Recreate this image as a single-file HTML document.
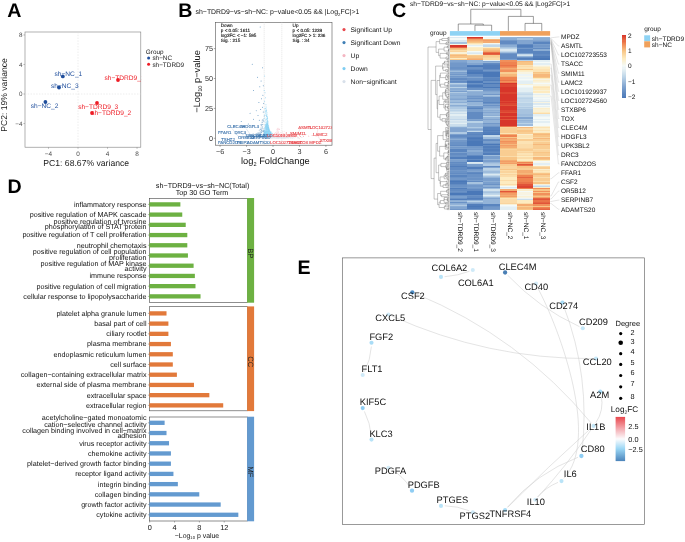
<!DOCTYPE html>
<html lang="en"><head><meta charset="utf-8"><title>Figure</title>
<style>html,body{margin:0;padding:0;background:#fff;}svg{display:block;will-change:transform;}text{font-family:"Liberation Sans",sans-serif;text-rendering:geometricPrecision;}</style>
</head><body>
<svg width="685" height="542" viewBox="0 0 685 542">
<rect x="0" y="0" width="685" height="542" fill="#ffffff"/>
<g>
<text x="7.30" y="17.20" font-size="19.6" fill="#000" text-anchor="start" font-weight="bold" >A</text>
<text x="178.20" y="17.20" font-size="19.6" fill="#000" text-anchor="start" font-weight="bold" >B</text>
<text x="392.00" y="17.20" font-size="19.6" fill="#000" text-anchor="start" font-weight="bold" >C</text>
<text x="7.60" y="192.60" font-size="19.6" fill="#000" text-anchor="start" font-weight="bold" >D</text>
<text x="297.40" y="274.40" font-size="19.6" fill="#000" text-anchor="start" font-weight="bold" >E</text>
</g>
<g>
<rect x="25.00" y="32.00" width="115.80" height="115.20" fill="#fff" stroke="#7f7f7f" stroke-width="0.6" />
<line x1="78.00" y1="32.00" x2="78.00" y2="147.20" stroke="#d9d9d9" stroke-width="0.5" stroke-dasharray="1.4 1.4"/>
<line x1="25.00" y1="94.00" x2="140.80" y2="94.00" stroke="#d9d9d9" stroke-width="0.5" stroke-dasharray="1.4 1.4"/>
<line x1="48.48" y1="147.20" x2="48.48" y2="148.80" stroke="#7f7f7f" stroke-width="0.5" />
<text x="48.48" y="155.90" font-size="6.4" fill="#4d4d4d" text-anchor="middle" font-weight="normal" >−4</text>
<line x1="78.00" y1="147.20" x2="78.00" y2="148.80" stroke="#7f7f7f" stroke-width="0.5" />
<text x="78.00" y="155.90" font-size="6.4" fill="#4d4d4d" text-anchor="middle" font-weight="normal" >0</text>
<line x1="107.52" y1="147.20" x2="107.52" y2="148.80" stroke="#7f7f7f" stroke-width="0.5" />
<text x="107.52" y="155.90" font-size="6.4" fill="#4d4d4d" text-anchor="middle" font-weight="normal" >4</text>
<line x1="137.04" y1="147.20" x2="137.04" y2="148.80" stroke="#7f7f7f" stroke-width="0.5" />
<text x="137.04" y="155.90" font-size="6.4" fill="#4d4d4d" text-anchor="middle" font-weight="normal" >8</text>
<line x1="23.40" y1="123.52" x2="25.00" y2="123.52" stroke="#7f7f7f" stroke-width="0.5" />
<text x="22.40" y="125.72" font-size="6.3" fill="#4d4d4d" text-anchor="end" font-weight="normal" >−4</text>
<line x1="23.40" y1="94.00" x2="25.00" y2="94.00" stroke="#7f7f7f" stroke-width="0.5" />
<text x="22.40" y="96.20" font-size="6.3" fill="#4d4d4d" text-anchor="end" font-weight="normal" >0</text>
<line x1="23.40" y1="64.48" x2="25.00" y2="64.48" stroke="#7f7f7f" stroke-width="0.5" />
<text x="22.40" y="66.68" font-size="6.3" fill="#4d4d4d" text-anchor="end" font-weight="normal" >4</text>
<line x1="23.40" y1="34.96" x2="25.00" y2="34.96" stroke="#7f7f7f" stroke-width="0.5" />
<text x="22.40" y="37.16" font-size="6.3" fill="#4d4d4d" text-anchor="end" font-weight="normal" >8</text>
<clipPath id="clipA"><rect x="25.0" y="32.0" width="116.30000000000001" height="115.19999999999999"/></clipPath>
<g clip-path="url(#clipA)">
<circle cx="62.80" cy="76.40" r="1.90" fill="#1f4e9c" />
<circle cx="59.00" cy="87.50" r="1.90" fill="#1f4e9c" />
<circle cx="45.40" cy="102.00" r="1.90" fill="#1f4e9c" />
<circle cx="118.00" cy="80.00" r="1.90" fill="#ee1c25" />
<circle cx="97.00" cy="103.00" r="1.90" fill="#ee1c25" />
<circle cx="92.00" cy="113.00" r="1.90" fill="#ee1c25" />
<text x="68.40" y="76.40" font-size="6.6" fill="#1f4e9c" text-anchor="middle" font-weight="normal" >sh−NC_1</text>
<text x="64.80" y="87.60" font-size="6.6" fill="#1f4e9c" text-anchor="middle" font-weight="normal" >sh−NC_3</text>
<text x="44.60" y="108.40" font-size="6.6" fill="#1f4e9c" text-anchor="middle" font-weight="normal" >sh−NC_2</text>
<text x="124.50" y="80.40" font-size="6.6" fill="#ee1c25" text-anchor="middle" font-weight="normal" >sh−TDRD9_1</text>
<text x="98.20" y="108.80" font-size="6.6" fill="#ee1c25" text-anchor="middle" font-weight="normal" >sh−TDRD9_3</text>
<text x="111.20" y="114.60" font-size="6.6" fill="#ee1c25" text-anchor="middle" font-weight="normal" >sh−TDRD9_2</text>
</g>
<text x="86.20" y="166.10" font-size="8.65" fill="#1a1a1a" text-anchor="middle" font-weight="normal" >PC1: 68.67% variance</text>
<text transform="translate(6.80,95.00) rotate(-90)" font-size="8.6" fill="#1a1a1a" text-anchor="middle" >PC2: 19% variance</text>
<text x="145.80" y="53.60" font-size="6.4" fill="#1a1a1a" text-anchor="start" font-weight="normal" >Group</text>
<circle cx="148.60" cy="58.00" r="1.50" fill="#1f4e9c" />
<circle cx="148.60" cy="64.30" r="1.50" fill="#ee1c25" />
<text x="152.40" y="60.30" font-size="6.4" fill="#1a1a1a" text-anchor="start" font-weight="normal" >sh−NC</text>
<text x="152.40" y="66.60" font-size="6.4" fill="#1a1a1a" text-anchor="start" font-weight="normal" >sh−TDRD9</text>
</g>
<g>
<text x="195.6" y="14.3" font-size="6.9" fill="#111">sh−TDRD9−vs−sh−NC: p−value&lt;0.05 &amp;&amp; |Log<tspan font-size="4.4" dy="1.6">2</tspan><tspan dy="-1.6">FC|&gt;1</tspan></text>
<rect x="215.40" y="22.30" width="116.60" height="122.90" fill="#fff" stroke="#555" stroke-width="0.6" />
<line x1="264.18" y1="22.30" x2="264.18" y2="145.20" stroke="#c8c8c8" stroke-width="0.5" stroke-dasharray="1 1"/>
<line x1="281.82" y1="22.30" x2="281.82" y2="145.20" stroke="#c8c8c8" stroke-width="0.5" stroke-dasharray="1 1"/>
<line x1="220.08" y1="145.20" x2="220.08" y2="146.80" stroke="#555" stroke-width="0.5" />
<text x="220.08" y="153.80" font-size="7.2" fill="#333" text-anchor="middle" font-weight="normal" >−6</text>
<line x1="246.54" y1="145.20" x2="246.54" y2="146.80" stroke="#555" stroke-width="0.5" />
<text x="246.54" y="153.80" font-size="7.2" fill="#333" text-anchor="middle" font-weight="normal" >−3</text>
<line x1="273.00" y1="145.20" x2="273.00" y2="146.80" stroke="#555" stroke-width="0.5" />
<text x="273.00" y="153.80" font-size="7.2" fill="#333" text-anchor="middle" font-weight="normal" >0</text>
<line x1="299.46" y1="145.20" x2="299.46" y2="146.80" stroke="#555" stroke-width="0.5" />
<text x="299.46" y="153.80" font-size="7.2" fill="#333" text-anchor="middle" font-weight="normal" >3</text>
<line x1="325.92" y1="145.20" x2="325.92" y2="146.80" stroke="#555" stroke-width="0.5" />
<text x="325.92" y="153.80" font-size="7.2" fill="#333" text-anchor="middle" font-weight="normal" >6</text>
<line x1="213.80" y1="138.30" x2="215.40" y2="138.30" stroke="#555" stroke-width="0.5" />
<text x="213.00" y="140.80" font-size="7.2" fill="#333" text-anchor="end" font-weight="normal" >0</text>
<line x1="213.80" y1="108.40" x2="215.40" y2="108.40" stroke="#555" stroke-width="0.5" />
<text x="213.00" y="110.90" font-size="7.2" fill="#333" text-anchor="end" font-weight="normal" >25</text>
<line x1="213.80" y1="78.50" x2="215.40" y2="78.50" stroke="#555" stroke-width="0.5" />
<text x="213.00" y="81.00" font-size="7.2" fill="#333" text-anchor="end" font-weight="normal" >50</text>
<line x1="213.80" y1="48.60" x2="215.40" y2="48.60" stroke="#555" stroke-width="0.5" />
<text x="213.00" y="51.10" font-size="7.2" fill="#333" text-anchor="end" font-weight="normal" >75</text>
<clipPath id="clipB"><rect x="215.4" y="22.3" width="116.6" height="122.89999999999999"/></clipPath>
<g clip-path="url(#clipB)">
<path fill="#d8e0ea" opacity="0.8" d="M269.84 137.96a0.45 0.45 0 1 0 0.90 0a0.45 0.45 0 1 0 -0.90 0M270.16 138.09a0.45 0.45 0 1 0 0.90 0a0.45 0.45 0 1 0 -0.90 0M262.71 138.16a0.45 0.45 0 1 0 0.90 0a0.45 0.45 0 1 0 -0.90 0M284.32 138.02a0.45 0.45 0 1 0 0.90 0a0.45 0.45 0 1 0 -0.90 0M283.52 138.14a0.45 0.45 0 1 0 0.90 0a0.45 0.45 0 1 0 -0.90 0M276.73 138.18a0.45 0.45 0 1 0 0.90 0a0.45 0.45 0 1 0 -0.90 0M254.92 137.74a0.45 0.45 0 1 0 0.90 0a0.45 0.45 0 1 0 -0.90 0M277.91 137.97a0.45 0.45 0 1 0 0.90 0a0.45 0.45 0 1 0 -0.90 0M254.65 137.15a0.45 0.45 0 1 0 0.90 0a0.45 0.45 0 1 0 -0.90 0M263.13 137.99a0.45 0.45 0 1 0 0.90 0a0.45 0.45 0 1 0 -0.90 0M275.78 138.27a0.45 0.45 0 1 0 0.90 0a0.45 0.45 0 1 0 -0.90 0M278.06 137.88a0.45 0.45 0 1 0 0.90 0a0.45 0.45 0 1 0 -0.90 0M275.82 138.04a0.45 0.45 0 1 0 0.90 0a0.45 0.45 0 1 0 -0.90 0M265.55 137.17a0.45 0.45 0 1 0 0.90 0a0.45 0.45 0 1 0 -0.90 0M278.44 137.51a0.45 0.45 0 1 0 0.90 0a0.45 0.45 0 1 0 -0.90 0M265.98 137.81a0.45 0.45 0 1 0 0.90 0a0.45 0.45 0 1 0 -0.90 0M268.91 138.23a0.45 0.45 0 1 0 0.90 0a0.45 0.45 0 1 0 -0.90 0M279.24 138.14a0.45 0.45 0 1 0 0.90 0a0.45 0.45 0 1 0 -0.90 0M267.82 137.67a0.45 0.45 0 1 0 0.90 0a0.45 0.45 0 1 0 -0.90 0M267.04 137.50a0.45 0.45 0 1 0 0.90 0a0.45 0.45 0 1 0 -0.90 0M264.00 138.14a0.45 0.45 0 1 0 0.90 0a0.45 0.45 0 1 0 -0.90 0M277.06 137.32a0.45 0.45 0 1 0 0.90 0a0.45 0.45 0 1 0 -0.90 0M273.06 137.44a0.45 0.45 0 1 0 0.90 0a0.45 0.45 0 1 0 -0.90 0M251.23 138.09a0.45 0.45 0 1 0 0.90 0a0.45 0.45 0 1 0 -0.90 0M271.43 137.76a0.45 0.45 0 1 0 0.90 0a0.45 0.45 0 1 0 -0.90 0M277.81 138.26a0.45 0.45 0 1 0 0.90 0a0.45 0.45 0 1 0 -0.90 0M257.05 137.76a0.45 0.45 0 1 0 0.90 0a0.45 0.45 0 1 0 -0.90 0M279.63 137.68a0.45 0.45 0 1 0 0.90 0a0.45 0.45 0 1 0 -0.90 0M287.80 138.06a0.45 0.45 0 1 0 0.90 0a0.45 0.45 0 1 0 -0.90 0M273.81 137.45a0.45 0.45 0 1 0 0.90 0a0.45 0.45 0 1 0 -0.90 0M279.06 137.90a0.45 0.45 0 1 0 0.90 0a0.45 0.45 0 1 0 -0.90 0M267.76 137.47a0.45 0.45 0 1 0 0.90 0a0.45 0.45 0 1 0 -0.90 0M262.31 137.95a0.45 0.45 0 1 0 0.90 0a0.45 0.45 0 1 0 -0.90 0M286.19 136.96a0.45 0.45 0 1 0 0.90 0a0.45 0.45 0 1 0 -0.90 0M257.12 138.14a0.45 0.45 0 1 0 0.90 0a0.45 0.45 0 1 0 -0.90 0M287.83 137.92a0.45 0.45 0 1 0 0.90 0a0.45 0.45 0 1 0 -0.90 0M252.44 136.64a0.45 0.45 0 1 0 0.90 0a0.45 0.45 0 1 0 -0.90 0M276.33 137.82a0.45 0.45 0 1 0 0.90 0a0.45 0.45 0 1 0 -0.90 0M260.70 137.66a0.45 0.45 0 1 0 0.90 0a0.45 0.45 0 1 0 -0.90 0M284.21 138.20a0.45 0.45 0 1 0 0.90 0a0.45 0.45 0 1 0 -0.90 0M275.15 138.01a0.45 0.45 0 1 0 0.90 0a0.45 0.45 0 1 0 -0.90 0M289.42 137.89a0.45 0.45 0 1 0 0.90 0a0.45 0.45 0 1 0 -0.90 0M278.04 137.94a0.45 0.45 0 1 0 0.90 0a0.45 0.45 0 1 0 -0.90 0M255.95 137.46a0.45 0.45 0 1 0 0.90 0a0.45 0.45 0 1 0 -0.90 0M282.66 137.95a0.45 0.45 0 1 0 0.90 0a0.45 0.45 0 1 0 -0.90 0M251.66 137.88a0.45 0.45 0 1 0 0.90 0a0.45 0.45 0 1 0 -0.90 0M281.46 137.11a0.45 0.45 0 1 0 0.90 0a0.45 0.45 0 1 0 -0.90 0M270.60 137.63a0.45 0.45 0 1 0 0.90 0a0.45 0.45 0 1 0 -0.90 0M258.67 137.24a0.45 0.45 0 1 0 0.90 0a0.45 0.45 0 1 0 -0.90 0M278.39 138.20a0.45 0.45 0 1 0 0.90 0a0.45 0.45 0 1 0 -0.90 0M275.99 137.87a0.45 0.45 0 1 0 0.90 0a0.45 0.45 0 1 0 -0.90 0M273.82 137.55a0.45 0.45 0 1 0 0.90 0a0.45 0.45 0 1 0 -0.90 0M265.55 138.03a0.45 0.45 0 1 0 0.90 0a0.45 0.45 0 1 0 -0.90 0M283.58 138.28a0.45 0.45 0 1 0 0.90 0a0.45 0.45 0 1 0 -0.90 0M263.23 137.68a0.45 0.45 0 1 0 0.90 0a0.45 0.45 0 1 0 -0.90 0M288.06 138.01a0.45 0.45 0 1 0 0.90 0a0.45 0.45 0 1 0 -0.90 0M257.94 138.21a0.45 0.45 0 1 0 0.90 0a0.45 0.45 0 1 0 -0.90 0M270.97 138.10a0.45 0.45 0 1 0 0.90 0a0.45 0.45 0 1 0 -0.90 0M287.42 137.62a0.45 0.45 0 1 0 0.90 0a0.45 0.45 0 1 0 -0.90 0M285.89 137.47a0.45 0.45 0 1 0 0.90 0a0.45 0.45 0 1 0 -0.90 0M264.22 137.88a0.45 0.45 0 1 0 0.90 0a0.45 0.45 0 1 0 -0.90 0M284.50 137.73a0.45 0.45 0 1 0 0.90 0a0.45 0.45 0 1 0 -0.90 0M276.20 138.21a0.45 0.45 0 1 0 0.90 0a0.45 0.45 0 1 0 -0.90 0M274.16 137.92a0.45 0.45 0 1 0 0.90 0a0.45 0.45 0 1 0 -0.90 0M270.69 138.12a0.45 0.45 0 1 0 0.90 0a0.45 0.45 0 1 0 -0.90 0M278.61 138.30a0.45 0.45 0 1 0 0.90 0a0.45 0.45 0 1 0 -0.90 0M280.64 137.93a0.45 0.45 0 1 0 0.90 0a0.45 0.45 0 1 0 -0.90 0M293.83 138.09a0.45 0.45 0 1 0 0.90 0a0.45 0.45 0 1 0 -0.90 0M268.02 138.05a0.45 0.45 0 1 0 0.90 0a0.45 0.45 0 1 0 -0.90 0M272.41 137.69a0.45 0.45 0 1 0 0.90 0a0.45 0.45 0 1 0 -0.90 0M268.99 138.05a0.45 0.45 0 1 0 0.90 0a0.45 0.45 0 1 0 -0.90 0M292.00 136.61a0.45 0.45 0 1 0 0.90 0a0.45 0.45 0 1 0 -0.90 0M260.65 138.14a0.45 0.45 0 1 0 0.90 0a0.45 0.45 0 1 0 -0.90 0M276.77 138.14a0.45 0.45 0 1 0 0.90 0a0.45 0.45 0 1 0 -0.90 0M267.99 137.87a0.45 0.45 0 1 0 0.90 0a0.45 0.45 0 1 0 -0.90 0M275.54 137.96a0.45 0.45 0 1 0 0.90 0a0.45 0.45 0 1 0 -0.90 0M298.27 138.07a0.45 0.45 0 1 0 0.90 0a0.45 0.45 0 1 0 -0.90 0M266.68 138.23a0.45 0.45 0 1 0 0.90 0a0.45 0.45 0 1 0 -0.90 0M270.16 138.26a0.45 0.45 0 1 0 0.90 0a0.45 0.45 0 1 0 -0.90 0M243.68 137.98a0.45 0.45 0 1 0 0.90 0a0.45 0.45 0 1 0 -0.90 0M283.22 137.53a0.45 0.45 0 1 0 0.90 0a0.45 0.45 0 1 0 -0.90 0M271.84 137.67a0.45 0.45 0 1 0 0.90 0a0.45 0.45 0 1 0 -0.90 0M281.61 137.32a0.45 0.45 0 1 0 0.90 0a0.45 0.45 0 1 0 -0.90 0M254.54 138.07a0.45 0.45 0 1 0 0.90 0a0.45 0.45 0 1 0 -0.90 0M268.94 137.89a0.45 0.45 0 1 0 0.90 0a0.45 0.45 0 1 0 -0.90 0M284.11 136.54a0.45 0.45 0 1 0 0.90 0a0.45 0.45 0 1 0 -0.90 0M284.07 137.35a0.45 0.45 0 1 0 0.90 0a0.45 0.45 0 1 0 -0.90 0M279.78 137.32a0.45 0.45 0 1 0 0.90 0a0.45 0.45 0 1 0 -0.90 0M274.41 137.51a0.45 0.45 0 1 0 0.90 0a0.45 0.45 0 1 0 -0.90 0M270.97 138.17a0.45 0.45 0 1 0 0.90 0a0.45 0.45 0 1 0 -0.90 0M280.99 138.21a0.45 0.45 0 1 0 0.90 0a0.45 0.45 0 1 0 -0.90 0M271.61 137.29a0.45 0.45 0 1 0 0.90 0a0.45 0.45 0 1 0 -0.90 0M283.65 138.11a0.45 0.45 0 1 0 0.90 0a0.45 0.45 0 1 0 -0.90 0M301.61 137.55a0.45 0.45 0 1 0 0.90 0a0.45 0.45 0 1 0 -0.90 0M282.23 138.13a0.45 0.45 0 1 0 0.90 0a0.45 0.45 0 1 0 -0.90 0M273.95 137.84a0.45 0.45 0 1 0 0.90 0a0.45 0.45 0 1 0 -0.90 0M274.90 137.88a0.45 0.45 0 1 0 0.90 0a0.45 0.45 0 1 0 -0.90 0M256.38 137.31a0.45 0.45 0 1 0 0.90 0a0.45 0.45 0 1 0 -0.90 0M279.06 137.67a0.45 0.45 0 1 0 0.90 0a0.45 0.45 0 1 0 -0.90 0M261.68 137.33a0.45 0.45 0 1 0 0.90 0a0.45 0.45 0 1 0 -0.90 0M285.95 137.81a0.45 0.45 0 1 0 0.90 0a0.45 0.45 0 1 0 -0.90 0M288.14 137.68a0.45 0.45 0 1 0 0.90 0a0.45 0.45 0 1 0 -0.90 0M272.56 137.55a0.45 0.45 0 1 0 0.90 0a0.45 0.45 0 1 0 -0.90 0M280.66 137.25a0.45 0.45 0 1 0 0.90 0a0.45 0.45 0 1 0 -0.90 0M263.13 137.27a0.45 0.45 0 1 0 0.90 0a0.45 0.45 0 1 0 -0.90 0M283.01 138.18a0.45 0.45 0 1 0 0.90 0a0.45 0.45 0 1 0 -0.90 0M251.68 137.37a0.45 0.45 0 1 0 0.90 0a0.45 0.45 0 1 0 -0.90 0M271.53 137.90a0.45 0.45 0 1 0 0.90 0a0.45 0.45 0 1 0 -0.90 0M276.78 138.03a0.45 0.45 0 1 0 0.90 0a0.45 0.45 0 1 0 -0.90 0M288.41 137.63a0.45 0.45 0 1 0 0.90 0a0.45 0.45 0 1 0 -0.90 0M284.58 137.32a0.45 0.45 0 1 0 0.90 0a0.45 0.45 0 1 0 -0.90 0M287.92 138.18a0.45 0.45 0 1 0 0.90 0a0.45 0.45 0 1 0 -0.90 0M264.68 137.63a0.45 0.45 0 1 0 0.90 0a0.45 0.45 0 1 0 -0.90 0M273.77 138.22a0.45 0.45 0 1 0 0.90 0a0.45 0.45 0 1 0 -0.90 0M287.62 138.13a0.45 0.45 0 1 0 0.90 0a0.45 0.45 0 1 0 -0.90 0M248.24 138.05a0.45 0.45 0 1 0 0.90 0a0.45 0.45 0 1 0 -0.90 0M252.93 137.76a0.45 0.45 0 1 0 0.90 0a0.45 0.45 0 1 0 -0.90 0M275.91 137.90a0.45 0.45 0 1 0 0.90 0a0.45 0.45 0 1 0 -0.90 0M272.45 137.75a0.45 0.45 0 1 0 0.90 0a0.45 0.45 0 1 0 -0.90 0M273.39 137.43a0.45 0.45 0 1 0 0.90 0a0.45 0.45 0 1 0 -0.90 0M271.90 137.62a0.45 0.45 0 1 0 0.90 0a0.45 0.45 0 1 0 -0.90 0M288.34 137.24a0.45 0.45 0 1 0 0.90 0a0.45 0.45 0 1 0 -0.90 0M265.44 137.72a0.45 0.45 0 1 0 0.90 0a0.45 0.45 0 1 0 -0.90 0M252.69 137.59a0.45 0.45 0 1 0 0.90 0a0.45 0.45 0 1 0 -0.90 0M251.78 137.60a0.45 0.45 0 1 0 0.90 0a0.45 0.45 0 1 0 -0.90 0M259.51 138.29a0.45 0.45 0 1 0 0.90 0a0.45 0.45 0 1 0 -0.90 0M270.52 138.28a0.45 0.45 0 1 0 0.90 0a0.45 0.45 0 1 0 -0.90 0M266.29 138.15a0.45 0.45 0 1 0 0.90 0a0.45 0.45 0 1 0 -0.90 0M291.51 138.27a0.45 0.45 0 1 0 0.90 0a0.45 0.45 0 1 0 -0.90 0M278.17 137.64a0.45 0.45 0 1 0 0.90 0a0.45 0.45 0 1 0 -0.90 0M270.45 137.47a0.45 0.45 0 1 0 0.90 0a0.45 0.45 0 1 0 -0.90 0M266.67 137.59a0.45 0.45 0 1 0 0.90 0a0.45 0.45 0 1 0 -0.90 0M255.13 137.91a0.45 0.45 0 1 0 0.90 0a0.45 0.45 0 1 0 -0.90 0M283.21 137.78a0.45 0.45 0 1 0 0.90 0a0.45 0.45 0 1 0 -0.90 0M272.63 137.77a0.45 0.45 0 1 0 0.90 0a0.45 0.45 0 1 0 -0.90 0M274.31 137.52a0.45 0.45 0 1 0 0.90 0a0.45 0.45 0 1 0 -0.90 0M256.00 137.88a0.45 0.45 0 1 0 0.90 0a0.45 0.45 0 1 0 -0.90 0M282.32 137.93a0.45 0.45 0 1 0 0.90 0a0.45 0.45 0 1 0 -0.90 0M263.00 137.79a0.45 0.45 0 1 0 0.90 0a0.45 0.45 0 1 0 -0.90 0M256.34 138.22a0.45 0.45 0 1 0 0.90 0a0.45 0.45 0 1 0 -0.90 0M260.07 138.06a0.45 0.45 0 1 0 0.90 0a0.45 0.45 0 1 0 -0.90 0M247.57 138.08a0.45 0.45 0 1 0 0.90 0a0.45 0.45 0 1 0 -0.90 0M265.76 137.02a0.45 0.45 0 1 0 0.90 0a0.45 0.45 0 1 0 -0.90 0M280.22 138.12a0.45 0.45 0 1 0 0.90 0a0.45 0.45 0 1 0 -0.90 0M248.95 137.72a0.45 0.45 0 1 0 0.90 0a0.45 0.45 0 1 0 -0.90 0M275.63 138.00a0.45 0.45 0 1 0 0.90 0a0.45 0.45 0 1 0 -0.90 0M280.81 137.81a0.45 0.45 0 1 0 0.90 0a0.45 0.45 0 1 0 -0.90 0M279.60 138.09a0.45 0.45 0 1 0 0.90 0a0.45 0.45 0 1 0 -0.90 0M286.67 137.87a0.45 0.45 0 1 0 0.90 0a0.45 0.45 0 1 0 -0.90 0M277.33 136.93a0.45 0.45 0 1 0 0.90 0a0.45 0.45 0 1 0 -0.90 0M282.04 137.44a0.45 0.45 0 1 0 0.90 0a0.45 0.45 0 1 0 -0.90 0M269.41 137.99a0.45 0.45 0 1 0 0.90 0a0.45 0.45 0 1 0 -0.90 0M293.09 137.14a0.45 0.45 0 1 0 0.90 0a0.45 0.45 0 1 0 -0.90 0M277.51 136.71a0.45 0.45 0 1 0 0.90 0a0.45 0.45 0 1 0 -0.90 0M262.73 137.85a0.45 0.45 0 1 0 0.90 0a0.45 0.45 0 1 0 -0.90 0M292.52 138.22a0.45 0.45 0 1 0 0.90 0a0.45 0.45 0 1 0 -0.90 0M278.49 137.71a0.45 0.45 0 1 0 0.90 0a0.45 0.45 0 1 0 -0.90 0M262.96 138.24a0.45 0.45 0 1 0 0.90 0a0.45 0.45 0 1 0 -0.90 0M275.65 137.76a0.45 0.45 0 1 0 0.90 0a0.45 0.45 0 1 0 -0.90 0M272.18 138.17a0.45 0.45 0 1 0 0.90 0a0.45 0.45 0 1 0 -0.90 0M261.80 138.06a0.45 0.45 0 1 0 0.90 0a0.45 0.45 0 1 0 -0.90 0M281.99 138.23a0.45 0.45 0 1 0 0.90 0a0.45 0.45 0 1 0 -0.90 0M263.52 137.75a0.45 0.45 0 1 0 0.90 0a0.45 0.45 0 1 0 -0.90 0M300.77 137.55a0.45 0.45 0 1 0 0.90 0a0.45 0.45 0 1 0 -0.90 0M279.30 136.59a0.45 0.45 0 1 0 0.90 0a0.45 0.45 0 1 0 -0.90 0M279.13 137.98a0.45 0.45 0 1 0 0.90 0a0.45 0.45 0 1 0 -0.90 0M290.37 138.02a0.45 0.45 0 1 0 0.90 0a0.45 0.45 0 1 0 -0.90 0M271.84 137.96a0.45 0.45 0 1 0 0.90 0a0.45 0.45 0 1 0 -0.90 0M251.97 137.62a0.45 0.45 0 1 0 0.90 0a0.45 0.45 0 1 0 -0.90 0M275.99 137.84a0.45 0.45 0 1 0 0.90 0a0.45 0.45 0 1 0 -0.90 0M286.58 137.11a0.45 0.45 0 1 0 0.90 0a0.45 0.45 0 1 0 -0.90 0M257.71 137.86a0.45 0.45 0 1 0 0.90 0a0.45 0.45 0 1 0 -0.90 0M275.63 138.18a0.45 0.45 0 1 0 0.90 0a0.45 0.45 0 1 0 -0.90 0M268.33 137.66a0.45 0.45 0 1 0 0.90 0a0.45 0.45 0 1 0 -0.90 0M294.99 137.62a0.45 0.45 0 1 0 0.90 0a0.45 0.45 0 1 0 -0.90 0M259.91 137.42a0.45 0.45 0 1 0 0.90 0a0.45 0.45 0 1 0 -0.90 0M290.58 137.65a0.45 0.45 0 1 0 0.90 0a0.45 0.45 0 1 0 -0.90 0M291.82 137.77a0.45 0.45 0 1 0 0.90 0a0.45 0.45 0 1 0 -0.90 0M263.32 138.13a0.45 0.45 0 1 0 0.90 0a0.45 0.45 0 1 0 -0.90 0M249.69 137.81a0.45 0.45 0 1 0 0.90 0a0.45 0.45 0 1 0 -0.90 0M271.93 137.96a0.45 0.45 0 1 0 0.90 0a0.45 0.45 0 1 0 -0.90 0M264.85 138.22a0.45 0.45 0 1 0 0.90 0a0.45 0.45 0 1 0 -0.90 0M277.40 138.05a0.45 0.45 0 1 0 0.90 0a0.45 0.45 0 1 0 -0.90 0M279.30 138.16a0.45 0.45 0 1 0 0.90 0a0.45 0.45 0 1 0 -0.90 0M269.12 137.78a0.45 0.45 0 1 0 0.90 0a0.45 0.45 0 1 0 -0.90 0M273.07 137.76a0.45 0.45 0 1 0 0.90 0a0.45 0.45 0 1 0 -0.90 0M265.93 138.30a0.45 0.45 0 1 0 0.90 0a0.45 0.45 0 1 0 -0.90 0M271.39 138.20a0.45 0.45 0 1 0 0.90 0a0.45 0.45 0 1 0 -0.90 0M272.54 138.18a0.45 0.45 0 1 0 0.90 0a0.45 0.45 0 1 0 -0.90 0M271.13 137.47a0.45 0.45 0 1 0 0.90 0a0.45 0.45 0 1 0 -0.90 0M277.01 137.61a0.45 0.45 0 1 0 0.90 0a0.45 0.45 0 1 0 -0.90 0M277.15 138.18a0.45 0.45 0 1 0 0.90 0a0.45 0.45 0 1 0 -0.90 0M277.28 137.66a0.45 0.45 0 1 0 0.90 0a0.45 0.45 0 1 0 -0.90 0M252.48 138.26a0.45 0.45 0 1 0 0.90 0a0.45 0.45 0 1 0 -0.90 0M262.70 137.81a0.45 0.45 0 1 0 0.90 0a0.45 0.45 0 1 0 -0.90 0M261.08 136.57a0.45 0.45 0 1 0 0.90 0a0.45 0.45 0 1 0 -0.90 0M261.55 137.26a0.45 0.45 0 1 0 0.90 0a0.45 0.45 0 1 0 -0.90 0M268.51 137.40a0.45 0.45 0 1 0 0.90 0a0.45 0.45 0 1 0 -0.90 0M264.47 137.96a0.45 0.45 0 1 0 0.90 0a0.45 0.45 0 1 0 -0.90 0M277.81 138.18a0.45 0.45 0 1 0 0.90 0a0.45 0.45 0 1 0 -0.90 0M288.26 137.84a0.45 0.45 0 1 0 0.90 0a0.45 0.45 0 1 0 -0.90 0M272.33 137.91a0.45 0.45 0 1 0 0.90 0a0.45 0.45 0 1 0 -0.90 0M290.06 137.66a0.45 0.45 0 1 0 0.90 0a0.45 0.45 0 1 0 -0.90 0M283.39 137.59a0.45 0.45 0 1 0 0.90 0a0.45 0.45 0 1 0 -0.90 0M270.98 137.82a0.45 0.45 0 1 0 0.90 0a0.45 0.45 0 1 0 -0.90 0M269.41 137.60a0.45 0.45 0 1 0 0.90 0a0.45 0.45 0 1 0 -0.90 0M278.86 137.70a0.45 0.45 0 1 0 0.90 0a0.45 0.45 0 1 0 -0.90 0M270.30 136.62a0.45 0.45 0 1 0 0.90 0a0.45 0.45 0 1 0 -0.90 0M285.67 138.16a0.45 0.45 0 1 0 0.90 0a0.45 0.45 0 1 0 -0.90 0M273.51 136.59a0.45 0.45 0 1 0 0.90 0a0.45 0.45 0 1 0 -0.90 0M268.92 137.72a0.45 0.45 0 1 0 0.90 0a0.45 0.45 0 1 0 -0.90 0M282.93 138.30a0.45 0.45 0 1 0 0.90 0a0.45 0.45 0 1 0 -0.90 0M260.20 138.18a0.45 0.45 0 1 0 0.90 0a0.45 0.45 0 1 0 -0.90 0M276.35 137.56a0.45 0.45 0 1 0 0.90 0a0.45 0.45 0 1 0 -0.90 0M280.84 138.28a0.45 0.45 0 1 0 0.90 0a0.45 0.45 0 1 0 -0.90 0M281.58 137.94a0.45 0.45 0 1 0 0.90 0a0.45 0.45 0 1 0 -0.90 0M274.73 138.26a0.45 0.45 0 1 0 0.90 0a0.45 0.45 0 1 0 -0.90 0M269.97 137.85a0.45 0.45 0 1 0 0.90 0a0.45 0.45 0 1 0 -0.90 0M261.39 137.89a0.45 0.45 0 1 0 0.90 0a0.45 0.45 0 1 0 -0.90 0M272.60 137.34a0.45 0.45 0 1 0 0.90 0a0.45 0.45 0 1 0 -0.90 0M267.94 136.98a0.45 0.45 0 1 0 0.90 0a0.45 0.45 0 1 0 -0.90 0M265.32 137.93a0.45 0.45 0 1 0 0.90 0a0.45 0.45 0 1 0 -0.90 0M278.54 138.26a0.45 0.45 0 1 0 0.90 0a0.45 0.45 0 1 0 -0.90 0M270.09 137.37a0.45 0.45 0 1 0 0.90 0a0.45 0.45 0 1 0 -0.90 0M291.90 137.96a0.45 0.45 0 1 0 0.90 0a0.45 0.45 0 1 0 -0.90 0M284.12 137.72a0.45 0.45 0 1 0 0.90 0a0.45 0.45 0 1 0 -0.90 0M270.59 137.10a0.45 0.45 0 1 0 0.90 0a0.45 0.45 0 1 0 -0.90 0M280.81 137.68a0.45 0.45 0 1 0 0.90 0a0.45 0.45 0 1 0 -0.90 0M252.47 138.27a0.45 0.45 0 1 0 0.90 0a0.45 0.45 0 1 0 -0.90 0M279.22 137.14a0.45 0.45 0 1 0 0.90 0a0.45 0.45 0 1 0 -0.90 0M253.23 137.60a0.45 0.45 0 1 0 0.90 0a0.45 0.45 0 1 0 -0.90 0M265.89 137.38a0.45 0.45 0 1 0 0.90 0a0.45 0.45 0 1 0 -0.90 0M272.88 138.14a0.45 0.45 0 1 0 0.90 0a0.45 0.45 0 1 0 -0.90 0M279.26 137.84a0.45 0.45 0 1 0 0.90 0a0.45 0.45 0 1 0 -0.90 0M288.45 137.53a0.45 0.45 0 1 0 0.90 0a0.45 0.45 0 1 0 -0.90 0M258.67 137.97a0.45 0.45 0 1 0 0.90 0a0.45 0.45 0 1 0 -0.90 0M261.33 137.59a0.45 0.45 0 1 0 0.90 0a0.45 0.45 0 1 0 -0.90 0M271.69 138.30a0.45 0.45 0 1 0 0.90 0a0.45 0.45 0 1 0 -0.90 0M277.74 137.26a0.45 0.45 0 1 0 0.90 0a0.45 0.45 0 1 0 -0.90 0M259.45 138.28a0.45 0.45 0 1 0 0.90 0a0.45 0.45 0 1 0 -0.90 0M270.44 138.10a0.45 0.45 0 1 0 0.90 0a0.45 0.45 0 1 0 -0.90 0M271.88 137.80a0.45 0.45 0 1 0 0.90 0a0.45 0.45 0 1 0 -0.90 0M279.97 138.07a0.45 0.45 0 1 0 0.90 0a0.45 0.45 0 1 0 -0.90 0M271.62 137.86a0.45 0.45 0 1 0 0.90 0a0.45 0.45 0 1 0 -0.90 0M270.71 136.51a0.45 0.45 0 1 0 0.90 0a0.45 0.45 0 1 0 -0.90 0M262.16 138.28a0.45 0.45 0 1 0 0.90 0a0.45 0.45 0 1 0 -0.90 0M256.63 138.17a0.45 0.45 0 1 0 0.90 0a0.45 0.45 0 1 0 -0.90 0M274.11 137.39a0.45 0.45 0 1 0 0.90 0a0.45 0.45 0 1 0 -0.90 0M269.90 138.09a0.45 0.45 0 1 0 0.90 0a0.45 0.45 0 1 0 -0.90 0M277.42 137.90a0.45 0.45 0 1 0 0.90 0a0.45 0.45 0 1 0 -0.90 0M272.17 137.74a0.45 0.45 0 1 0 0.90 0a0.45 0.45 0 1 0 -0.90 0M271.02 138.26a0.45 0.45 0 1 0 0.90 0a0.45 0.45 0 1 0 -0.90 0M280.32 138.11a0.45 0.45 0 1 0 0.90 0a0.45 0.45 0 1 0 -0.90 0M264.90 137.41a0.45 0.45 0 1 0 0.90 0a0.45 0.45 0 1 0 -0.90 0M268.60 137.81a0.45 0.45 0 1 0 0.90 0a0.45 0.45 0 1 0 -0.90 0M260.78 138.22a0.45 0.45 0 1 0 0.90 0a0.45 0.45 0 1 0 -0.90 0M267.35 138.23a0.45 0.45 0 1 0 0.90 0a0.45 0.45 0 1 0 -0.90 0M278.09 138.03a0.45 0.45 0 1 0 0.90 0a0.45 0.45 0 1 0 -0.90 0M297.15 138.09a0.45 0.45 0 1 0 0.90 0a0.45 0.45 0 1 0 -0.90 0M284.21 138.22a0.45 0.45 0 1 0 0.90 0a0.45 0.45 0 1 0 -0.90 0M284.36 136.74a0.45 0.45 0 1 0 0.90 0a0.45 0.45 0 1 0 -0.90 0M264.60 138.14a0.45 0.45 0 1 0 0.90 0a0.45 0.45 0 1 0 -0.90 0M278.93 136.76a0.45 0.45 0 1 0 0.90 0a0.45 0.45 0 1 0 -0.90 0M275.96 137.46a0.45 0.45 0 1 0 0.90 0a0.45 0.45 0 1 0 -0.90 0M280.66 137.68a0.45 0.45 0 1 0 0.90 0a0.45 0.45 0 1 0 -0.90 0M277.95 138.20a0.45 0.45 0 1 0 0.90 0a0.45 0.45 0 1 0 -0.90 0M277.94 137.59a0.45 0.45 0 1 0 0.90 0a0.45 0.45 0 1 0 -0.90 0M285.05 137.63a0.45 0.45 0 1 0 0.90 0a0.45 0.45 0 1 0 -0.90 0M275.19 136.90a0.45 0.45 0 1 0 0.90 0a0.45 0.45 0 1 0 -0.90 0M270.19 138.29a0.45 0.45 0 1 0 0.90 0a0.45 0.45 0 1 0 -0.90 0M284.86 138.28a0.45 0.45 0 1 0 0.90 0a0.45 0.45 0 1 0 -0.90 0M264.00 138.13a0.45 0.45 0 1 0 0.90 0a0.45 0.45 0 1 0 -0.90 0M278.71 137.83a0.45 0.45 0 1 0 0.90 0a0.45 0.45 0 1 0 -0.90 0M264.37 137.15a0.45 0.45 0 1 0 0.90 0a0.45 0.45 0 1 0 -0.90 0M290.19 138.29a0.45 0.45 0 1 0 0.90 0a0.45 0.45 0 1 0 -0.90 0M275.39 138.02a0.45 0.45 0 1 0 0.90 0a0.45 0.45 0 1 0 -0.90 0M287.52 137.84a0.45 0.45 0 1 0 0.90 0a0.45 0.45 0 1 0 -0.90 0M279.68 137.98a0.45 0.45 0 1 0 0.90 0a0.45 0.45 0 1 0 -0.90 0M265.20 137.83a0.45 0.45 0 1 0 0.90 0a0.45 0.45 0 1 0 -0.90 0M286.67 138.29a0.45 0.45 0 1 0 0.90 0a0.45 0.45 0 1 0 -0.90 0M265.38 137.77a0.45 0.45 0 1 0 0.90 0a0.45 0.45 0 1 0 -0.90 0M272.03 138.10a0.45 0.45 0 1 0 0.90 0a0.45 0.45 0 1 0 -0.90 0M288.67 137.56a0.45 0.45 0 1 0 0.90 0a0.45 0.45 0 1 0 -0.90 0M267.05 136.80a0.45 0.45 0 1 0 0.90 0a0.45 0.45 0 1 0 -0.90 0M272.59 137.78a0.45 0.45 0 1 0 0.90 0a0.45 0.45 0 1 0 -0.90 0M265.70 138.27a0.45 0.45 0 1 0 0.90 0a0.45 0.45 0 1 0 -0.90 0M254.03 137.12a0.45 0.45 0 1 0 0.90 0a0.45 0.45 0 1 0 -0.90 0M287.01 137.50a0.45 0.45 0 1 0 0.90 0a0.45 0.45 0 1 0 -0.90 0M256.62 137.23a0.45 0.45 0 1 0 0.90 0a0.45 0.45 0 1 0 -0.90 0M284.99 138.00a0.45 0.45 0 1 0 0.90 0a0.45 0.45 0 1 0 -0.90 0M271.91 138.09a0.45 0.45 0 1 0 0.90 0a0.45 0.45 0 1 0 -0.90 0M271.27 137.58a0.45 0.45 0 1 0 0.90 0a0.45 0.45 0 1 0 -0.90 0M272.81 137.35a0.45 0.45 0 1 0 0.90 0a0.45 0.45 0 1 0 -0.90 0M271.79 138.10a0.45 0.45 0 1 0 0.90 0a0.45 0.45 0 1 0 -0.90 0M277.50 138.15a0.45 0.45 0 1 0 0.90 0a0.45 0.45 0 1 0 -0.90 0M262.99 138.20a0.45 0.45 0 1 0 0.90 0a0.45 0.45 0 1 0 -0.90 0M267.42 137.27a0.45 0.45 0 1 0 0.90 0a0.45 0.45 0 1 0 -0.90 0M280.68 138.22a0.45 0.45 0 1 0 0.90 0a0.45 0.45 0 1 0 -0.90 0M267.56 137.84a0.45 0.45 0 1 0 0.90 0a0.45 0.45 0 1 0 -0.90 0M262.63 138.07a0.45 0.45 0 1 0 0.90 0a0.45 0.45 0 1 0 -0.90 0"/>
<path d="M261.98,137.10 L264.18,131.12 L265.50,124.55 L267.53,123.35 L269.30,128.13 L271.24,133.52 L273.00,137.10 Z" fill="#93d4f4" opacity="0.8"/>
<path fill="#7fcdf2" opacity="0.75" d="M266.61 133.48a0.45 0.45 0 1 0 0.90 0a0.45 0.45 0 1 0 -0.90 0M266.12 111.19a0.45 0.45 0 1 0 0.90 0a0.45 0.45 0 1 0 -0.90 0M268.81 130.13a0.45 0.45 0 1 0 0.90 0a0.45 0.45 0 1 0 -0.90 0M267.23 117.89a0.45 0.45 0 1 0 0.90 0a0.45 0.45 0 1 0 -0.90 0M268.41 135.65a0.45 0.45 0 1 0 0.90 0a0.45 0.45 0 1 0 -0.90 0M266.88 135.75a0.45 0.45 0 1 0 0.90 0a0.45 0.45 0 1 0 -0.90 0M267.78 134.61a0.45 0.45 0 1 0 0.90 0a0.45 0.45 0 1 0 -0.90 0M266.45 132.17a0.45 0.45 0 1 0 0.90 0a0.45 0.45 0 1 0 -0.90 0M271.43 133.44a0.45 0.45 0 1 0 0.90 0a0.45 0.45 0 1 0 -0.90 0M269.21 134.74a0.45 0.45 0 1 0 0.90 0a0.45 0.45 0 1 0 -0.90 0M269.56 135.15a0.45 0.45 0 1 0 0.90 0a0.45 0.45 0 1 0 -0.90 0M265.87 129.34a0.45 0.45 0 1 0 0.90 0a0.45 0.45 0 1 0 -0.90 0M265.61 107.02a0.45 0.45 0 1 0 0.90 0a0.45 0.45 0 1 0 -0.90 0M266.58 135.03a0.45 0.45 0 1 0 0.90 0a0.45 0.45 0 1 0 -0.90 0M270.37 132.63a0.45 0.45 0 1 0 0.90 0a0.45 0.45 0 1 0 -0.90 0M267.32 134.29a0.45 0.45 0 1 0 0.90 0a0.45 0.45 0 1 0 -0.90 0M267.48 131.74a0.45 0.45 0 1 0 0.90 0a0.45 0.45 0 1 0 -0.90 0M265.61 125.89a0.45 0.45 0 1 0 0.90 0a0.45 0.45 0 1 0 -0.90 0M268.48 129.22a0.45 0.45 0 1 0 0.90 0a0.45 0.45 0 1 0 -0.90 0M266.70 121.19a0.45 0.45 0 1 0 0.90 0a0.45 0.45 0 1 0 -0.90 0M267.18 119.90a0.45 0.45 0 1 0 0.90 0a0.45 0.45 0 1 0 -0.90 0M270.15 136.75a0.45 0.45 0 1 0 0.90 0a0.45 0.45 0 1 0 -0.90 0M266.77 129.76a0.45 0.45 0 1 0 0.90 0a0.45 0.45 0 1 0 -0.90 0M269.09 131.33a0.45 0.45 0 1 0 0.90 0a0.45 0.45 0 1 0 -0.90 0M265.62 135.01a0.45 0.45 0 1 0 0.90 0a0.45 0.45 0 1 0 -0.90 0M267.55 135.35a0.45 0.45 0 1 0 0.90 0a0.45 0.45 0 1 0 -0.90 0M270.56 132.20a0.45 0.45 0 1 0 0.90 0a0.45 0.45 0 1 0 -0.90 0M267.73 127.43a0.45 0.45 0 1 0 0.90 0a0.45 0.45 0 1 0 -0.90 0M269.51 134.67a0.45 0.45 0 1 0 0.90 0a0.45 0.45 0 1 0 -0.90 0M270.26 134.42a0.45 0.45 0 1 0 0.90 0a0.45 0.45 0 1 0 -0.90 0M266.31 132.58a0.45 0.45 0 1 0 0.90 0a0.45 0.45 0 1 0 -0.90 0M264.48 131.21a0.45 0.45 0 1 0 0.90 0a0.45 0.45 0 1 0 -0.90 0M268.79 136.22a0.45 0.45 0 1 0 0.90 0a0.45 0.45 0 1 0 -0.90 0M267.29 125.26a0.45 0.45 0 1 0 0.90 0a0.45 0.45 0 1 0 -0.90 0M264.12 135.43a0.45 0.45 0 1 0 0.90 0a0.45 0.45 0 1 0 -0.90 0M264.83 122.47a0.45 0.45 0 1 0 0.90 0a0.45 0.45 0 1 0 -0.90 0M266.11 128.23a0.45 0.45 0 1 0 0.90 0a0.45 0.45 0 1 0 -0.90 0M266.76 136.68a0.45 0.45 0 1 0 0.90 0a0.45 0.45 0 1 0 -0.90 0M264.31 131.59a0.45 0.45 0 1 0 0.90 0a0.45 0.45 0 1 0 -0.90 0M265.90 119.66a0.45 0.45 0 1 0 0.90 0a0.45 0.45 0 1 0 -0.90 0M265.39 132.03a0.45 0.45 0 1 0 0.90 0a0.45 0.45 0 1 0 -0.90 0M268.93 135.59a0.45 0.45 0 1 0 0.90 0a0.45 0.45 0 1 0 -0.90 0M263.92 132.30a0.45 0.45 0 1 0 0.90 0a0.45 0.45 0 1 0 -0.90 0M268.10 136.67a0.45 0.45 0 1 0 0.90 0a0.45 0.45 0 1 0 -0.90 0M270.56 135.15a0.45 0.45 0 1 0 0.90 0a0.45 0.45 0 1 0 -0.90 0M267.22 133.49a0.45 0.45 0 1 0 0.90 0a0.45 0.45 0 1 0 -0.90 0M269.75 135.96a0.45 0.45 0 1 0 0.90 0a0.45 0.45 0 1 0 -0.90 0M271.62 136.69a0.45 0.45 0 1 0 0.90 0a0.45 0.45 0 1 0 -0.90 0M268.47 131.24a0.45 0.45 0 1 0 0.90 0a0.45 0.45 0 1 0 -0.90 0M265.30 132.98a0.45 0.45 0 1 0 0.90 0a0.45 0.45 0 1 0 -0.90 0M266.20 125.02a0.45 0.45 0 1 0 0.90 0a0.45 0.45 0 1 0 -0.90 0M270.72 136.12a0.45 0.45 0 1 0 0.90 0a0.45 0.45 0 1 0 -0.90 0M265.39 112.77a0.45 0.45 0 1 0 0.90 0a0.45 0.45 0 1 0 -0.90 0M267.62 134.49a0.45 0.45 0 1 0 0.90 0a0.45 0.45 0 1 0 -0.90 0M266.59 131.57a0.45 0.45 0 1 0 0.90 0a0.45 0.45 0 1 0 -0.90 0M264.79 133.51a0.45 0.45 0 1 0 0.90 0a0.45 0.45 0 1 0 -0.90 0M268.03 135.06a0.45 0.45 0 1 0 0.90 0a0.45 0.45 0 1 0 -0.90 0M270.09 131.96a0.45 0.45 0 1 0 0.90 0a0.45 0.45 0 1 0 -0.90 0M265.63 134.20a0.45 0.45 0 1 0 0.90 0a0.45 0.45 0 1 0 -0.90 0M268.45 127.93a0.45 0.45 0 1 0 0.90 0a0.45 0.45 0 1 0 -0.90 0M266.31 134.56a0.45 0.45 0 1 0 0.90 0a0.45 0.45 0 1 0 -0.90 0M266.52 129.03a0.45 0.45 0 1 0 0.90 0a0.45 0.45 0 1 0 -0.90 0M267.01 118.32a0.45 0.45 0 1 0 0.90 0a0.45 0.45 0 1 0 -0.90 0M264.59 109.79a0.45 0.45 0 1 0 0.90 0a0.45 0.45 0 1 0 -0.90 0M269.65 131.70a0.45 0.45 0 1 0 0.90 0a0.45 0.45 0 1 0 -0.90 0M267.93 125.25a0.45 0.45 0 1 0 0.90 0a0.45 0.45 0 1 0 -0.90 0M266.02 116.47a0.45 0.45 0 1 0 0.90 0a0.45 0.45 0 1 0 -0.90 0M264.06 130.50a0.45 0.45 0 1 0 0.90 0a0.45 0.45 0 1 0 -0.90 0M266.61 129.74a0.45 0.45 0 1 0 0.90 0a0.45 0.45 0 1 0 -0.90 0M267.92 136.74a0.45 0.45 0 1 0 0.90 0a0.45 0.45 0 1 0 -0.90 0M266.09 131.16a0.45 0.45 0 1 0 0.90 0a0.45 0.45 0 1 0 -0.90 0M270.53 136.42a0.45 0.45 0 1 0 0.90 0a0.45 0.45 0 1 0 -0.90 0M265.79 128.73a0.45 0.45 0 1 0 0.90 0a0.45 0.45 0 1 0 -0.90 0M267.59 124.80a0.45 0.45 0 1 0 0.90 0a0.45 0.45 0 1 0 -0.90 0M266.23 136.18a0.45 0.45 0 1 0 0.90 0a0.45 0.45 0 1 0 -0.90 0M269.37 134.48a0.45 0.45 0 1 0 0.90 0a0.45 0.45 0 1 0 -0.90 0M270.71 136.17a0.45 0.45 0 1 0 0.90 0a0.45 0.45 0 1 0 -0.90 0M270.35 136.69a0.45 0.45 0 1 0 0.90 0a0.45 0.45 0 1 0 -0.90 0M270.67 133.28a0.45 0.45 0 1 0 0.90 0a0.45 0.45 0 1 0 -0.90 0M265.12 136.27a0.45 0.45 0 1 0 0.90 0a0.45 0.45 0 1 0 -0.90 0M266.48 113.15a0.45 0.45 0 1 0 0.90 0a0.45 0.45 0 1 0 -0.90 0M267.09 133.26a0.45 0.45 0 1 0 0.90 0a0.45 0.45 0 1 0 -0.90 0M267.34 132.37a0.45 0.45 0 1 0 0.90 0a0.45 0.45 0 1 0 -0.90 0M271.97 135.86a0.45 0.45 0 1 0 0.90 0a0.45 0.45 0 1 0 -0.90 0M264.31 132.44a0.45 0.45 0 1 0 0.90 0a0.45 0.45 0 1 0 -0.90 0M268.06 129.24a0.45 0.45 0 1 0 0.90 0a0.45 0.45 0 1 0 -0.90 0M267.98 136.74a0.45 0.45 0 1 0 0.90 0a0.45 0.45 0 1 0 -0.90 0M265.64 115.22a0.45 0.45 0 1 0 0.90 0a0.45 0.45 0 1 0 -0.90 0M264.55 111.99a0.45 0.45 0 1 0 0.90 0a0.45 0.45 0 1 0 -0.90 0M268.82 136.69a0.45 0.45 0 1 0 0.90 0a0.45 0.45 0 1 0 -0.90 0M267.00 116.69a0.45 0.45 0 1 0 0.90 0a0.45 0.45 0 1 0 -0.90 0M264.77 110.05a0.45 0.45 0 1 0 0.90 0a0.45 0.45 0 1 0 -0.90 0M268.53 133.82a0.45 0.45 0 1 0 0.90 0a0.45 0.45 0 1 0 -0.90 0M266.16 125.25a0.45 0.45 0 1 0 0.90 0a0.45 0.45 0 1 0 -0.90 0M266.00 114.38a0.45 0.45 0 1 0 0.90 0a0.45 0.45 0 1 0 -0.90 0M267.87 127.96a0.45 0.45 0 1 0 0.90 0a0.45 0.45 0 1 0 -0.90 0M265.58 120.51a0.45 0.45 0 1 0 0.90 0a0.45 0.45 0 1 0 -0.90 0M270.66 135.60a0.45 0.45 0 1 0 0.90 0a0.45 0.45 0 1 0 -0.90 0M268.14 128.75a0.45 0.45 0 1 0 0.90 0a0.45 0.45 0 1 0 -0.90 0M265.36 135.60a0.45 0.45 0 1 0 0.90 0a0.45 0.45 0 1 0 -0.90 0M266.06 131.96a0.45 0.45 0 1 0 0.90 0a0.45 0.45 0 1 0 -0.90 0M263.77 136.20a0.45 0.45 0 1 0 0.90 0a0.45 0.45 0 1 0 -0.90 0M264.52 130.59a0.45 0.45 0 1 0 0.90 0a0.45 0.45 0 1 0 -0.90 0M266.67 112.77a0.45 0.45 0 1 0 0.90 0a0.45 0.45 0 1 0 -0.90 0M271.63 135.89a0.45 0.45 0 1 0 0.90 0a0.45 0.45 0 1 0 -0.90 0M266.40 125.82a0.45 0.45 0 1 0 0.90 0a0.45 0.45 0 1 0 -0.90 0M266.76 121.55a0.45 0.45 0 1 0 0.90 0a0.45 0.45 0 1 0 -0.90 0M268.78 134.30a0.45 0.45 0 1 0 0.90 0a0.45 0.45 0 1 0 -0.90 0M266.73 123.85a0.45 0.45 0 1 0 0.90 0a0.45 0.45 0 1 0 -0.90 0M268.94 131.04a0.45 0.45 0 1 0 0.90 0a0.45 0.45 0 1 0 -0.90 0M270.51 133.85a0.45 0.45 0 1 0 0.90 0a0.45 0.45 0 1 0 -0.90 0M264.20 131.98a0.45 0.45 0 1 0 0.90 0a0.45 0.45 0 1 0 -0.90 0M264.34 124.88a0.45 0.45 0 1 0 0.90 0a0.45 0.45 0 1 0 -0.90 0M269.78 136.08a0.45 0.45 0 1 0 0.90 0a0.45 0.45 0 1 0 -0.90 0M264.67 132.24a0.45 0.45 0 1 0 0.90 0a0.45 0.45 0 1 0 -0.90 0M267.22 120.53a0.45 0.45 0 1 0 0.90 0a0.45 0.45 0 1 0 -0.90 0M265.99 122.12a0.45 0.45 0 1 0 0.90 0a0.45 0.45 0 1 0 -0.90 0M268.28 126.73a0.45 0.45 0 1 0 0.90 0a0.45 0.45 0 1 0 -0.90 0M265.29 123.97a0.45 0.45 0 1 0 0.90 0a0.45 0.45 0 1 0 -0.90 0M266.79 123.28a0.45 0.45 0 1 0 0.90 0a0.45 0.45 0 1 0 -0.90 0M266.24 126.01a0.45 0.45 0 1 0 0.90 0a0.45 0.45 0 1 0 -0.90 0M267.32 122.80a0.45 0.45 0 1 0 0.90 0a0.45 0.45 0 1 0 -0.90 0M264.62 136.32a0.45 0.45 0 1 0 0.90 0a0.45 0.45 0 1 0 -0.90 0M271.38 135.77a0.45 0.45 0 1 0 0.90 0a0.45 0.45 0 1 0 -0.90 0M266.21 109.29a0.45 0.45 0 1 0 0.90 0a0.45 0.45 0 1 0 -0.90 0M266.28 122.89a0.45 0.45 0 1 0 0.90 0a0.45 0.45 0 1 0 -0.90 0M265.33 111.07a0.45 0.45 0 1 0 0.90 0a0.45 0.45 0 1 0 -0.90 0M268.16 132.91a0.45 0.45 0 1 0 0.90 0a0.45 0.45 0 1 0 -0.90 0M267.50 121.57a0.45 0.45 0 1 0 0.90 0a0.45 0.45 0 1 0 -0.90 0M264.92 120.97a0.45 0.45 0 1 0 0.90 0a0.45 0.45 0 1 0 -0.90 0M265.43 132.47a0.45 0.45 0 1 0 0.90 0a0.45 0.45 0 1 0 -0.90 0M268.08 135.30a0.45 0.45 0 1 0 0.90 0a0.45 0.45 0 1 0 -0.90 0M266.36 132.13a0.45 0.45 0 1 0 0.90 0a0.45 0.45 0 1 0 -0.90 0M269.86 136.08a0.45 0.45 0 1 0 0.90 0a0.45 0.45 0 1 0 -0.90 0M269.13 136.73a0.45 0.45 0 1 0 0.90 0a0.45 0.45 0 1 0 -0.90 0M268.81 135.90a0.45 0.45 0 1 0 0.90 0a0.45 0.45 0 1 0 -0.90 0M264.32 131.33a0.45 0.45 0 1 0 0.90 0a0.45 0.45 0 1 0 -0.90 0M266.12 123.46a0.45 0.45 0 1 0 0.90 0a0.45 0.45 0 1 0 -0.90 0M266.32 128.47a0.45 0.45 0 1 0 0.90 0a0.45 0.45 0 1 0 -0.90 0M266.86 126.32a0.45 0.45 0 1 0 0.90 0a0.45 0.45 0 1 0 -0.90 0M267.88 135.51a0.45 0.45 0 1 0 0.90 0a0.45 0.45 0 1 0 -0.90 0M268.00 129.24a0.45 0.45 0 1 0 0.90 0a0.45 0.45 0 1 0 -0.90 0M268.78 135.09a0.45 0.45 0 1 0 0.90 0a0.45 0.45 0 1 0 -0.90 0M266.29 110.56a0.45 0.45 0 1 0 0.90 0a0.45 0.45 0 1 0 -0.90 0M268.35 134.20a0.45 0.45 0 1 0 0.90 0a0.45 0.45 0 1 0 -0.90 0M264.62 128.01a0.45 0.45 0 1 0 0.90 0a0.45 0.45 0 1 0 -0.90 0M268.22 129.78a0.45 0.45 0 1 0 0.90 0a0.45 0.45 0 1 0 -0.90 0M266.15 133.10a0.45 0.45 0 1 0 0.90 0a0.45 0.45 0 1 0 -0.90 0M267.08 130.05a0.45 0.45 0 1 0 0.90 0a0.45 0.45 0 1 0 -0.90 0M266.29 113.06a0.45 0.45 0 1 0 0.90 0a0.45 0.45 0 1 0 -0.90 0M269.29 134.50a0.45 0.45 0 1 0 0.90 0a0.45 0.45 0 1 0 -0.90 0M267.06 127.20a0.45 0.45 0 1 0 0.90 0a0.45 0.45 0 1 0 -0.90 0M266.93 124.43a0.45 0.45 0 1 0 0.90 0a0.45 0.45 0 1 0 -0.90 0M266.45 122.42a0.45 0.45 0 1 0 0.90 0a0.45 0.45 0 1 0 -0.90 0M267.77 132.93a0.45 0.45 0 1 0 0.90 0a0.45 0.45 0 1 0 -0.90 0M268.50 135.02a0.45 0.45 0 1 0 0.90 0a0.45 0.45 0 1 0 -0.90 0M267.29 128.90a0.45 0.45 0 1 0 0.90 0a0.45 0.45 0 1 0 -0.90 0M266.31 125.77a0.45 0.45 0 1 0 0.90 0a0.45 0.45 0 1 0 -0.90 0M267.74 126.08a0.45 0.45 0 1 0 0.90 0a0.45 0.45 0 1 0 -0.90 0M265.83 134.67a0.45 0.45 0 1 0 0.90 0a0.45 0.45 0 1 0 -0.90 0M267.56 122.18a0.45 0.45 0 1 0 0.90 0a0.45 0.45 0 1 0 -0.90 0M264.76 136.12a0.45 0.45 0 1 0 0.90 0a0.45 0.45 0 1 0 -0.90 0M267.65 123.22a0.45 0.45 0 1 0 0.90 0a0.45 0.45 0 1 0 -0.90 0M270.90 134.14a0.45 0.45 0 1 0 0.90 0a0.45 0.45 0 1 0 -0.90 0M264.17 118.78a0.45 0.45 0 1 0 0.90 0a0.45 0.45 0 1 0 -0.90 0M265.19 132.42a0.45 0.45 0 1 0 0.90 0a0.45 0.45 0 1 0 -0.90 0M263.99 130.19a0.45 0.45 0 1 0 0.90 0a0.45 0.45 0 1 0 -0.90 0M264.90 133.53a0.45 0.45 0 1 0 0.90 0a0.45 0.45 0 1 0 -0.90 0M270.67 136.07a0.45 0.45 0 1 0 0.90 0a0.45 0.45 0 1 0 -0.90 0M269.41 135.05a0.45 0.45 0 1 0 0.90 0a0.45 0.45 0 1 0 -0.90 0M265.69 134.72a0.45 0.45 0 1 0 0.90 0a0.45 0.45 0 1 0 -0.90 0M267.19 119.96a0.45 0.45 0 1 0 0.90 0a0.45 0.45 0 1 0 -0.90 0M264.52 118.34a0.45 0.45 0 1 0 0.90 0a0.45 0.45 0 1 0 -0.90 0M266.53 136.38a0.45 0.45 0 1 0 0.90 0a0.45 0.45 0 1 0 -0.90 0M266.68 124.14a0.45 0.45 0 1 0 0.90 0a0.45 0.45 0 1 0 -0.90 0M268.20 131.85a0.45 0.45 0 1 0 0.90 0a0.45 0.45 0 1 0 -0.90 0M268.57 133.99a0.45 0.45 0 1 0 0.90 0a0.45 0.45 0 1 0 -0.90 0M268.61 132.60a0.45 0.45 0 1 0 0.90 0a0.45 0.45 0 1 0 -0.90 0M270.15 134.96a0.45 0.45 0 1 0 0.90 0a0.45 0.45 0 1 0 -0.90 0M265.80 126.28a0.45 0.45 0 1 0 0.90 0a0.45 0.45 0 1 0 -0.90 0M264.23 127.38a0.45 0.45 0 1 0 0.90 0a0.45 0.45 0 1 0 -0.90 0M266.81 133.21a0.45 0.45 0 1 0 0.90 0a0.45 0.45 0 1 0 -0.90 0M266.93 128.77a0.45 0.45 0 1 0 0.90 0a0.45 0.45 0 1 0 -0.90 0M271.08 136.23a0.45 0.45 0 1 0 0.90 0a0.45 0.45 0 1 0 -0.90 0M268.29 136.05a0.45 0.45 0 1 0 0.90 0a0.45 0.45 0 1 0 -0.90 0M267.08 129.91a0.45 0.45 0 1 0 0.90 0a0.45 0.45 0 1 0 -0.90 0M265.26 123.90a0.45 0.45 0 1 0 0.90 0a0.45 0.45 0 1 0 -0.90 0M265.96 136.28a0.45 0.45 0 1 0 0.90 0a0.45 0.45 0 1 0 -0.90 0M267.86 127.96a0.45 0.45 0 1 0 0.90 0a0.45 0.45 0 1 0 -0.90 0M267.95 127.80a0.45 0.45 0 1 0 0.90 0a0.45 0.45 0 1 0 -0.90 0M267.99 131.79a0.45 0.45 0 1 0 0.90 0a0.45 0.45 0 1 0 -0.90 0M267.31 131.63a0.45 0.45 0 1 0 0.90 0a0.45 0.45 0 1 0 -0.90 0M266.12 112.97a0.45 0.45 0 1 0 0.90 0a0.45 0.45 0 1 0 -0.90 0M267.62 121.66a0.45 0.45 0 1 0 0.90 0a0.45 0.45 0 1 0 -0.90 0M267.71 135.05a0.45 0.45 0 1 0 0.90 0a0.45 0.45 0 1 0 -0.90 0M271.28 132.05a0.45 0.45 0 1 0 0.90 0a0.45 0.45 0 1 0 -0.90 0M266.98 117.53a0.45 0.45 0 1 0 0.90 0a0.45 0.45 0 1 0 -0.90 0M265.28 108.65a0.45 0.45 0 1 0 0.90 0a0.45 0.45 0 1 0 -0.90 0M263.91 136.15a0.45 0.45 0 1 0 0.90 0a0.45 0.45 0 1 0 -0.90 0M269.45 136.21a0.45 0.45 0 1 0 0.90 0a0.45 0.45 0 1 0 -0.90 0M264.27 115.79a0.45 0.45 0 1 0 0.90 0a0.45 0.45 0 1 0 -0.90 0M267.89 135.71a0.45 0.45 0 1 0 0.90 0a0.45 0.45 0 1 0 -0.90 0M267.33 134.41a0.45 0.45 0 1 0 0.90 0a0.45 0.45 0 1 0 -0.90 0M267.47 132.99a0.45 0.45 0 1 0 0.90 0a0.45 0.45 0 1 0 -0.90 0M264.65 136.37a0.45 0.45 0 1 0 0.90 0a0.45 0.45 0 1 0 -0.90 0M266.72 114.59a0.45 0.45 0 1 0 0.90 0a0.45 0.45 0 1 0 -0.90 0M266.07 118.96a0.45 0.45 0 1 0 0.90 0a0.45 0.45 0 1 0 -0.90 0M266.20 115.90a0.45 0.45 0 1 0 0.90 0a0.45 0.45 0 1 0 -0.90 0M268.08 136.06a0.45 0.45 0 1 0 0.90 0a0.45 0.45 0 1 0 -0.90 0M270.34 135.42a0.45 0.45 0 1 0 0.90 0a0.45 0.45 0 1 0 -0.90 0M267.86 125.76a0.45 0.45 0 1 0 0.90 0a0.45 0.45 0 1 0 -0.90 0M269.99 132.33a0.45 0.45 0 1 0 0.90 0a0.45 0.45 0 1 0 -0.90 0M268.24 136.20a0.45 0.45 0 1 0 0.90 0a0.45 0.45 0 1 0 -0.90 0M264.15 129.90a0.45 0.45 0 1 0 0.90 0a0.45 0.45 0 1 0 -0.90 0M267.40 123.86a0.45 0.45 0 1 0 0.90 0a0.45 0.45 0 1 0 -0.90 0M267.88 130.41a0.45 0.45 0 1 0 0.90 0a0.45 0.45 0 1 0 -0.90 0M269.65 134.83a0.45 0.45 0 1 0 0.90 0a0.45 0.45 0 1 0 -0.90 0M264.37 134.11a0.45 0.45 0 1 0 0.90 0a0.45 0.45 0 1 0 -0.90 0M267.29 122.55a0.45 0.45 0 1 0 0.90 0a0.45 0.45 0 1 0 -0.90 0M267.95 134.66a0.45 0.45 0 1 0 0.90 0a0.45 0.45 0 1 0 -0.90 0M271.33 134.35a0.45 0.45 0 1 0 0.90 0a0.45 0.45 0 1 0 -0.90 0M268.24 136.74a0.45 0.45 0 1 0 0.90 0a0.45 0.45 0 1 0 -0.90 0M268.89 136.66a0.45 0.45 0 1 0 0.90 0a0.45 0.45 0 1 0 -0.90 0M265.45 126.30a0.45 0.45 0 1 0 0.90 0a0.45 0.45 0 1 0 -0.90 0M264.80 124.75a0.45 0.45 0 1 0 0.90 0a0.45 0.45 0 1 0 -0.90 0M266.33 132.73a0.45 0.45 0 1 0 0.90 0a0.45 0.45 0 1 0 -0.90 0M267.97 129.73a0.45 0.45 0 1 0 0.90 0a0.45 0.45 0 1 0 -0.90 0M267.10 131.47a0.45 0.45 0 1 0 0.90 0a0.45 0.45 0 1 0 -0.90 0M267.24 135.72a0.45 0.45 0 1 0 0.90 0a0.45 0.45 0 1 0 -0.90 0M268.24 131.59a0.45 0.45 0 1 0 0.90 0a0.45 0.45 0 1 0 -0.90 0M266.03 121.87a0.45 0.45 0 1 0 0.90 0a0.45 0.45 0 1 0 -0.90 0M266.38 126.43a0.45 0.45 0 1 0 0.90 0a0.45 0.45 0 1 0 -0.90 0M264.30 134.94a0.45 0.45 0 1 0 0.90 0a0.45 0.45 0 1 0 -0.90 0M265.74 134.15a0.45 0.45 0 1 0 0.90 0a0.45 0.45 0 1 0 -0.90 0M267.90 136.14a0.45 0.45 0 1 0 0.90 0a0.45 0.45 0 1 0 -0.90 0M270.14 133.04a0.45 0.45 0 1 0 0.90 0a0.45 0.45 0 1 0 -0.90 0M270.67 135.25a0.45 0.45 0 1 0 0.90 0a0.45 0.45 0 1 0 -0.90 0M267.29 126.37a0.45 0.45 0 1 0 0.90 0a0.45 0.45 0 1 0 -0.90 0M266.92 126.31a0.45 0.45 0 1 0 0.90 0a0.45 0.45 0 1 0 -0.90 0M269.13 134.48a0.45 0.45 0 1 0 0.90 0a0.45 0.45 0 1 0 -0.90 0M264.69 111.16a0.45 0.45 0 1 0 0.90 0a0.45 0.45 0 1 0 -0.90 0M267.43 121.89a0.45 0.45 0 1 0 0.90 0a0.45 0.45 0 1 0 -0.90 0M268.92 136.62a0.45 0.45 0 1 0 0.90 0a0.45 0.45 0 1 0 -0.90 0M269.46 135.85a0.45 0.45 0 1 0 0.90 0a0.45 0.45 0 1 0 -0.90 0M267.70 136.39a0.45 0.45 0 1 0 0.90 0a0.45 0.45 0 1 0 -0.90 0M267.20 127.86a0.45 0.45 0 1 0 0.90 0a0.45 0.45 0 1 0 -0.90 0M267.60 122.56a0.45 0.45 0 1 0 0.90 0a0.45 0.45 0 1 0 -0.90 0M266.34 122.33a0.45 0.45 0 1 0 0.90 0a0.45 0.45 0 1 0 -0.90 0M266.11 124.71a0.45 0.45 0 1 0 0.90 0a0.45 0.45 0 1 0 -0.90 0M269.80 136.19a0.45 0.45 0 1 0 0.90 0a0.45 0.45 0 1 0 -0.90 0M270.40 135.66a0.45 0.45 0 1 0 0.90 0a0.45 0.45 0 1 0 -0.90 0M267.47 122.55a0.45 0.45 0 1 0 0.90 0a0.45 0.45 0 1 0 -0.90 0M266.60 118.36a0.45 0.45 0 1 0 0.90 0a0.45 0.45 0 1 0 -0.90 0M267.31 122.20a0.45 0.45 0 1 0 0.90 0a0.45 0.45 0 1 0 -0.90 0M267.50 125.64a0.45 0.45 0 1 0 0.90 0a0.45 0.45 0 1 0 -0.90 0M270.80 135.01a0.45 0.45 0 1 0 0.90 0a0.45 0.45 0 1 0 -0.90 0M266.47 132.93a0.45 0.45 0 1 0 0.90 0a0.45 0.45 0 1 0 -0.90 0M265.99 136.31a0.45 0.45 0 1 0 0.90 0a0.45 0.45 0 1 0 -0.90 0M266.27 129.97a0.45 0.45 0 1 0 0.90 0a0.45 0.45 0 1 0 -0.90 0M267.27 121.81a0.45 0.45 0 1 0 0.90 0a0.45 0.45 0 1 0 -0.90 0M270.66 133.60a0.45 0.45 0 1 0 0.90 0a0.45 0.45 0 1 0 -0.90 0M267.54 131.33a0.45 0.45 0 1 0 0.90 0a0.45 0.45 0 1 0 -0.90 0M264.47 117.66a0.45 0.45 0 1 0 0.90 0a0.45 0.45 0 1 0 -0.90 0M268.97 132.83a0.45 0.45 0 1 0 0.90 0a0.45 0.45 0 1 0 -0.90 0M267.51 121.29a0.45 0.45 0 1 0 0.90 0a0.45 0.45 0 1 0 -0.90 0M266.32 136.63a0.45 0.45 0 1 0 0.90 0a0.45 0.45 0 1 0 -0.90 0M267.36 124.76a0.45 0.45 0 1 0 0.90 0a0.45 0.45 0 1 0 -0.90 0M265.64 107.98a0.45 0.45 0 1 0 0.90 0a0.45 0.45 0 1 0 -0.90 0M267.31 121.34a0.45 0.45 0 1 0 0.90 0a0.45 0.45 0 1 0 -0.90 0M269.22 135.26a0.45 0.45 0 1 0 0.90 0a0.45 0.45 0 1 0 -0.90 0M266.93 124.67a0.45 0.45 0 1 0 0.90 0a0.45 0.45 0 1 0 -0.90 0M268.40 127.61a0.45 0.45 0 1 0 0.90 0a0.45 0.45 0 1 0 -0.90 0M270.31 134.87a0.45 0.45 0 1 0 0.90 0a0.45 0.45 0 1 0 -0.90 0M265.44 111.30a0.45 0.45 0 1 0 0.90 0a0.45 0.45 0 1 0 -0.90 0M270.14 135.01a0.45 0.45 0 1 0 0.90 0a0.45 0.45 0 1 0 -0.90 0M267.71 133.65a0.45 0.45 0 1 0 0.90 0a0.45 0.45 0 1 0 -0.90 0M270.09 136.06a0.45 0.45 0 1 0 0.90 0a0.45 0.45 0 1 0 -0.90 0M267.89 125.39a0.45 0.45 0 1 0 0.90 0a0.45 0.45 0 1 0 -0.90 0M267.88 135.69a0.45 0.45 0 1 0 0.90 0a0.45 0.45 0 1 0 -0.90 0M266.23 110.98a0.45 0.45 0 1 0 0.90 0a0.45 0.45 0 1 0 -0.90 0M267.08 131.62a0.45 0.45 0 1 0 0.90 0a0.45 0.45 0 1 0 -0.90 0M266.92 136.39a0.45 0.45 0 1 0 0.90 0a0.45 0.45 0 1 0 -0.90 0M266.84 122.56a0.45 0.45 0 1 0 0.90 0a0.45 0.45 0 1 0 -0.90 0M269.53 132.91a0.45 0.45 0 1 0 0.90 0a0.45 0.45 0 1 0 -0.90 0M269.80 136.59a0.45 0.45 0 1 0 0.90 0a0.45 0.45 0 1 0 -0.90 0M269.02 131.50a0.45 0.45 0 1 0 0.90 0a0.45 0.45 0 1 0 -0.90 0M268.39 129.42a0.45 0.45 0 1 0 0.90 0a0.45 0.45 0 1 0 -0.90 0M266.63 115.96a0.45 0.45 0 1 0 0.90 0a0.45 0.45 0 1 0 -0.90 0M267.77 124.43a0.45 0.45 0 1 0 0.90 0a0.45 0.45 0 1 0 -0.90 0M266.27 133.16a0.45 0.45 0 1 0 0.90 0a0.45 0.45 0 1 0 -0.90 0M267.62 135.86a0.45 0.45 0 1 0 0.90 0a0.45 0.45 0 1 0 -0.90 0M266.34 115.77a0.45 0.45 0 1 0 0.90 0a0.45 0.45 0 1 0 -0.90 0M270.00 133.89a0.45 0.45 0 1 0 0.90 0a0.45 0.45 0 1 0 -0.90 0M270.33 135.76a0.45 0.45 0 1 0 0.90 0a0.45 0.45 0 1 0 -0.90 0M266.45 118.21a0.45 0.45 0 1 0 0.90 0a0.45 0.45 0 1 0 -0.90 0M266.67 133.61a0.45 0.45 0 1 0 0.90 0a0.45 0.45 0 1 0 -0.90 0M268.23 136.68a0.45 0.45 0 1 0 0.90 0a0.45 0.45 0 1 0 -0.90 0M265.16 131.54a0.45 0.45 0 1 0 0.90 0a0.45 0.45 0 1 0 -0.90 0M267.97 133.41a0.45 0.45 0 1 0 0.90 0a0.45 0.45 0 1 0 -0.90 0M263.83 132.25a0.45 0.45 0 1 0 0.90 0a0.45 0.45 0 1 0 -0.90 0M264.71 114.03a0.45 0.45 0 1 0 0.90 0a0.45 0.45 0 1 0 -0.90 0M267.84 129.66a0.45 0.45 0 1 0 0.90 0a0.45 0.45 0 1 0 -0.90 0M265.03 126.56a0.45 0.45 0 1 0 0.90 0a0.45 0.45 0 1 0 -0.90 0M266.82 120.19a0.45 0.45 0 1 0 0.90 0a0.45 0.45 0 1 0 -0.90 0M269.23 133.94a0.45 0.45 0 1 0 0.90 0a0.45 0.45 0 1 0 -0.90 0M264.43 133.24a0.45 0.45 0 1 0 0.90 0a0.45 0.45 0 1 0 -0.90 0M266.63 117.49a0.45 0.45 0 1 0 0.90 0a0.45 0.45 0 1 0 -0.90 0M267.99 135.53a0.45 0.45 0 1 0 0.90 0a0.45 0.45 0 1 0 -0.90 0M265.78 115.20a0.45 0.45 0 1 0 0.90 0a0.45 0.45 0 1 0 -0.90 0M267.25 118.50a0.45 0.45 0 1 0 0.90 0a0.45 0.45 0 1 0 -0.90 0M264.70 125.67a0.45 0.45 0 1 0 0.90 0a0.45 0.45 0 1 0 -0.90 0M267.19 122.33a0.45 0.45 0 1 0 0.90 0a0.45 0.45 0 1 0 -0.90 0M266.23 129.58a0.45 0.45 0 1 0 0.90 0a0.45 0.45 0 1 0 -0.90 0M264.90 113.73a0.45 0.45 0 1 0 0.90 0a0.45 0.45 0 1 0 -0.90 0M267.61 133.78a0.45 0.45 0 1 0 0.90 0a0.45 0.45 0 1 0 -0.90 0M266.51 126.19a0.45 0.45 0 1 0 0.90 0a0.45 0.45 0 1 0 -0.90 0M263.92 135.58a0.45 0.45 0 1 0 0.90 0a0.45 0.45 0 1 0 -0.90 0M267.85 127.08a0.45 0.45 0 1 0 0.90 0a0.45 0.45 0 1 0 -0.90 0M267.94 128.96a0.45 0.45 0 1 0 0.90 0a0.45 0.45 0 1 0 -0.90 0M266.54 130.03a0.45 0.45 0 1 0 0.90 0a0.45 0.45 0 1 0 -0.90 0M270.28 135.21a0.45 0.45 0 1 0 0.90 0a0.45 0.45 0 1 0 -0.90 0M270.91 136.55a0.45 0.45 0 1 0 0.90 0a0.45 0.45 0 1 0 -0.90 0M264.41 114.95a0.45 0.45 0 1 0 0.90 0a0.45 0.45 0 1 0 -0.90 0M265.78 131.34a0.45 0.45 0 1 0 0.90 0a0.45 0.45 0 1 0 -0.90 0M267.02 118.35a0.45 0.45 0 1 0 0.90 0a0.45 0.45 0 1 0 -0.90 0M269.41 131.72a0.45 0.45 0 1 0 0.90 0a0.45 0.45 0 1 0 -0.90 0M267.27 133.95a0.45 0.45 0 1 0 0.90 0a0.45 0.45 0 1 0 -0.90 0M269.89 133.09a0.45 0.45 0 1 0 0.90 0a0.45 0.45 0 1 0 -0.90 0M266.60 119.27a0.45 0.45 0 1 0 0.90 0a0.45 0.45 0 1 0 -0.90 0M268.50 134.67a0.45 0.45 0 1 0 0.90 0a0.45 0.45 0 1 0 -0.90 0M268.88 136.10a0.45 0.45 0 1 0 0.90 0a0.45 0.45 0 1 0 -0.90 0M265.46 115.65a0.45 0.45 0 1 0 0.90 0a0.45 0.45 0 1 0 -0.90 0M269.97 136.23a0.45 0.45 0 1 0 0.90 0a0.45 0.45 0 1 0 -0.90 0M270.78 134.35a0.45 0.45 0 1 0 0.90 0a0.45 0.45 0 1 0 -0.90 0M265.83 134.68a0.45 0.45 0 1 0 0.90 0a0.45 0.45 0 1 0 -0.90 0M271.72 136.00a0.45 0.45 0 1 0 0.90 0a0.45 0.45 0 1 0 -0.90 0M266.17 133.39a0.45 0.45 0 1 0 0.90 0a0.45 0.45 0 1 0 -0.90 0M268.35 128.97a0.45 0.45 0 1 0 0.90 0a0.45 0.45 0 1 0 -0.90 0M264.00 134.85a0.45 0.45 0 1 0 0.90 0a0.45 0.45 0 1 0 -0.90 0M266.33 130.31a0.45 0.45 0 1 0 0.90 0a0.45 0.45 0 1 0 -0.90 0M265.88 123.72a0.45 0.45 0 1 0 0.90 0a0.45 0.45 0 1 0 -0.90 0M266.21 133.48a0.45 0.45 0 1 0 0.90 0a0.45 0.45 0 1 0 -0.90 0M265.59 106.70a0.45 0.45 0 1 0 0.90 0a0.45 0.45 0 1 0 -0.90 0M267.39 120.28a0.45 0.45 0 1 0 0.90 0a0.45 0.45 0 1 0 -0.90 0M268.27 136.22a0.45 0.45 0 1 0 0.90 0a0.45 0.45 0 1 0 -0.90 0M271.99 133.19a0.45 0.45 0 1 0 0.90 0a0.45 0.45 0 1 0 -0.90 0M267.50 134.79a0.45 0.45 0 1 0 0.90 0a0.45 0.45 0 1 0 -0.90 0M269.60 133.62a0.45 0.45 0 1 0 0.90 0a0.45 0.45 0 1 0 -0.90 0M266.08 128.18a0.45 0.45 0 1 0 0.90 0a0.45 0.45 0 1 0 -0.90 0M266.33 136.41a0.45 0.45 0 1 0 0.90 0a0.45 0.45 0 1 0 -0.90 0M270.40 133.66a0.45 0.45 0 1 0 0.90 0a0.45 0.45 0 1 0 -0.90 0M264.95 124.74a0.45 0.45 0 1 0 0.90 0a0.45 0.45 0 1 0 -0.90 0M268.91 136.18a0.45 0.45 0 1 0 0.90 0a0.45 0.45 0 1 0 -0.90 0M269.08 133.29a0.45 0.45 0 1 0 0.90 0a0.45 0.45 0 1 0 -0.90 0M270.25 132.30a0.45 0.45 0 1 0 0.90 0a0.45 0.45 0 1 0 -0.90 0M265.22 126.50a0.45 0.45 0 1 0 0.90 0a0.45 0.45 0 1 0 -0.90 0M270.54 135.14a0.45 0.45 0 1 0 0.90 0a0.45 0.45 0 1 0 -0.90 0M268.90 135.69a0.45 0.45 0 1 0 0.90 0a0.45 0.45 0 1 0 -0.90 0M268.05 128.38a0.45 0.45 0 1 0 0.90 0a0.45 0.45 0 1 0 -0.90 0M271.73 133.73a0.45 0.45 0 1 0 0.90 0a0.45 0.45 0 1 0 -0.90 0M265.26 119.45a0.45 0.45 0 1 0 0.90 0a0.45 0.45 0 1 0 -0.90 0M269.92 134.86a0.45 0.45 0 1 0 0.90 0a0.45 0.45 0 1 0 -0.90 0M268.45 136.30a0.45 0.45 0 1 0 0.90 0a0.45 0.45 0 1 0 -0.90 0M264.40 128.56a0.45 0.45 0 1 0 0.90 0a0.45 0.45 0 1 0 -0.90 0M266.55 122.68a0.45 0.45 0 1 0 0.90 0a0.45 0.45 0 1 0 -0.90 0M270.67 135.94a0.45 0.45 0 1 0 0.90 0a0.45 0.45 0 1 0 -0.90 0M269.41 133.56a0.45 0.45 0 1 0 0.90 0a0.45 0.45 0 1 0 -0.90 0M266.14 127.68a0.45 0.45 0 1 0 0.90 0a0.45 0.45 0 1 0 -0.90 0M269.56 136.12a0.45 0.45 0 1 0 0.90 0a0.45 0.45 0 1 0 -0.90 0M271.79 133.98a0.45 0.45 0 1 0 0.90 0a0.45 0.45 0 1 0 -0.90 0M266.87 127.82a0.45 0.45 0 1 0 0.90 0a0.45 0.45 0 1 0 -0.90 0M269.41 131.03a0.45 0.45 0 1 0 0.90 0a0.45 0.45 0 1 0 -0.90 0M264.58 134.24a0.45 0.45 0 1 0 0.90 0a0.45 0.45 0 1 0 -0.90 0M266.60 118.43a0.45 0.45 0 1 0 0.90 0a0.45 0.45 0 1 0 -0.90 0M264.77 135.30a0.45 0.45 0 1 0 0.90 0a0.45 0.45 0 1 0 -0.90 0M268.23 131.68a0.45 0.45 0 1 0 0.90 0a0.45 0.45 0 1 0 -0.90 0M270.65 134.69a0.45 0.45 0 1 0 0.90 0a0.45 0.45 0 1 0 -0.90 0M268.15 130.63a0.45 0.45 0 1 0 0.90 0a0.45 0.45 0 1 0 -0.90 0M265.98 127.37a0.45 0.45 0 1 0 0.90 0a0.45 0.45 0 1 0 -0.90 0M269.61 131.53a0.45 0.45 0 1 0 0.90 0a0.45 0.45 0 1 0 -0.90 0M266.43 128.81a0.45 0.45 0 1 0 0.90 0a0.45 0.45 0 1 0 -0.90 0M264.01 121.59a0.45 0.45 0 1 0 0.90 0a0.45 0.45 0 1 0 -0.90 0M267.72 134.09a0.45 0.45 0 1 0 0.90 0a0.45 0.45 0 1 0 -0.90 0M266.66 129.27a0.45 0.45 0 1 0 0.90 0a0.45 0.45 0 1 0 -0.90 0M264.97 127.13a0.45 0.45 0 1 0 0.90 0a0.45 0.45 0 1 0 -0.90 0M267.07 123.82a0.45 0.45 0 1 0 0.90 0a0.45 0.45 0 1 0 -0.90 0M268.29 135.31a0.45 0.45 0 1 0 0.90 0a0.45 0.45 0 1 0 -0.90 0M265.87 116.18a0.45 0.45 0 1 0 0.90 0a0.45 0.45 0 1 0 -0.90 0M264.75 132.82a0.45 0.45 0 1 0 0.90 0a0.45 0.45 0 1 0 -0.90 0M268.25 129.03a0.45 0.45 0 1 0 0.90 0a0.45 0.45 0 1 0 -0.90 0M268.44 136.10a0.45 0.45 0 1 0 0.90 0a0.45 0.45 0 1 0 -0.90 0M266.30 116.74a0.45 0.45 0 1 0 0.90 0a0.45 0.45 0 1 0 -0.90 0"/>
<path fill="#f4b6c2" opacity="0.7" d="M278.36 134.69a0.42 0.42 0 1 0 0.84 0a0.42 0.42 0 1 0 -0.84 0M273.50 135.84a0.42 0.42 0 1 0 0.84 0a0.42 0.42 0 1 0 -0.84 0M278.01 135.55a0.42 0.42 0 1 0 0.84 0a0.42 0.42 0 1 0 -0.84 0M273.84 134.68a0.42 0.42 0 1 0 0.84 0a0.42 0.42 0 1 0 -0.84 0M273.25 136.15a0.42 0.42 0 1 0 0.84 0a0.42 0.42 0 1 0 -0.84 0M276.07 136.64a0.42 0.42 0 1 0 0.84 0a0.42 0.42 0 1 0 -0.84 0M280.20 132.78a0.42 0.42 0 1 0 0.84 0a0.42 0.42 0 1 0 -0.84 0M273.83 136.52a0.42 0.42 0 1 0 0.84 0a0.42 0.42 0 1 0 -0.84 0M281.07 136.17a0.42 0.42 0 1 0 0.84 0a0.42 0.42 0 1 0 -0.84 0M276.93 136.44a0.42 0.42 0 1 0 0.84 0a0.42 0.42 0 1 0 -0.84 0M279.78 136.75a0.42 0.42 0 1 0 0.84 0a0.42 0.42 0 1 0 -0.84 0M276.61 136.26a0.42 0.42 0 1 0 0.84 0a0.42 0.42 0 1 0 -0.84 0M274.87 136.35a0.42 0.42 0 1 0 0.84 0a0.42 0.42 0 1 0 -0.84 0M274.21 135.34a0.42 0.42 0 1 0 0.84 0a0.42 0.42 0 1 0 -0.84 0M277.35 132.71a0.42 0.42 0 1 0 0.84 0a0.42 0.42 0 1 0 -0.84 0M273.04 134.81a0.42 0.42 0 1 0 0.84 0a0.42 0.42 0 1 0 -0.84 0M278.73 129.48a0.42 0.42 0 1 0 0.84 0a0.42 0.42 0 1 0 -0.84 0M277.30 130.36a0.42 0.42 0 1 0 0.84 0a0.42 0.42 0 1 0 -0.84 0M275.57 134.44a0.42 0.42 0 1 0 0.84 0a0.42 0.42 0 1 0 -0.84 0M277.39 128.29a0.42 0.42 0 1 0 0.84 0a0.42 0.42 0 1 0 -0.84 0M277.03 132.93a0.42 0.42 0 1 0 0.84 0a0.42 0.42 0 1 0 -0.84 0M276.99 136.57a0.42 0.42 0 1 0 0.84 0a0.42 0.42 0 1 0 -0.84 0M278.21 136.23a0.42 0.42 0 1 0 0.84 0a0.42 0.42 0 1 0 -0.84 0M277.39 136.53a0.42 0.42 0 1 0 0.84 0a0.42 0.42 0 1 0 -0.84 0M274.58 133.54a0.42 0.42 0 1 0 0.84 0a0.42 0.42 0 1 0 -0.84 0M277.41 129.32a0.42 0.42 0 1 0 0.84 0a0.42 0.42 0 1 0 -0.84 0M275.44 134.72a0.42 0.42 0 1 0 0.84 0a0.42 0.42 0 1 0 -0.84 0M277.76 129.11a0.42 0.42 0 1 0 0.84 0a0.42 0.42 0 1 0 -0.84 0M273.13 135.08a0.42 0.42 0 1 0 0.84 0a0.42 0.42 0 1 0 -0.84 0M277.92 132.15a0.42 0.42 0 1 0 0.84 0a0.42 0.42 0 1 0 -0.84 0M275.50 135.17a0.42 0.42 0 1 0 0.84 0a0.42 0.42 0 1 0 -0.84 0M276.85 130.07a0.42 0.42 0 1 0 0.84 0a0.42 0.42 0 1 0 -0.84 0M274.15 135.70a0.42 0.42 0 1 0 0.84 0a0.42 0.42 0 1 0 -0.84 0M276.81 136.58a0.42 0.42 0 1 0 0.84 0a0.42 0.42 0 1 0 -0.84 0M278.91 134.67a0.42 0.42 0 1 0 0.84 0a0.42 0.42 0 1 0 -0.84 0M279.76 136.61a0.42 0.42 0 1 0 0.84 0a0.42 0.42 0 1 0 -0.84 0M278.06 134.44a0.42 0.42 0 1 0 0.84 0a0.42 0.42 0 1 0 -0.84 0M273.69 134.52a0.42 0.42 0 1 0 0.84 0a0.42 0.42 0 1 0 -0.84 0M277.03 136.74a0.42 0.42 0 1 0 0.84 0a0.42 0.42 0 1 0 -0.84 0M278.59 133.88a0.42 0.42 0 1 0 0.84 0a0.42 0.42 0 1 0 -0.84 0M274.49 135.07a0.42 0.42 0 1 0 0.84 0a0.42 0.42 0 1 0 -0.84 0M278.37 135.11a0.42 0.42 0 1 0 0.84 0a0.42 0.42 0 1 0 -0.84 0M274.83 132.77a0.42 0.42 0 1 0 0.84 0a0.42 0.42 0 1 0 -0.84 0M280.34 134.56a0.42 0.42 0 1 0 0.84 0a0.42 0.42 0 1 0 -0.84 0M278.71 136.74a0.42 0.42 0 1 0 0.84 0a0.42 0.42 0 1 0 -0.84 0M273.90 134.02a0.42 0.42 0 1 0 0.84 0a0.42 0.42 0 1 0 -0.84 0M274.44 136.34a0.42 0.42 0 1 0 0.84 0a0.42 0.42 0 1 0 -0.84 0M280.13 135.37a0.42 0.42 0 1 0 0.84 0a0.42 0.42 0 1 0 -0.84 0M276.63 130.18a0.42 0.42 0 1 0 0.84 0a0.42 0.42 0 1 0 -0.84 0M281.11 135.18a0.42 0.42 0 1 0 0.84 0a0.42 0.42 0 1 0 -0.84 0M277.88 135.65a0.42 0.42 0 1 0 0.84 0a0.42 0.42 0 1 0 -0.84 0M278.62 134.72a0.42 0.42 0 1 0 0.84 0a0.42 0.42 0 1 0 -0.84 0M275.06 135.44a0.42 0.42 0 1 0 0.84 0a0.42 0.42 0 1 0 -0.84 0M277.22 135.01a0.42 0.42 0 1 0 0.84 0a0.42 0.42 0 1 0 -0.84 0M275.18 135.86a0.42 0.42 0 1 0 0.84 0a0.42 0.42 0 1 0 -0.84 0M275.34 136.29a0.42 0.42 0 1 0 0.84 0a0.42 0.42 0 1 0 -0.84 0M278.25 134.35a0.42 0.42 0 1 0 0.84 0a0.42 0.42 0 1 0 -0.84 0M274.61 136.45a0.42 0.42 0 1 0 0.84 0a0.42 0.42 0 1 0 -0.84 0M275.35 134.48a0.42 0.42 0 1 0 0.84 0a0.42 0.42 0 1 0 -0.84 0M276.70 131.55a0.42 0.42 0 1 0 0.84 0a0.42 0.42 0 1 0 -0.84 0M275.87 136.17a0.42 0.42 0 1 0 0.84 0a0.42 0.42 0 1 0 -0.84 0M279.01 133.87a0.42 0.42 0 1 0 0.84 0a0.42 0.42 0 1 0 -0.84 0M273.92 136.74a0.42 0.42 0 1 0 0.84 0a0.42 0.42 0 1 0 -0.84 0M273.52 135.25a0.42 0.42 0 1 0 0.84 0a0.42 0.42 0 1 0 -0.84 0M279.49 136.73a0.42 0.42 0 1 0 0.84 0a0.42 0.42 0 1 0 -0.84 0M274.80 136.36a0.42 0.42 0 1 0 0.84 0a0.42 0.42 0 1 0 -0.84 0M278.71 129.20a0.42 0.42 0 1 0 0.84 0a0.42 0.42 0 1 0 -0.84 0M277.06 133.44a0.42 0.42 0 1 0 0.84 0a0.42 0.42 0 1 0 -0.84 0M274.44 133.66a0.42 0.42 0 1 0 0.84 0a0.42 0.42 0 1 0 -0.84 0M273.08 135.75a0.42 0.42 0 1 0 0.84 0a0.42 0.42 0 1 0 -0.84 0M274.23 135.06a0.42 0.42 0 1 0 0.84 0a0.42 0.42 0 1 0 -0.84 0M274.50 135.39a0.42 0.42 0 1 0 0.84 0a0.42 0.42 0 1 0 -0.84 0M276.22 133.52a0.42 0.42 0 1 0 0.84 0a0.42 0.42 0 1 0 -0.84 0M275.33 135.65a0.42 0.42 0 1 0 0.84 0a0.42 0.42 0 1 0 -0.84 0M277.09 136.45a0.42 0.42 0 1 0 0.84 0a0.42 0.42 0 1 0 -0.84 0M275.77 136.74a0.42 0.42 0 1 0 0.84 0a0.42 0.42 0 1 0 -0.84 0M277.89 132.63a0.42 0.42 0 1 0 0.84 0a0.42 0.42 0 1 0 -0.84 0M273.96 136.31a0.42 0.42 0 1 0 0.84 0a0.42 0.42 0 1 0 -0.84 0M279.04 134.12a0.42 0.42 0 1 0 0.84 0a0.42 0.42 0 1 0 -0.84 0M276.88 135.21a0.42 0.42 0 1 0 0.84 0a0.42 0.42 0 1 0 -0.84 0M279.23 135.94a0.42 0.42 0 1 0 0.84 0a0.42 0.42 0 1 0 -0.84 0M273.55 134.22a0.42 0.42 0 1 0 0.84 0a0.42 0.42 0 1 0 -0.84 0M278.59 136.72a0.42 0.42 0 1 0 0.84 0a0.42 0.42 0 1 0 -0.84 0M276.31 136.64a0.42 0.42 0 1 0 0.84 0a0.42 0.42 0 1 0 -0.84 0M276.68 131.33a0.42 0.42 0 1 0 0.84 0a0.42 0.42 0 1 0 -0.84 0M273.45 136.18a0.42 0.42 0 1 0 0.84 0a0.42 0.42 0 1 0 -0.84 0M274.29 136.74a0.42 0.42 0 1 0 0.84 0a0.42 0.42 0 1 0 -0.84 0M274.30 133.62a0.42 0.42 0 1 0 0.84 0a0.42 0.42 0 1 0 -0.84 0M279.30 129.28a0.42 0.42 0 1 0 0.84 0a0.42 0.42 0 1 0 -0.84 0M274.29 136.71a0.42 0.42 0 1 0 0.84 0a0.42 0.42 0 1 0 -0.84 0M277.41 132.86a0.42 0.42 0 1 0 0.84 0a0.42 0.42 0 1 0 -0.84 0M277.35 136.74a0.42 0.42 0 1 0 0.84 0a0.42 0.42 0 1 0 -0.84 0M278.47 136.74a0.42 0.42 0 1 0 0.84 0a0.42 0.42 0 1 0 -0.84 0M276.45 129.50a0.42 0.42 0 1 0 0.84 0a0.42 0.42 0 1 0 -0.84 0M275.76 136.70a0.42 0.42 0 1 0 0.84 0a0.42 0.42 0 1 0 -0.84 0M277.94 136.74a0.42 0.42 0 1 0 0.84 0a0.42 0.42 0 1 0 -0.84 0M275.97 133.29a0.42 0.42 0 1 0 0.84 0a0.42 0.42 0 1 0 -0.84 0M277.20 136.42a0.42 0.42 0 1 0 0.84 0a0.42 0.42 0 1 0 -0.84 0M281.29 136.74a0.42 0.42 0 1 0 0.84 0a0.42 0.42 0 1 0 -0.84 0M277.62 129.79a0.42 0.42 0 1 0 0.84 0a0.42 0.42 0 1 0 -0.84 0M276.85 133.36a0.42 0.42 0 1 0 0.84 0a0.42 0.42 0 1 0 -0.84 0M275.89 133.48a0.42 0.42 0 1 0 0.84 0a0.42 0.42 0 1 0 -0.84 0M274.12 136.53a0.42 0.42 0 1 0 0.84 0a0.42 0.42 0 1 0 -0.84 0M278.50 128.21a0.42 0.42 0 1 0 0.84 0a0.42 0.42 0 1 0 -0.84 0M276.91 136.74a0.42 0.42 0 1 0 0.84 0a0.42 0.42 0 1 0 -0.84 0M276.60 133.32a0.42 0.42 0 1 0 0.84 0a0.42 0.42 0 1 0 -0.84 0M277.43 135.84a0.42 0.42 0 1 0 0.84 0a0.42 0.42 0 1 0 -0.84 0M276.01 133.15a0.42 0.42 0 1 0 0.84 0a0.42 0.42 0 1 0 -0.84 0M279.64 135.09a0.42 0.42 0 1 0 0.84 0a0.42 0.42 0 1 0 -0.84 0M279.35 134.22a0.42 0.42 0 1 0 0.84 0a0.42 0.42 0 1 0 -0.84 0M277.92 134.90a0.42 0.42 0 1 0 0.84 0a0.42 0.42 0 1 0 -0.84 0M276.33 131.97a0.42 0.42 0 1 0 0.84 0a0.42 0.42 0 1 0 -0.84 0M275.66 135.96a0.42 0.42 0 1 0 0.84 0a0.42 0.42 0 1 0 -0.84 0M274.70 136.03a0.42 0.42 0 1 0 0.84 0a0.42 0.42 0 1 0 -0.84 0M274.04 136.26a0.42 0.42 0 1 0 0.84 0a0.42 0.42 0 1 0 -0.84 0M278.43 131.05a0.42 0.42 0 1 0 0.84 0a0.42 0.42 0 1 0 -0.84 0M274.38 135.57a0.42 0.42 0 1 0 0.84 0a0.42 0.42 0 1 0 -0.84 0M276.74 128.80a0.42 0.42 0 1 0 0.84 0a0.42 0.42 0 1 0 -0.84 0M277.89 132.01a0.42 0.42 0 1 0 0.84 0a0.42 0.42 0 1 0 -0.84 0M278.10 133.25a0.42 0.42 0 1 0 0.84 0a0.42 0.42 0 1 0 -0.84 0M274.89 132.54a0.42 0.42 0 1 0 0.84 0a0.42 0.42 0 1 0 -0.84 0M278.74 135.90a0.42 0.42 0 1 0 0.84 0a0.42 0.42 0 1 0 -0.84 0M273.86 136.17a0.42 0.42 0 1 0 0.84 0a0.42 0.42 0 1 0 -0.84 0M287.94 134.78a0.42 0.42 0 1 0 0.84 0a0.42 0.42 0 1 0 -0.84 0M286.94 135.42a0.42 0.42 0 1 0 0.84 0a0.42 0.42 0 1 0 -0.84 0M294.12 136.85a0.42 0.42 0 1 0 0.84 0a0.42 0.42 0 1 0 -0.84 0M291.12 137.10a0.42 0.42 0 1 0 0.84 0a0.42 0.42 0 1 0 -0.84 0M282.16 135.53a0.42 0.42 0 1 0 0.84 0a0.42 0.42 0 1 0 -0.84 0M290.61 133.51a0.42 0.42 0 1 0 0.84 0a0.42 0.42 0 1 0 -0.84 0M283.37 133.31a0.42 0.42 0 1 0 0.84 0a0.42 0.42 0 1 0 -0.84 0M283.08 133.55a0.42 0.42 0 1 0 0.84 0a0.42 0.42 0 1 0 -0.84 0M289.12 136.87a0.42 0.42 0 1 0 0.84 0a0.42 0.42 0 1 0 -0.84 0M289.91 133.11a0.42 0.42 0 1 0 0.84 0a0.42 0.42 0 1 0 -0.84 0M286.10 132.33a0.42 0.42 0 1 0 0.84 0a0.42 0.42 0 1 0 -0.84 0M293.95 136.68a0.42 0.42 0 1 0 0.84 0a0.42 0.42 0 1 0 -0.84 0M291.04 133.71a0.42 0.42 0 1 0 0.84 0a0.42 0.42 0 1 0 -0.84 0M287.11 137.00a0.42 0.42 0 1 0 0.84 0a0.42 0.42 0 1 0 -0.84 0M281.42 136.95a0.42 0.42 0 1 0 0.84 0a0.42 0.42 0 1 0 -0.84 0M301.84 135.39a0.42 0.42 0 1 0 0.84 0a0.42 0.42 0 1 0 -0.84 0M285.73 136.99a0.42 0.42 0 1 0 0.84 0a0.42 0.42 0 1 0 -0.84 0M290.27 136.91a0.42 0.42 0 1 0 0.84 0a0.42 0.42 0 1 0 -0.84 0M281.51 136.25a0.42 0.42 0 1 0 0.84 0a0.42 0.42 0 1 0 -0.84 0M297.02 137.09a0.42 0.42 0 1 0 0.84 0a0.42 0.42 0 1 0 -0.84 0M286.68 136.95a0.42 0.42 0 1 0 0.84 0a0.42 0.42 0 1 0 -0.84 0M295.62 135.57a0.42 0.42 0 1 0 0.84 0a0.42 0.42 0 1 0 -0.84 0M296.03 135.93a0.42 0.42 0 1 0 0.84 0a0.42 0.42 0 1 0 -0.84 0M292.47 136.17a0.42 0.42 0 1 0 0.84 0a0.42 0.42 0 1 0 -0.84 0M286.24 137.01a0.42 0.42 0 1 0 0.84 0a0.42 0.42 0 1 0 -0.84 0M284.44 137.02a0.42 0.42 0 1 0 0.84 0a0.42 0.42 0 1 0 -0.84 0M283.93 135.67a0.42 0.42 0 1 0 0.84 0a0.42 0.42 0 1 0 -0.84 0M289.38 136.49a0.42 0.42 0 1 0 0.84 0a0.42 0.42 0 1 0 -0.84 0M286.38 137.10a0.42 0.42 0 1 0 0.84 0a0.42 0.42 0 1 0 -0.84 0M281.94 131.17a0.42 0.42 0 1 0 0.84 0a0.42 0.42 0 1 0 -0.84 0M284.34 135.20a0.42 0.42 0 1 0 0.84 0a0.42 0.42 0 1 0 -0.84 0M284.37 133.81a0.42 0.42 0 1 0 0.84 0a0.42 0.42 0 1 0 -0.84 0M288.01 136.69a0.42 0.42 0 1 0 0.84 0a0.42 0.42 0 1 0 -0.84 0M291.29 135.94a0.42 0.42 0 1 0 0.84 0a0.42 0.42 0 1 0 -0.84 0M283.69 131.27a0.42 0.42 0 1 0 0.84 0a0.42 0.42 0 1 0 -0.84 0M281.70 132.93a0.42 0.42 0 1 0 0.84 0a0.42 0.42 0 1 0 -0.84 0M292.77 136.89a0.42 0.42 0 1 0 0.84 0a0.42 0.42 0 1 0 -0.84 0M282.38 133.90a0.42 0.42 0 1 0 0.84 0a0.42 0.42 0 1 0 -0.84 0M300.48 134.02a0.42 0.42 0 1 0 0.84 0a0.42 0.42 0 1 0 -0.84 0M290.98 133.48a0.42 0.42 0 1 0 0.84 0a0.42 0.42 0 1 0 -0.84 0"/>
<path fill="#3f7fb5" opacity="0.7" d="M257.81 136.74a0.45 0.45 0 1 0 0.90 0a0.45 0.45 0 1 0 -0.90 0M262.35 135.94a0.45 0.45 0 1 0 0.90 0a0.45 0.45 0 1 0 -0.90 0M262.33 136.69a0.45 0.45 0 1 0 0.90 0a0.45 0.45 0 1 0 -0.90 0M260.72 132.47a0.45 0.45 0 1 0 0.90 0a0.45 0.45 0 1 0 -0.90 0M257.69 132.37a0.45 0.45 0 1 0 0.90 0a0.45 0.45 0 1 0 -0.90 0M257.35 133.08a0.45 0.45 0 1 0 0.90 0a0.45 0.45 0 1 0 -0.90 0M253.87 136.27a0.45 0.45 0 1 0 0.90 0a0.45 0.45 0 1 0 -0.90 0M259.52 136.61a0.45 0.45 0 1 0 0.90 0a0.45 0.45 0 1 0 -0.90 0M257.81 135.13a0.45 0.45 0 1 0 0.90 0a0.45 0.45 0 1 0 -0.90 0M262.18 128.77a0.45 0.45 0 1 0 0.90 0a0.45 0.45 0 1 0 -0.90 0M252.35 136.28a0.45 0.45 0 1 0 0.90 0a0.45 0.45 0 1 0 -0.90 0M260.53 134.13a0.45 0.45 0 1 0 0.90 0a0.45 0.45 0 1 0 -0.90 0M252.65 133.80a0.45 0.45 0 1 0 0.90 0a0.45 0.45 0 1 0 -0.90 0M246.34 136.60a0.45 0.45 0 1 0 0.90 0a0.45 0.45 0 1 0 -0.90 0M257.81 136.12a0.45 0.45 0 1 0 0.90 0a0.45 0.45 0 1 0 -0.90 0M262.26 120.70a0.45 0.45 0 1 0 0.90 0a0.45 0.45 0 1 0 -0.90 0M251.24 136.74a0.45 0.45 0 1 0 0.90 0a0.45 0.45 0 1 0 -0.90 0M255.19 134.78a0.45 0.45 0 1 0 0.90 0a0.45 0.45 0 1 0 -0.90 0M260.86 122.85a0.45 0.45 0 1 0 0.90 0a0.45 0.45 0 1 0 -0.90 0M252.65 136.74a0.45 0.45 0 1 0 0.90 0a0.45 0.45 0 1 0 -0.90 0M255.56 133.86a0.45 0.45 0 1 0 0.90 0a0.45 0.45 0 1 0 -0.90 0M253.22 135.37a0.45 0.45 0 1 0 0.90 0a0.45 0.45 0 1 0 -0.90 0M260.52 129.30a0.45 0.45 0 1 0 0.90 0a0.45 0.45 0 1 0 -0.90 0M253.60 136.71a0.45 0.45 0 1 0 0.90 0a0.45 0.45 0 1 0 -0.90 0M260.99 136.52a0.45 0.45 0 1 0 0.90 0a0.45 0.45 0 1 0 -0.90 0M258.26 135.39a0.45 0.45 0 1 0 0.90 0a0.45 0.45 0 1 0 -0.90 0M260.86 136.45a0.45 0.45 0 1 0 0.90 0a0.45 0.45 0 1 0 -0.90 0M258.62 133.70a0.45 0.45 0 1 0 0.90 0a0.45 0.45 0 1 0 -0.90 0M251.15 136.63a0.45 0.45 0 1 0 0.90 0a0.45 0.45 0 1 0 -0.90 0M262.73 136.72a0.45 0.45 0 1 0 0.90 0a0.45 0.45 0 1 0 -0.90 0M258.69 130.80a0.45 0.45 0 1 0 0.90 0a0.45 0.45 0 1 0 -0.90 0M261.27 124.71a0.45 0.45 0 1 0 0.90 0a0.45 0.45 0 1 0 -0.90 0M260.40 134.26a0.45 0.45 0 1 0 0.90 0a0.45 0.45 0 1 0 -0.90 0M260.93 136.61a0.45 0.45 0 1 0 0.90 0a0.45 0.45 0 1 0 -0.90 0M249.98 135.56a0.45 0.45 0 1 0 0.90 0a0.45 0.45 0 1 0 -0.90 0M257.13 135.89a0.45 0.45 0 1 0 0.90 0a0.45 0.45 0 1 0 -0.90 0M255.83 135.98a0.45 0.45 0 1 0 0.90 0a0.45 0.45 0 1 0 -0.90 0M251.25 135.56a0.45 0.45 0 1 0 0.90 0a0.45 0.45 0 1 0 -0.90 0M260.22 136.71a0.45 0.45 0 1 0 0.90 0a0.45 0.45 0 1 0 -0.90 0M259.34 132.36a0.45 0.45 0 1 0 0.90 0a0.45 0.45 0 1 0 -0.90 0M259.54 129.72a0.45 0.45 0 1 0 0.90 0a0.45 0.45 0 1 0 -0.90 0M262.27 135.35a0.45 0.45 0 1 0 0.90 0a0.45 0.45 0 1 0 -0.90 0M259.80 136.00a0.45 0.45 0 1 0 0.90 0a0.45 0.45 0 1 0 -0.90 0M261.30 125.37a0.45 0.45 0 1 0 0.90 0a0.45 0.45 0 1 0 -0.90 0M261.29 132.86a0.45 0.45 0 1 0 0.90 0a0.45 0.45 0 1 0 -0.90 0M259.58 135.79a0.45 0.45 0 1 0 0.90 0a0.45 0.45 0 1 0 -0.90 0M260.52 124.34a0.45 0.45 0 1 0 0.90 0a0.45 0.45 0 1 0 -0.90 0M261.50 136.69a0.45 0.45 0 1 0 0.90 0a0.45 0.45 0 1 0 -0.90 0M254.41 136.61a0.45 0.45 0 1 0 0.90 0a0.45 0.45 0 1 0 -0.90 0M256.50 135.90a0.45 0.45 0 1 0 0.90 0a0.45 0.45 0 1 0 -0.90 0M262.35 135.93a0.45 0.45 0 1 0 0.90 0a0.45 0.45 0 1 0 -0.90 0M257.76 136.08a0.45 0.45 0 1 0 0.90 0a0.45 0.45 0 1 0 -0.90 0M235.69 134.19a0.45 0.45 0 1 0 0.90 0a0.45 0.45 0 1 0 -0.90 0M262.15 136.56a0.45 0.45 0 1 0 0.90 0a0.45 0.45 0 1 0 -0.90 0M259.59 136.71a0.45 0.45 0 1 0 0.90 0a0.45 0.45 0 1 0 -0.90 0M247.35 135.17a0.45 0.45 0 1 0 0.90 0a0.45 0.45 0 1 0 -0.90 0M257.78 136.74a0.45 0.45 0 1 0 0.90 0a0.45 0.45 0 1 0 -0.90 0M242.53 134.80a0.45 0.45 0 1 0 0.90 0a0.45 0.45 0 1 0 -0.90 0M261.37 136.75a0.45 0.45 0 1 0 0.90 0a0.45 0.45 0 1 0 -0.90 0M260.06 129.04a0.45 0.45 0 1 0 0.90 0a0.45 0.45 0 1 0 -0.90 0M258.71 135.45a0.45 0.45 0 1 0 0.90 0a0.45 0.45 0 1 0 -0.90 0M262.88 119.05a0.45 0.45 0 1 0 0.90 0a0.45 0.45 0 1 0 -0.90 0M261.68 136.41a0.45 0.45 0 1 0 0.90 0a0.45 0.45 0 1 0 -0.90 0M253.60 136.65a0.45 0.45 0 1 0 0.90 0a0.45 0.45 0 1 0 -0.90 0M262.13 136.00a0.45 0.45 0 1 0 0.90 0a0.45 0.45 0 1 0 -0.90 0M251.31 136.73a0.45 0.45 0 1 0 0.90 0a0.45 0.45 0 1 0 -0.90 0M254.46 135.99a0.45 0.45 0 1 0 0.90 0a0.45 0.45 0 1 0 -0.90 0M258.05 136.34a0.45 0.45 0 1 0 0.90 0a0.45 0.45 0 1 0 -0.90 0M260.75 129.79a0.45 0.45 0 1 0 0.90 0a0.45 0.45 0 1 0 -0.90 0M253.21 134.76a0.45 0.45 0 1 0 0.90 0a0.45 0.45 0 1 0 -0.90 0M259.10 136.71a0.45 0.45 0 1 0 0.90 0a0.45 0.45 0 1 0 -0.90 0M261.07 128.58a0.45 0.45 0 1 0 0.90 0a0.45 0.45 0 1 0 -0.90 0M253.09 136.74a0.45 0.45 0 1 0 0.90 0a0.45 0.45 0 1 0 -0.90 0M256.80 134.18a0.45 0.45 0 1 0 0.90 0a0.45 0.45 0 1 0 -0.90 0M255.95 134.20a0.45 0.45 0 1 0 0.90 0a0.45 0.45 0 1 0 -0.90 0M250.62 136.02a0.45 0.45 0 1 0 0.90 0a0.45 0.45 0 1 0 -0.90 0M246.38 136.07a0.45 0.45 0 1 0 0.90 0a0.45 0.45 0 1 0 -0.90 0M262.04 122.33a0.45 0.45 0 1 0 0.90 0a0.45 0.45 0 1 0 -0.90 0M263.21 121.67a0.45 0.45 0 1 0 0.90 0a0.45 0.45 0 1 0 -0.90 0M258.66 135.84a0.45 0.45 0 1 0 0.90 0a0.45 0.45 0 1 0 -0.90 0M259.78 133.18a0.45 0.45 0 1 0 0.90 0a0.45 0.45 0 1 0 -0.90 0M257.19 136.75a0.45 0.45 0 1 0 0.90 0a0.45 0.45 0 1 0 -0.90 0M255.17 135.90a0.45 0.45 0 1 0 0.90 0a0.45 0.45 0 1 0 -0.90 0M262.66 136.44a0.45 0.45 0 1 0 0.90 0a0.45 0.45 0 1 0 -0.90 0M260.50 127.10a0.45 0.45 0 1 0 0.90 0a0.45 0.45 0 1 0 -0.90 0M249.47 136.44a0.45 0.45 0 1 0 0.90 0a0.45 0.45 0 1 0 -0.90 0M261.85 126.42a0.45 0.45 0 1 0 0.90 0a0.45 0.45 0 1 0 -0.90 0M256.18 136.73a0.45 0.45 0 1 0 0.90 0a0.45 0.45 0 1 0 -0.90 0M249.99 136.01a0.45 0.45 0 1 0 0.90 0a0.45 0.45 0 1 0 -0.90 0M249.61 135.96a0.45 0.45 0 1 0 0.90 0a0.45 0.45 0 1 0 -0.90 0M254.05 136.74a0.45 0.45 0 1 0 0.90 0a0.45 0.45 0 1 0 -0.90 0M261.85 119.63a0.45 0.45 0 1 0 0.90 0a0.45 0.45 0 1 0 -0.90 0M262.90 136.52a0.45 0.45 0 1 0 0.90 0a0.45 0.45 0 1 0 -0.90 0M258.76 136.31a0.45 0.45 0 1 0 0.90 0a0.45 0.45 0 1 0 -0.90 0M262.93 136.55a0.45 0.45 0 1 0 0.90 0a0.45 0.45 0 1 0 -0.90 0M261.94 127.66a0.45 0.45 0 1 0 0.90 0a0.45 0.45 0 1 0 -0.90 0M263.22 128.91a0.45 0.45 0 1 0 0.90 0a0.45 0.45 0 1 0 -0.90 0M262.32 130.15a0.45 0.45 0 1 0 0.90 0a0.45 0.45 0 1 0 -0.90 0M251.49 136.71a0.45 0.45 0 1 0 0.90 0a0.45 0.45 0 1 0 -0.90 0M261.96 122.64a0.45 0.45 0 1 0 0.90 0a0.45 0.45 0 1 0 -0.90 0M263.23 136.41a0.45 0.45 0 1 0 0.90 0a0.45 0.45 0 1 0 -0.90 0M261.37 132.75a0.45 0.45 0 1 0 0.90 0a0.45 0.45 0 1 0 -0.90 0M257.30 136.68a0.45 0.45 0 1 0 0.90 0a0.45 0.45 0 1 0 -0.90 0M263.70 133.10a0.45 0.45 0 1 0 0.90 0a0.45 0.45 0 1 0 -0.90 0M256.80 133.85a0.45 0.45 0 1 0 0.90 0a0.45 0.45 0 1 0 -0.90 0M255.67 136.67a0.45 0.45 0 1 0 0.90 0a0.45 0.45 0 1 0 -0.90 0M251.93 136.66a0.45 0.45 0 1 0 0.90 0a0.45 0.45 0 1 0 -0.90 0M257.92 133.18a0.45 0.45 0 1 0 0.90 0a0.45 0.45 0 1 0 -0.90 0M256.45 136.10a0.45 0.45 0 1 0 0.90 0a0.45 0.45 0 1 0 -0.90 0M260.72 127.05a0.45 0.45 0 1 0 0.90 0a0.45 0.45 0 1 0 -0.90 0M255.87 133.76a0.45 0.45 0 1 0 0.90 0a0.45 0.45 0 1 0 -0.90 0M262.45 124.53a0.45 0.45 0 1 0 0.90 0a0.45 0.45 0 1 0 -0.90 0M260.62 135.25a0.45 0.45 0 1 0 0.90 0a0.45 0.45 0 1 0 -0.90 0M258.73 135.43a0.45 0.45 0 1 0 0.90 0a0.45 0.45 0 1 0 -0.90 0M249.49 134.25a0.45 0.45 0 1 0 0.90 0a0.45 0.45 0 1 0 -0.90 0M262.04 124.15a0.45 0.45 0 1 0 0.90 0a0.45 0.45 0 1 0 -0.90 0M262.21 131.52a0.45 0.45 0 1 0 0.90 0a0.45 0.45 0 1 0 -0.90 0M261.58 120.92a0.45 0.45 0 1 0 0.90 0a0.45 0.45 0 1 0 -0.90 0M258.22 135.71a0.45 0.45 0 1 0 0.90 0a0.45 0.45 0 1 0 -0.90 0M261.32 130.25a0.45 0.45 0 1 0 0.90 0a0.45 0.45 0 1 0 -0.90 0M257.30 136.72a0.45 0.45 0 1 0 0.90 0a0.45 0.45 0 1 0 -0.90 0M256.38 136.07a0.45 0.45 0 1 0 0.90 0a0.45 0.45 0 1 0 -0.90 0M262.10 136.37a0.45 0.45 0 1 0 0.90 0a0.45 0.45 0 1 0 -0.90 0M263.68 115.94a0.45 0.45 0 1 0 0.90 0a0.45 0.45 0 1 0 -0.90 0M260.63 131.38a0.45 0.45 0 1 0 0.90 0a0.45 0.45 0 1 0 -0.90 0M245.33 134.79a0.45 0.45 0 1 0 0.90 0a0.45 0.45 0 1 0 -0.90 0M251.40 136.74a0.45 0.45 0 1 0 0.90 0a0.45 0.45 0 1 0 -0.90 0M252.77 135.51a0.45 0.45 0 1 0 0.90 0a0.45 0.45 0 1 0 -0.90 0M262.55 135.21a0.45 0.45 0 1 0 0.90 0a0.45 0.45 0 1 0 -0.90 0M251.83 135.87a0.45 0.45 0 1 0 0.90 0a0.45 0.45 0 1 0 -0.90 0M253.89 136.55a0.45 0.45 0 1 0 0.90 0a0.45 0.45 0 1 0 -0.90 0M258.67 134.92a0.45 0.45 0 1 0 0.90 0a0.45 0.45 0 1 0 -0.90 0M245.91 136.50a0.45 0.45 0 1 0 0.90 0a0.45 0.45 0 1 0 -0.90 0M255.84 136.43a0.45 0.45 0 1 0 0.90 0a0.45 0.45 0 1 0 -0.90 0M261.32 131.02a0.45 0.45 0 1 0 0.90 0a0.45 0.45 0 1 0 -0.90 0M260.51 124.94a0.45 0.45 0 1 0 0.90 0a0.45 0.45 0 1 0 -0.90 0M257.48 135.75a0.45 0.45 0 1 0 0.90 0a0.45 0.45 0 1 0 -0.90 0M263.19 130.54a0.45 0.45 0 1 0 0.90 0a0.45 0.45 0 1 0 -0.90 0M261.30 136.47a0.45 0.45 0 1 0 0.90 0a0.45 0.45 0 1 0 -0.90 0M260.45 135.65a0.45 0.45 0 1 0 0.90 0a0.45 0.45 0 1 0 -0.90 0M258.28 136.40a0.45 0.45 0 1 0 0.90 0a0.45 0.45 0 1 0 -0.90 0M260.10 136.66a0.45 0.45 0 1 0 0.90 0a0.45 0.45 0 1 0 -0.90 0M249.18 135.63a0.45 0.45 0 1 0 0.90 0a0.45 0.45 0 1 0 -0.90 0M259.37 133.91a0.45 0.45 0 1 0 0.90 0a0.45 0.45 0 1 0 -0.90 0M260.61 130.03a0.45 0.45 0 1 0 0.90 0a0.45 0.45 0 1 0 -0.90 0M259.42 134.86a0.45 0.45 0 1 0 0.90 0a0.45 0.45 0 1 0 -0.90 0M253.29 136.08a0.45 0.45 0 1 0 0.90 0a0.45 0.45 0 1 0 -0.90 0M260.48 135.51a0.45 0.45 0 1 0 0.90 0a0.45 0.45 0 1 0 -0.90 0M263.46 130.96a0.45 0.45 0 1 0 0.90 0a0.45 0.45 0 1 0 -0.90 0M258.12 135.93a0.45 0.45 0 1 0 0.90 0a0.45 0.45 0 1 0 -0.90 0M262.68 134.16a0.45 0.45 0 1 0 0.90 0a0.45 0.45 0 1 0 -0.90 0M263.10 120.66a0.45 0.45 0 1 0 0.90 0a0.45 0.45 0 1 0 -0.90 0M263.00 131.56a0.45 0.45 0 1 0 0.90 0a0.45 0.45 0 1 0 -0.90 0M253.63 136.50a0.45 0.45 0 1 0 0.90 0a0.45 0.45 0 1 0 -0.90 0M257.11 134.26a0.45 0.45 0 1 0 0.90 0a0.45 0.45 0 1 0 -0.90 0M263.21 136.20a0.45 0.45 0 1 0 0.90 0a0.45 0.45 0 1 0 -0.90 0M249.05 136.17a0.45 0.45 0 1 0 0.90 0a0.45 0.45 0 1 0 -0.90 0M257.18 136.73a0.45 0.45 0 1 0 0.90 0a0.45 0.45 0 1 0 -0.90 0M257.22 134.43a0.45 0.45 0 1 0 0.90 0a0.45 0.45 0 1 0 -0.90 0M258.20 136.68a0.45 0.45 0 1 0 0.90 0a0.45 0.45 0 1 0 -0.90 0M260.61 129.49a0.45 0.45 0 1 0 0.90 0a0.45 0.45 0 1 0 -0.90 0M243.89 136.67a0.45 0.45 0 1 0 0.90 0a0.45 0.45 0 1 0 -0.90 0M259.88 131.97a0.45 0.45 0 1 0 0.90 0a0.45 0.45 0 1 0 -0.90 0M257.41 135.03a0.45 0.45 0 1 0 0.90 0a0.45 0.45 0 1 0 -0.90 0M255.07 135.90a0.45 0.45 0 1 0 0.90 0a0.45 0.45 0 1 0 -0.90 0M251.81 135.11a0.45 0.45 0 1 0 0.90 0a0.45 0.45 0 1 0 -0.90 0M263.16 131.83a0.45 0.45 0 1 0 0.90 0a0.45 0.45 0 1 0 -0.90 0M250.34 134.90a0.45 0.45 0 1 0 0.90 0a0.45 0.45 0 1 0 -0.90 0M259.19 136.61a0.45 0.45 0 1 0 0.90 0a0.45 0.45 0 1 0 -0.90 0M246.71 134.48a0.45 0.45 0 1 0 0.90 0a0.45 0.45 0 1 0 -0.90 0"/>
<path fill="#3f7fb5" opacity="0.8" d="M259.71 27.07a0.5 0.5 0 1 0 1.00 0a0.5 0.5 0 1 0 -1.00 0M251.77 64.15a0.5 0.5 0 1 0 1.00 0a0.5 0.5 0 1 0 -1.00 0M261.92 67.74a0.5 0.5 0 1 0 1.00 0a0.5 0.5 0 1 0 -1.00 0M257.06 77.30a0.5 0.5 0 1 0 1.00 0a0.5 0.5 0 1 0 -1.00 0M260.59 80.89a0.5 0.5 0 1 0 1.00 0a0.5 0.5 0 1 0 -1.00 0"/>
<path fill="#7fcdf2" opacity="0.8" d="M264.12 76.11a0.5 0.5 0 1 0 1.00 0a0.5 0.5 0 1 0 -1.00 0"/>
<path fill="#3f7fb5" opacity="0.8" d="M262.80 85.68a0.5 0.5 0 1 0 1.00 0a0.5 0.5 0 1 0 -1.00 0M259.27 86.87a0.5 0.5 0 1 0 1.00 0a0.5 0.5 0 1 0 -1.00 0M253.10 90.46a0.5 0.5 0 1 0 1.00 0a0.5 0.5 0 1 0 -1.00 0"/>
<path fill="#7fcdf2" opacity="0.8" d="M263.68 90.46a0.5 0.5 0 1 0 1.00 0a0.5 0.5 0 1 0 -1.00 0M264.56 92.85a0.5 0.5 0 1 0 1.00 0a0.5 0.5 0 1 0 -1.00 0"/>
<path fill="#3f7fb5" opacity="0.8" d="M262.36 95.24a0.5 0.5 0 1 0 1.00 0a0.5 0.5 0 1 0 -1.00 0"/>
<path fill="#7fcdf2" opacity="0.8" d="M265.00 97.64a0.5 0.5 0 1 0 1.00 0a0.5 0.5 0 1 0 -1.00 0"/>
<path fill="#3f7fb5" opacity="0.8" d="M261.03 98.83a0.5 0.5 0 1 0 1.00 0a0.5 0.5 0 1 0 -1.00 0"/>
<path fill="#7fcdf2" opacity="0.8" d="M264.12 101.22a0.5 0.5 0 1 0 1.00 0a0.5 0.5 0 1 0 -1.00 0"/>
<path fill="#3f7fb5" opacity="0.8" d="M263.24 103.62a0.5 0.5 0 1 0 1.00 0a0.5 0.5 0 1 0 -1.00 0M258.39 102.42a0.5 0.5 0 1 0 1.00 0a0.5 0.5 0 1 0 -1.00 0"/>
<path fill="#7fcdf2" opacity="0.8" d="M265.44 104.81a0.5 0.5 0 1 0 1.00 0a0.5 0.5 0 1 0 -1.00 0"/>
<path fill="#3f7fb5" opacity="0.8" d="M261.92 107.20a0.5 0.5 0 1 0 1.00 0a0.5 0.5 0 1 0 -1.00 0"/>
<path fill="#7fcdf2" opacity="0.8" d="M264.56 108.40a0.5 0.5 0 1 0 1.00 0a0.5 0.5 0 1 0 -1.00 0"/>
<path fill="#3f7fb5" opacity="0.8" d="M260.15 109.60a0.5 0.5 0 1 0 1.00 0a0.5 0.5 0 1 0 -1.00 0M249.57 113.18a0.5 0.5 0 1 0 1.00 0a0.5 0.5 0 1 0 -1.00 0M255.74 110.79a0.5 0.5 0 1 0 1.00 0a0.5 0.5 0 1 0 -1.00 0"/>
<path fill="#7fcdf2" opacity="0.8" d="M265.88 110.79a0.5 0.5 0 1 0 1.00 0a0.5 0.5 0 1 0 -1.00 0"/>
<path fill="#3f7fb5" opacity="0.8" d="M262.80 111.99a0.5 0.5 0 1 0 1.00 0a0.5 0.5 0 1 0 -1.00 0M240.75 121.56a0.5 0.5 0 1 0 1.00 0a0.5 0.5 0 1 0 -1.00 0M247.80 123.95a0.5 0.5 0 1 0 1.00 0a0.5 0.5 0 1 0 -1.00 0M253.10 119.16a0.5 0.5 0 1 0 1.00 0a0.5 0.5 0 1 0 -1.00 0M257.51 115.58a0.5 0.5 0 1 0 1.00 0a0.5 0.5 0 1 0 -1.00 0M258.83 120.36a0.5 0.5 0 1 0 1.00 0a0.5 0.5 0 1 0 -1.00 0"/>
<path fill="#e8474c" opacity="0.8" d="M305.40 134.69a0.45 0.45 0 1 0 0.90 0a0.45 0.45 0 1 0 -0.90 0M282.02 135.26a0.45 0.45 0 1 0 0.90 0a0.45 0.45 0 1 0 -0.90 0M299.25 135.70a0.45 0.45 0 1 0 0.90 0a0.45 0.45 0 1 0 -0.90 0M285.63 133.07a0.45 0.45 0 1 0 0.90 0a0.45 0.45 0 1 0 -0.90 0M294.82 135.88a0.45 0.45 0 1 0 0.90 0a0.45 0.45 0 1 0 -0.90 0M295.20 135.52a0.45 0.45 0 1 0 0.90 0a0.45 0.45 0 1 0 -0.90 0M303.20 136.23a0.45 0.45 0 1 0 0.90 0a0.45 0.45 0 1 0 -0.90 0M287.28 135.83a0.45 0.45 0 1 0 0.90 0a0.45 0.45 0 1 0 -0.90 0M294.44 136.13a0.45 0.45 0 1 0 0.90 0a0.45 0.45 0 1 0 -0.90 0M286.11 133.04a0.45 0.45 0 1 0 0.90 0a0.45 0.45 0 1 0 -0.90 0M291.09 135.57a0.45 0.45 0 1 0 0.90 0a0.45 0.45 0 1 0 -0.90 0M294.83 136.54a0.45 0.45 0 1 0 0.90 0a0.45 0.45 0 1 0 -0.90 0M284.00 134.77a0.45 0.45 0 1 0 0.90 0a0.45 0.45 0 1 0 -0.90 0M288.82 134.72a0.45 0.45 0 1 0 0.90 0a0.45 0.45 0 1 0 -0.90 0M308.38 136.12a0.45 0.45 0 1 0 0.90 0a0.45 0.45 0 1 0 -0.90 0M298.02 132.49a0.45 0.45 0 1 0 0.90 0a0.45 0.45 0 1 0 -0.90 0M300.11 136.50a0.45 0.45 0 1 0 0.90 0a0.45 0.45 0 1 0 -0.90 0M311.68 135.66a0.45 0.45 0 1 0 0.90 0a0.45 0.45 0 1 0 -0.90 0M283.12 136.73a0.45 0.45 0 1 0 0.90 0a0.45 0.45 0 1 0 -0.90 0M282.47 134.84a0.45 0.45 0 1 0 0.90 0a0.45 0.45 0 1 0 -0.90 0M313.11 133.17a0.45 0.45 0 1 0 0.90 0a0.45 0.45 0 1 0 -0.90 0M281.90 135.01a0.45 0.45 0 1 0 0.90 0a0.45 0.45 0 1 0 -0.90 0"/>
<text x="227.20" y="127.70" font-size="4.3" fill="#3a72ab" text-anchor="start" font-weight="normal" stroke="#3a72ab" stroke-width="0.12">CLEC4M</text>
<text x="242.20" y="127.70" font-size="4.3" fill="#3a72ab" text-anchor="start" font-weight="normal" stroke="#3a72ab" stroke-width="0.12">HDGFL3</text>
<text x="218.00" y="134.10" font-size="4.3" fill="#3a72ab" text-anchor="start" font-weight="normal" stroke="#3a72ab" stroke-width="0.12">FFAR1</text>
<text x="234.40" y="134.10" font-size="4.3" fill="#3a72ab" text-anchor="start" font-weight="normal" stroke="#3a72ab" stroke-width="0.12">DRC3</text>
<text x="246.20" y="136.90" font-size="4.3" fill="#3a72ab" text-anchor="start" font-weight="normal" stroke="#3a72ab" stroke-width="0.12">UPK3BL2</text>
<text x="259.60" y="137.40" font-size="4.3" fill="#3a72ab" text-anchor="start" font-weight="normal" stroke="#3a72ab" stroke-width="0.12">CSF2</text>
<text x="238.00" y="138.60" font-size="4.3" fill="#3a72ab" text-anchor="start" font-weight="normal" stroke="#3a72ab" stroke-width="0.12">OR5B12</text>
<text x="250.00" y="138.90" font-size="4.3" fill="#3a72ab" text-anchor="start" font-weight="normal" stroke="#3a72ab" stroke-width="0.12">SERPINB7</text>
<text x="221.20" y="141.00" font-size="4.3" fill="#3a72ab" text-anchor="start" font-weight="normal" stroke="#3a72ab" stroke-width="0.12">TSHZ2</text>
<text x="217.90" y="143.80" font-size="4.3" fill="#3a72ab" text-anchor="start" font-weight="normal" stroke="#3a72ab" stroke-width="0.12">FANCD2OS</text>
<text x="236.80" y="143.80" font-size="4.3" fill="#3a72ab" text-anchor="start" font-weight="normal" stroke="#3a72ab" stroke-width="0.12">FSIP2</text>
<text x="247.00" y="143.80" font-size="4.3" fill="#3a72ab" text-anchor="start" font-weight="normal" stroke="#3a72ab" stroke-width="0.12">ADAMTS20</text>
<text x="298.20" y="128.70" font-size="4.3" fill="#e8474c" text-anchor="start" font-weight="normal" stroke="#e8474c" stroke-width="0.12">ASMTL</text>
<text x="309.60" y="128.90" font-size="4.3" fill="#e8474c" text-anchor="start" font-weight="normal" stroke="#e8474c" stroke-width="0.12">LOC102723553</text>
<text x="290.00" y="134.80" font-size="4.3" fill="#e8474c" text-anchor="start" font-weight="normal" stroke="#e8474c" stroke-width="0.12">SMIM11</text>
<text x="313.00" y="135.60" font-size="4.3" fill="#e8474c" text-anchor="start" font-weight="normal" stroke="#e8474c" stroke-width="0.12">LAMC2</text>
<text x="267.00" y="137.10" font-size="4.3" fill="#e8474c" text-anchor="start" font-weight="normal" stroke="#e8474c" stroke-width="0.12">LOC101929937</text>
<text x="319.80" y="141.50" font-size="4.3" fill="#e8474c" text-anchor="start" font-weight="normal" stroke="#e8474c" stroke-width="0.12">STXBP6</text>
<text x="270.00" y="143.80" font-size="4.3" fill="#e8474c" text-anchor="start" font-weight="normal" stroke="#e8474c" stroke-width="0.12">LOC102724560</text>
<text x="288.00" y="143.80" font-size="4.3" fill="#e8474c" text-anchor="start" font-weight="normal" stroke="#e8474c" stroke-width="0.12">TSACC</text>
<text x="299.60" y="143.80" font-size="4.3" fill="#e8474c" text-anchor="start" font-weight="normal" stroke="#e8474c" stroke-width="0.12">TOX</text>
<text x="309.20" y="143.80" font-size="4.3" fill="#e8474c" text-anchor="start" font-weight="normal" stroke="#e8474c" stroke-width="0.12">MPDZ</text>
<line x1="300.00" y1="129.00" x2="296.00" y2="137.00" stroke="#e9a3a6" stroke-width="0.3" />
<line x1="318.00" y1="129.00" x2="316.00" y2="137.00" stroke="#e9a3a6" stroke-width="0.3" />
<line x1="296.00" y1="135.50" x2="300.00" y2="139.00" stroke="#e9a3a6" stroke-width="0.3" />
<line x1="318.00" y1="136.00" x2="320.00" y2="140.00" stroke="#e9a3a6" stroke-width="0.3" />
<line x1="246.00" y1="128.50" x2="250.00" y2="134.00" stroke="#9dbbd6" stroke-width="0.3" />
<line x1="232.00" y1="128.50" x2="238.00" y2="136.00" stroke="#9dbbd6" stroke-width="0.3" />
</g>
<text x="220.80" y="26.60" font-size="4.6" fill="#111" text-anchor="start" font-weight="normal" stroke="#111" stroke-width="0.12">Down</text>
<text x="220.80" y="31.80" font-size="4.6" fill="#111" text-anchor="start" font-weight="normal" stroke="#111" stroke-width="0.12">p &lt; 0.05: 1611</text>
<text x="220.80" y="37.00" font-size="4.6" fill="#111" text-anchor="start" font-weight="normal" stroke="#111" stroke-width="0.12">log2FC &lt; −1: 595</text>
<text x="220.80" y="42.20" font-size="4.6" fill="#111" text-anchor="start" font-weight="normal" stroke="#111" stroke-width="0.12">Sig. : 215</text>
<text x="292.60" y="26.60" font-size="4.6" fill="#111" text-anchor="start" font-weight="normal" stroke="#111" stroke-width="0.12">Up</text>
<text x="292.60" y="31.80" font-size="4.6" fill="#111" text-anchor="start" font-weight="normal" stroke="#111" stroke-width="0.12">p &lt; 0.05: 1228</text>
<text x="292.60" y="37.00" font-size="4.6" fill="#111" text-anchor="start" font-weight="normal" stroke="#111" stroke-width="0.12">log2FC &gt; 1: 236</text>
<text x="292.60" y="42.20" font-size="4.6" fill="#111" text-anchor="start" font-weight="normal" stroke="#111" stroke-width="0.12">Sig. : 34</text>
<text x="275.4" y="163.6" font-size="9.3" fill="#111" text-anchor="middle">log<tspan font-size="5.6" dy="2">2</tspan><tspan dy="-2"> FoldChange</tspan></text>
<text transform="translate(200.2,81.5) rotate(-90)" font-size="9.3" fill="#111" text-anchor="middle">−Log<tspan font-size="5.6" dy="2">10</tspan><tspan dy="-2"> p−value</tspan></text>
<circle cx="344.00" cy="29.60" r="1.55" fill="#e8474c" />
<text x="350.60" y="32.00" font-size="6.7" fill="#111" text-anchor="start" font-weight="normal" >Significant Up</text>
<circle cx="344.00" cy="42.60" r="1.55" fill="#3f7fb5" />
<text x="350.60" y="45.00" font-size="6.7" fill="#111" text-anchor="start" font-weight="normal" >Significant Down</text>
<circle cx="344.00" cy="55.60" r="1.55" fill="#f4b6c2" />
<text x="350.60" y="58.00" font-size="6.7" fill="#111" text-anchor="start" font-weight="normal" >Up</text>
<circle cx="344.00" cy="68.60" r="1.55" fill="#7fcdf2" />
<text x="350.60" y="71.00" font-size="6.7" fill="#111" text-anchor="start" font-weight="normal" >Down</text>
<circle cx="344.00" cy="81.60" r="1.55" fill="#d8e0ea" />
<text x="350.60" y="84.00" font-size="6.7" fill="#111" text-anchor="start" font-weight="normal" >Non−significant</text>
</g>
<g>
<text x="410.00" y="5.90" font-size="6.7" fill="#111" text-anchor="start" font-weight="normal" >sh−TDRD9−vs−sh−NC: p−value&lt;0.05 &amp;&amp; |Log2FC|&gt;1</text>
<line x1="474.95" y1="25.20" x2="491.65" y2="25.20" stroke="#3a3a3a" stroke-width="0.5" />
<line x1="474.95" y1="25.20" x2="474.95" y2="30.90" stroke="#3a3a3a" stroke-width="0.5" />
<line x1="491.65" y1="25.20" x2="491.65" y2="30.90" stroke="#3a3a3a" stroke-width="0.5" />
<line x1="458.25" y1="24.00" x2="483.30" y2="24.00" stroke="#3a3a3a" stroke-width="0.5" />
<line x1="458.25" y1="24.00" x2="458.25" y2="30.90" stroke="#3a3a3a" stroke-width="0.5" />
<line x1="483.30" y1="24.00" x2="483.30" y2="25.20" stroke="#3a3a3a" stroke-width="0.5" />
<line x1="525.05" y1="23.40" x2="541.75" y2="23.40" stroke="#3a3a3a" stroke-width="0.5" />
<line x1="525.05" y1="23.40" x2="525.05" y2="30.90" stroke="#3a3a3a" stroke-width="0.5" />
<line x1="541.75" y1="23.40" x2="541.75" y2="30.90" stroke="#3a3a3a" stroke-width="0.5" />
<line x1="508.35" y1="16.40" x2="533.40" y2="16.40" stroke="#3a3a3a" stroke-width="0.5" />
<line x1="508.35" y1="16.40" x2="508.35" y2="30.90" stroke="#3a3a3a" stroke-width="0.5" />
<line x1="533.40" y1="16.40" x2="533.40" y2="23.40" stroke="#3a3a3a" stroke-width="0.5" />
<line x1="470.77" y1="9.30" x2="520.88" y2="9.30" stroke="#3a3a3a" stroke-width="0.5" />
<line x1="470.77" y1="9.30" x2="470.77" y2="24.00" stroke="#3a3a3a" stroke-width="0.5" />
<line x1="520.88" y1="9.30" x2="520.88" y2="16.40" stroke="#3a3a3a" stroke-width="0.5" />
<text x="446.60" y="35.00" font-size="6.5" fill="#111" text-anchor="end" font-weight="normal" >group</text>
<rect x="449.90" y="31.10" width="50.10" height="4.60" fill="#8ed3f4" stroke="none" stroke-width="0.5" />
<rect x="500.00" y="31.10" width="50.10" height="4.60" fill="#f0a15c" stroke="none" stroke-width="0.5" />
<g shape-rendering="crispEdges">
<path fill="#dbe9f1" d="M449.9 36.90h16.75v0.75h-16.75zM449.9 37.59h16.75v0.75h-16.75zM449.9 40.36h16.75v0.75h-16.75zM449.9 41.05h16.75v0.75h-16.75zM449.9 111.68h16.75v0.75h-16.75zM449.9 112.37h16.75v0.75h-16.75zM449.9 119.99h16.75v0.75h-16.75zM449.9 120.68h16.75v0.75h-16.75zM466.6 51.44h16.75v0.75h-16.75zM466.6 52.83h16.75v0.75h-16.75zM466.6 162.22h16.75v0.75h-16.75zM483.3 174.00h16.75v0.75h-16.75zM500.0 49.36h16.75v0.75h-16.75zM500.0 50.06h16.75v0.75h-16.75zM500.0 186.46h16.75v0.75h-16.75zM500.0 187.15h16.75v0.75h-16.75zM516.7 199.61h16.75v0.75h-16.75zM533.4 100.60h16.75v0.75h-16.75zM533.4 101.29h16.75v0.75h-16.75zM533.4 103.37h16.75v0.75h-16.75zM533.4 104.06h16.75v0.75h-16.75zM533.4 185.07h16.75v0.75h-16.75zM533.4 185.77h16.75v0.75h-16.75z"/>
<path fill="#f4faf8" d="M449.9 38.28h16.75v0.75h-16.75zM449.9 38.98h16.75v0.75h-16.75zM466.6 45.90h16.75v0.75h-16.75zM466.6 50.75h16.75v0.75h-16.75zM483.3 38.28h16.75v0.75h-16.75zM500.0 185.77h16.75v0.75h-16.75zM500.0 204.46h16.75v0.75h-16.75zM500.0 205.15h16.75v0.75h-16.75zM516.7 78.44h16.75v0.75h-16.75zM516.7 79.14h16.75v0.75h-16.75zM516.7 85.37h16.75v0.75h-16.75zM516.7 86.06h16.75v0.75h-16.75zM516.7 86.75h16.75v0.75h-16.75zM516.7 126.22h16.75v0.75h-16.75zM516.7 190.61h16.75v0.75h-16.75zM516.7 191.31h16.75v0.75h-16.75zM516.7 197.54h16.75v0.75h-16.75zM533.4 61.83h16.75v0.75h-16.75zM533.4 62.52h16.75v0.75h-16.75zM533.4 82.60h16.75v0.75h-16.75zM533.4 83.29h16.75v0.75h-16.75zM533.4 97.83h16.75v0.75h-16.75zM533.4 98.52h16.75v0.75h-16.75zM533.4 104.76h16.75v0.75h-16.75zM533.4 105.45h16.75v0.75h-16.75zM533.4 117.22h16.75v0.75h-16.75zM533.4 117.91h16.75v0.75h-16.75zM533.4 119.99h16.75v0.75h-16.75zM533.4 120.68h16.75v0.75h-16.75zM533.4 122.76h16.75v0.75h-16.75zM533.4 123.45h16.75v0.75h-16.75zM533.4 124.14h16.75v0.75h-16.75zM533.4 124.83h16.75v0.75h-16.75zM533.4 160.84h16.75v0.75h-16.75z"/>
<path fill="#ecf4f6" d="M449.9 39.67h16.75v0.75h-16.75zM483.3 174.69h16.75v0.75h-16.75zM500.0 187.84h16.75v0.75h-16.75zM500.0 205.85h16.75v0.75h-16.75zM500.0 206.54h16.75v0.75h-16.75zM516.7 74.29h16.75v0.75h-16.75zM516.7 74.98h16.75v0.75h-16.75zM516.7 77.06h16.75v0.75h-16.75zM516.7 77.75h16.75v0.75h-16.75zM516.7 79.83h16.75v0.75h-16.75zM516.7 80.52h16.75v0.75h-16.75zM516.7 87.45h16.75v0.75h-16.75zM516.7 198.23h16.75v0.75h-16.75zM533.4 96.45h16.75v0.75h-16.75zM533.4 97.14h16.75v0.75h-16.75zM533.4 99.22h16.75v0.75h-16.75zM533.4 99.91h16.75v0.75h-16.75zM533.4 115.83h16.75v0.75h-16.75zM533.4 116.53h16.75v0.75h-16.75z"/>
<path fill="#cadeec" d="M449.9 41.75h16.75v0.75h-16.75zM449.9 110.99h16.75v0.75h-16.75zM449.9 113.06h16.75v0.75h-16.75zM449.9 113.76h16.75v0.75h-16.75zM449.9 124.14h16.75v0.75h-16.75zM449.9 124.83h16.75v0.75h-16.75zM466.6 53.52h16.75v0.75h-16.75zM483.3 44.52h16.75v0.75h-16.75zM483.3 188.54h16.75v0.75h-16.75zM516.7 55.59h16.75v0.75h-16.75zM516.7 92.98h16.75v0.75h-16.75zM516.7 101.99h16.75v0.75h-16.75zM516.7 102.68h16.75v0.75h-16.75zM516.7 198.92h16.75v0.75h-16.75z"/>
<path fill="#a7c3df" d="M449.9 42.44h16.75v0.75h-16.75zM449.9 43.13h16.75v0.75h-16.75zM449.9 204.46h16.75v0.75h-16.75zM466.6 182.30h16.75v0.75h-16.75zM466.6 183.00h16.75v0.75h-16.75zM483.3 95.06h16.75v0.75h-16.75zM483.3 136.61h16.75v0.75h-16.75zM483.3 162.92h16.75v0.75h-16.75zM483.3 163.61h16.75v0.75h-16.75zM483.3 176.07h16.75v0.75h-16.75zM483.3 192.00h16.75v0.75h-16.75zM483.3 192.69h16.75v0.75h-16.75zM500.0 47.29h16.75v0.75h-16.75zM500.0 51.44h16.75v0.75h-16.75zM516.7 38.28h16.75v0.75h-16.75zM516.7 38.98h16.75v0.75h-16.75zM516.7 108.91h16.75v0.75h-16.75zM516.7 109.60h16.75v0.75h-16.75zM516.7 110.29h16.75v0.75h-16.75zM516.7 110.99h16.75v0.75h-16.75zM516.7 111.68h16.75v0.75h-16.75zM516.7 112.37h16.75v0.75h-16.75zM516.7 113.06h16.75v0.75h-16.75zM516.7 115.83h16.75v0.75h-16.75zM516.7 116.53h16.75v0.75h-16.75zM516.7 118.60h16.75v0.75h-16.75zM516.7 119.30h16.75v0.75h-16.75z"/>
<path fill="#f8f4e2" d="M449.9 43.82h16.75v0.75h-16.75zM449.9 59.75h16.75v0.75h-16.75zM466.6 46.59h16.75v0.75h-16.75zM466.6 54.21h16.75v0.75h-16.75zM466.6 59.75h16.75v0.75h-16.75zM516.7 71.52h16.75v0.75h-16.75zM516.7 72.21h16.75v0.75h-16.75zM516.7 72.90h16.75v0.75h-16.75zM516.7 192.00h16.75v0.75h-16.75zM516.7 192.69h16.75v0.75h-16.75zM516.7 193.38h16.75v0.75h-16.75zM516.7 194.07h16.75v0.75h-16.75zM516.7 196.84h16.75v0.75h-16.75zM533.4 79.14h16.75v0.75h-16.75zM533.4 81.91h16.75v0.75h-16.75zM533.4 83.98h16.75v0.75h-16.75zM533.4 84.68h16.75v0.75h-16.75zM533.4 85.37h16.75v0.75h-16.75zM533.4 101.99h16.75v0.75h-16.75zM533.4 102.68h16.75v0.75h-16.75z"/>
<path fill="#e56441" d="M449.9 44.52h16.75v0.75h-16.75zM449.9 47.29h16.75v0.75h-16.75zM466.6 38.28h16.75v0.75h-16.75zM483.3 54.21h16.75v0.75h-16.75zM516.7 176.76h16.75v0.75h-16.75zM516.7 177.46h16.75v0.75h-16.75zM516.7 183.69h16.75v0.75h-16.75zM533.4 197.54h16.75v0.75h-16.75zM533.4 198.23h16.75v0.75h-16.75zM533.4 201.69h16.75v0.75h-16.75zM533.4 202.38h16.75v0.75h-16.75zM533.4 208.62h16.75v0.75h-16.75zM533.4 209.31h16.75v0.75h-16.75z"/>
<path fill="#d7352a" d="M449.9 45.21h16.75v0.75h-16.75zM449.9 45.90h16.75v0.75h-16.75zM449.9 46.59h16.75v0.75h-16.75zM466.6 36.90h16.75v0.75h-16.75zM466.6 37.59h16.75v0.75h-16.75zM483.3 53.52h16.75v0.75h-16.75zM500.0 82.60h16.75v0.75h-16.75zM500.0 83.29h16.75v0.75h-16.75zM500.0 86.75h16.75v0.75h-16.75zM500.0 87.45h16.75v0.75h-16.75zM500.0 88.14h16.75v0.75h-16.75zM500.0 88.83h16.75v0.75h-16.75zM500.0 89.52h16.75v0.75h-16.75zM500.0 90.21h16.75v0.75h-16.75zM500.0 90.91h16.75v0.75h-16.75zM500.0 91.60h16.75v0.75h-16.75zM500.0 93.68h16.75v0.75h-16.75zM500.0 94.37h16.75v0.75h-16.75zM500.0 95.06h16.75v0.75h-16.75zM500.0 95.75h16.75v0.75h-16.75zM500.0 96.45h16.75v0.75h-16.75zM500.0 97.14h16.75v0.75h-16.75zM500.0 97.83h16.75v0.75h-16.75zM500.0 98.52h16.75v0.75h-16.75zM500.0 99.22h16.75v0.75h-16.75zM500.0 99.91h16.75v0.75h-16.75zM500.0 101.99h16.75v0.75h-16.75zM500.0 102.68h16.75v0.75h-16.75zM500.0 106.14h16.75v0.75h-16.75zM500.0 106.83h16.75v0.75h-16.75zM500.0 107.52h16.75v0.75h-16.75zM500.0 108.22h16.75v0.75h-16.75zM500.0 108.91h16.75v0.75h-16.75zM500.0 109.60h16.75v0.75h-16.75zM500.0 113.06h16.75v0.75h-16.75zM500.0 113.76h16.75v0.75h-16.75zM500.0 114.45h16.75v0.75h-16.75zM500.0 115.14h16.75v0.75h-16.75zM500.0 117.22h16.75v0.75h-16.75zM500.0 117.91h16.75v0.75h-16.75zM500.0 119.99h16.75v0.75h-16.75zM500.0 120.68h16.75v0.75h-16.75zM500.0 121.37h16.75v0.75h-16.75zM500.0 122.07h16.75v0.75h-16.75zM500.0 122.76h16.75v0.75h-16.75zM500.0 123.45h16.75v0.75h-16.75zM500.0 124.14h16.75v0.75h-16.75zM500.0 124.83h16.75v0.75h-16.75zM500.0 125.53h16.75v0.75h-16.75z"/>
<path fill="#f6b87b" d="M449.9 47.98h16.75v0.75h-16.75zM449.9 48.67h16.75v0.75h-16.75zM449.9 50.75h16.75v0.75h-16.75zM449.9 54.90h16.75v0.75h-16.75zM449.9 55.59h16.75v0.75h-16.75zM466.6 41.05h16.75v0.75h-16.75zM466.6 41.75h16.75v0.75h-16.75zM466.6 58.36h16.75v0.75h-16.75zM483.3 38.98h16.75v0.75h-16.75zM483.3 50.06h16.75v0.75h-16.75zM500.0 71.52h16.75v0.75h-16.75zM500.0 74.29h16.75v0.75h-16.75zM500.0 74.98h16.75v0.75h-16.75zM500.0 75.67h16.75v0.75h-16.75zM500.0 136.61h16.75v0.75h-16.75zM500.0 143.53h16.75v0.75h-16.75zM500.0 144.22h16.75v0.75h-16.75zM500.0 147.68h16.75v0.75h-16.75zM516.7 60.44h16.75v0.75h-16.75zM516.7 61.13h16.75v0.75h-16.75zM516.7 126.91h16.75v0.75h-16.75zM516.7 127.60h16.75v0.75h-16.75zM516.7 172.61h16.75v0.75h-16.75zM516.7 173.30h16.75v0.75h-16.75zM516.7 203.77h16.75v0.75h-16.75zM516.7 207.23h16.75v0.75h-16.75zM516.7 207.92h16.75v0.75h-16.75zM533.4 74.29h16.75v0.75h-16.75zM533.4 74.98h16.75v0.75h-16.75zM533.4 75.67h16.75v0.75h-16.75zM533.4 76.37h16.75v0.75h-16.75zM533.4 133.84h16.75v0.75h-16.75zM533.4 134.53h16.75v0.75h-16.75zM533.4 137.99h16.75v0.75h-16.75zM533.4 138.68h16.75v0.75h-16.75zM533.4 143.53h16.75v0.75h-16.75zM533.4 144.22h16.75v0.75h-16.75zM533.4 157.38h16.75v0.75h-16.75zM533.4 158.07h16.75v0.75h-16.75zM533.4 174.00h16.75v0.75h-16.75zM533.4 174.69h16.75v0.75h-16.75z"/>
<path fill="#f8c586" d="M449.9 49.36h16.75v0.75h-16.75zM449.9 56.29h16.75v0.75h-16.75zM449.9 56.98h16.75v0.75h-16.75zM466.6 42.44h16.75v0.75h-16.75zM466.6 55.59h16.75v0.75h-16.75zM466.6 56.29h16.75v0.75h-16.75zM466.6 56.98h16.75v0.75h-16.75zM466.6 57.67h16.75v0.75h-16.75zM483.3 42.44h16.75v0.75h-16.75zM483.3 49.36h16.75v0.75h-16.75zM483.3 50.75h16.75v0.75h-16.75zM500.0 137.30h16.75v0.75h-16.75zM500.0 148.38h16.75v0.75h-16.75zM500.0 157.38h16.75v0.75h-16.75zM500.0 158.07h16.75v0.75h-16.75zM500.0 158.76h16.75v0.75h-16.75zM500.0 159.45h16.75v0.75h-16.75zM500.0 163.61h16.75v0.75h-16.75zM500.0 168.46h16.75v0.75h-16.75zM500.0 169.15h16.75v0.75h-16.75zM500.0 196.84h16.75v0.75h-16.75zM516.7 61.83h16.75v0.75h-16.75zM516.7 62.52h16.75v0.75h-16.75zM516.7 63.21h16.75v0.75h-16.75zM516.7 63.90h16.75v0.75h-16.75zM516.7 68.75h16.75v0.75h-16.75zM516.7 69.44h16.75v0.75h-16.75zM516.7 129.68h16.75v0.75h-16.75zM516.7 130.37h16.75v0.75h-16.75zM516.7 131.07h16.75v0.75h-16.75zM516.7 131.76h16.75v0.75h-16.75zM516.7 165.69h16.75v0.75h-16.75zM516.7 166.38h16.75v0.75h-16.75zM516.7 167.07h16.75v0.75h-16.75zM516.7 167.76h16.75v0.75h-16.75zM516.7 208.62h16.75v0.75h-16.75zM516.7 209.31h16.75v0.75h-16.75zM533.4 72.21h16.75v0.75h-16.75zM533.4 73.60h16.75v0.75h-16.75zM533.4 77.06h16.75v0.75h-16.75zM533.4 132.45h16.75v0.75h-16.75zM533.4 133.14h16.75v0.75h-16.75zM533.4 135.22h16.75v0.75h-16.75zM533.4 135.91h16.75v0.75h-16.75zM533.4 151.84h16.75v0.75h-16.75zM533.4 152.53h16.75v0.75h-16.75zM533.4 158.76h16.75v0.75h-16.75zM533.4 159.45h16.75v0.75h-16.75zM533.4 172.61h16.75v0.75h-16.75zM533.4 173.30h16.75v0.75h-16.75zM533.4 182.30h16.75v0.75h-16.75zM533.4 183.00h16.75v0.75h-16.75zM533.4 189.23h16.75v0.75h-16.75zM533.4 189.92h16.75v0.75h-16.75zM533.4 192.00h16.75v0.75h-16.75zM533.4 192.69h16.75v0.75h-16.75zM533.4 196.15h16.75v0.75h-16.75zM533.4 205.85h16.75v0.75h-16.75zM533.4 206.54h16.75v0.75h-16.75z"/>
<path fill="#fbdca9" d="M449.9 50.06h16.75v0.75h-16.75zM449.9 57.67h16.75v0.75h-16.75zM483.3 57.67h16.75v0.75h-16.75zM483.3 58.36h16.75v0.75h-16.75zM483.3 59.06h16.75v0.75h-16.75zM500.0 132.45h16.75v0.75h-16.75zM500.0 155.99h16.75v0.75h-16.75zM500.0 156.69h16.75v0.75h-16.75zM500.0 169.84h16.75v0.75h-16.75zM500.0 170.53h16.75v0.75h-16.75zM500.0 175.38h16.75v0.75h-16.75zM500.0 176.07h16.75v0.75h-16.75zM500.0 176.76h16.75v0.75h-16.75zM500.0 179.53h16.75v0.75h-16.75zM500.0 180.23h16.75v0.75h-16.75zM500.0 183.69h16.75v0.75h-16.75zM500.0 184.38h16.75v0.75h-16.75zM500.0 198.92h16.75v0.75h-16.75zM500.0 199.61h16.75v0.75h-16.75zM500.0 200.31h16.75v0.75h-16.75zM500.0 201.00h16.75v0.75h-16.75zM500.0 201.69h16.75v0.75h-16.75zM500.0 202.38h16.75v0.75h-16.75zM516.7 65.98h16.75v0.75h-16.75zM516.7 66.67h16.75v0.75h-16.75zM516.7 144.22h16.75v0.75h-16.75zM516.7 144.91h16.75v0.75h-16.75zM516.7 145.61h16.75v0.75h-16.75zM516.7 146.30h16.75v0.75h-16.75zM516.7 146.99h16.75v0.75h-16.75zM516.7 150.45h16.75v0.75h-16.75zM516.7 151.15h16.75v0.75h-16.75zM516.7 155.30h16.75v0.75h-16.75zM516.7 157.38h16.75v0.75h-16.75zM516.7 158.07h16.75v0.75h-16.75zM516.7 203.08h16.75v0.75h-16.75zM533.4 71.52h16.75v0.75h-16.75zM533.4 77.75h16.75v0.75h-16.75zM533.4 113.06h16.75v0.75h-16.75zM533.4 140.76h16.75v0.75h-16.75zM533.4 141.45h16.75v0.75h-16.75zM533.4 149.07h16.75v0.75h-16.75zM533.4 149.76h16.75v0.75h-16.75zM533.4 165.69h16.75v0.75h-16.75zM533.4 166.38h16.75v0.75h-16.75zM533.4 176.76h16.75v0.75h-16.75zM533.4 177.46h16.75v0.75h-16.75zM533.4 180.92h16.75v0.75h-16.75zM533.4 181.61h16.75v0.75h-16.75z"/>
<path fill="#fad49d" d="M449.9 51.44h16.75v0.75h-16.75zM483.3 56.98h16.75v0.75h-16.75zM500.0 126.91h16.75v0.75h-16.75zM500.0 127.60h16.75v0.75h-16.75zM500.0 149.07h16.75v0.75h-16.75zM500.0 149.76h16.75v0.75h-16.75zM500.0 165.69h16.75v0.75h-16.75zM500.0 166.38h16.75v0.75h-16.75zM500.0 167.07h16.75v0.75h-16.75zM500.0 167.76h16.75v0.75h-16.75zM500.0 171.23h16.75v0.75h-16.75zM500.0 171.92h16.75v0.75h-16.75zM500.0 174.00h16.75v0.75h-16.75zM500.0 174.69h16.75v0.75h-16.75zM500.0 188.54h16.75v0.75h-16.75zM500.0 203.08h16.75v0.75h-16.75zM516.7 64.60h16.75v0.75h-16.75zM516.7 128.30h16.75v0.75h-16.75zM516.7 128.99h16.75v0.75h-16.75zM516.7 147.68h16.75v0.75h-16.75zM516.7 148.38h16.75v0.75h-16.75zM516.7 151.84h16.75v0.75h-16.75zM516.7 152.53h16.75v0.75h-16.75zM516.7 154.61h16.75v0.75h-16.75zM533.4 136.61h16.75v0.75h-16.75zM533.4 137.30h16.75v0.75h-16.75zM533.4 150.45h16.75v0.75h-16.75zM533.4 151.15h16.75v0.75h-16.75zM533.4 183.69h16.75v0.75h-16.75z"/>
<path fill="#f9f1d6" d="M449.9 52.13h16.75v0.75h-16.75zM449.9 52.83h16.75v0.75h-16.75zM466.6 43.82h16.75v0.75h-16.75zM500.0 203.77h16.75v0.75h-16.75zM516.7 83.98h16.75v0.75h-16.75zM516.7 84.68h16.75v0.75h-16.75zM516.7 134.53h16.75v0.75h-16.75zM516.7 189.23h16.75v0.75h-16.75zM516.7 196.15h16.75v0.75h-16.75zM533.4 65.98h16.75v0.75h-16.75zM533.4 66.67h16.75v0.75h-16.75zM533.4 81.21h16.75v0.75h-16.75zM533.4 89.52h16.75v0.75h-16.75zM533.4 90.21h16.75v0.75h-16.75zM533.4 108.91h16.75v0.75h-16.75zM533.4 109.60h16.75v0.75h-16.75zM533.4 110.29h16.75v0.75h-16.75zM533.4 110.99h16.75v0.75h-16.75zM533.4 126.22h16.75v0.75h-16.75zM533.4 184.38h16.75v0.75h-16.75z"/>
<path fill="#fbeecb" d="M449.9 53.52h16.75v0.75h-16.75zM466.6 47.29h16.75v0.75h-16.75zM483.3 47.29h16.75v0.75h-16.75zM500.0 185.07h16.75v0.75h-16.75zM516.7 70.83h16.75v0.75h-16.75zM516.7 133.84h16.75v0.75h-16.75zM516.7 188.54h16.75v0.75h-16.75zM516.7 189.92h16.75v0.75h-16.75zM533.4 79.83h16.75v0.75h-16.75zM533.4 80.52h16.75v0.75h-16.75zM533.4 107.52h16.75v0.75h-16.75zM533.4 108.22h16.75v0.75h-16.75zM533.4 113.76h16.75v0.75h-16.75zM533.4 128.30h16.75v0.75h-16.75zM533.4 128.99h16.75v0.75h-16.75zM533.4 131.07h16.75v0.75h-16.75zM533.4 168.46h16.75v0.75h-16.75zM533.4 169.15h16.75v0.75h-16.75zM533.4 187.15h16.75v0.75h-16.75z"/>
<path fill="#f9cd92" d="M449.9 54.21h16.75v0.75h-16.75zM449.9 59.06h16.75v0.75h-16.75zM466.6 54.90h16.75v0.75h-16.75zM483.3 47.98h16.75v0.75h-16.75zM483.3 48.67h16.75v0.75h-16.75zM483.3 54.90h16.75v0.75h-16.75zM483.3 56.29h16.75v0.75h-16.75zM500.0 72.21h16.75v0.75h-16.75zM500.0 72.90h16.75v0.75h-16.75zM500.0 73.60h16.75v0.75h-16.75zM500.0 128.30h16.75v0.75h-16.75zM500.0 128.99h16.75v0.75h-16.75zM500.0 129.68h16.75v0.75h-16.75zM500.0 130.37h16.75v0.75h-16.75zM500.0 131.07h16.75v0.75h-16.75zM500.0 131.76h16.75v0.75h-16.75zM500.0 150.45h16.75v0.75h-16.75zM500.0 151.15h16.75v0.75h-16.75zM500.0 151.84h16.75v0.75h-16.75zM500.0 152.53h16.75v0.75h-16.75zM500.0 153.22h16.75v0.75h-16.75zM500.0 153.92h16.75v0.75h-16.75zM500.0 154.61h16.75v0.75h-16.75zM500.0 155.30h16.75v0.75h-16.75zM500.0 164.30h16.75v0.75h-16.75zM500.0 164.99h16.75v0.75h-16.75zM516.7 132.45h16.75v0.75h-16.75zM516.7 133.14h16.75v0.75h-16.75zM516.7 139.38h16.75v0.75h-16.75zM516.7 140.07h16.75v0.75h-16.75zM516.7 149.07h16.75v0.75h-16.75zM516.7 149.76h16.75v0.75h-16.75zM516.7 160.84h16.75v0.75h-16.75zM516.7 168.46h16.75v0.75h-16.75zM516.7 169.15h16.75v0.75h-16.75zM516.7 205.85h16.75v0.75h-16.75zM516.7 206.54h16.75v0.75h-16.75zM533.4 72.90h16.75v0.75h-16.75zM533.4 139.38h16.75v0.75h-16.75zM533.4 140.07h16.75v0.75h-16.75zM533.4 142.14h16.75v0.75h-16.75zM533.4 142.84h16.75v0.75h-16.75zM533.4 144.91h16.75v0.75h-16.75zM533.4 145.61h16.75v0.75h-16.75zM533.4 146.30h16.75v0.75h-16.75zM533.4 146.99h16.75v0.75h-16.75zM533.4 147.68h16.75v0.75h-16.75zM533.4 148.38h16.75v0.75h-16.75zM533.4 153.22h16.75v0.75h-16.75zM533.4 153.92h16.75v0.75h-16.75zM533.4 154.61h16.75v0.75h-16.75zM533.4 155.30h16.75v0.75h-16.75zM533.4 167.07h16.75v0.75h-16.75zM533.4 167.76h16.75v0.75h-16.75zM533.4 175.38h16.75v0.75h-16.75zM533.4 176.07h16.75v0.75h-16.75zM533.4 178.15h16.75v0.75h-16.75zM533.4 178.84h16.75v0.75h-16.75zM533.4 179.53h16.75v0.75h-16.75zM533.4 180.23h16.75v0.75h-16.75z"/>
<path fill="#fdebc0" d="M449.9 58.36h16.75v0.75h-16.75zM466.6 47.98h16.75v0.75h-16.75zM466.6 48.67h16.75v0.75h-16.75zM466.6 49.36h16.75v0.75h-16.75zM466.6 50.06h16.75v0.75h-16.75zM500.0 177.46h16.75v0.75h-16.75zM500.0 178.15h16.75v0.75h-16.75zM500.0 178.84h16.75v0.75h-16.75zM500.0 180.92h16.75v0.75h-16.75zM500.0 181.61h16.75v0.75h-16.75zM500.0 182.30h16.75v0.75h-16.75zM500.0 183.00h16.75v0.75h-16.75zM516.7 70.14h16.75v0.75h-16.75zM516.7 137.99h16.75v0.75h-16.75zM516.7 138.68h16.75v0.75h-16.75zM516.7 155.99h16.75v0.75h-16.75zM516.7 156.69h16.75v0.75h-16.75zM516.7 158.76h16.75v0.75h-16.75zM516.7 159.45h16.75v0.75h-16.75zM516.7 160.15h16.75v0.75h-16.75zM516.7 200.31h16.75v0.75h-16.75zM516.7 201.00h16.75v0.75h-16.75zM516.7 201.69h16.75v0.75h-16.75zM516.7 202.38h16.75v0.75h-16.75zM533.4 67.37h16.75v0.75h-16.75zM533.4 68.06h16.75v0.75h-16.75zM533.4 78.44h16.75v0.75h-16.75zM533.4 86.06h16.75v0.75h-16.75zM533.4 88.14h16.75v0.75h-16.75zM533.4 88.83h16.75v0.75h-16.75zM533.4 90.91h16.75v0.75h-16.75zM533.4 91.60h16.75v0.75h-16.75zM533.4 92.29h16.75v0.75h-16.75zM533.4 111.68h16.75v0.75h-16.75zM533.4 112.37h16.75v0.75h-16.75zM533.4 131.76h16.75v0.75h-16.75zM533.4 160.15h16.75v0.75h-16.75zM533.4 171.23h16.75v0.75h-16.75z"/>
<path fill="#82a5d0" d="M449.9 60.44h16.75v0.75h-16.75zM449.9 61.13h16.75v0.75h-16.75zM449.9 71.52h16.75v0.75h-16.75zM449.9 72.90h16.75v0.75h-16.75zM449.9 73.60h16.75v0.75h-16.75zM449.9 84.68h16.75v0.75h-16.75zM449.9 99.22h16.75v0.75h-16.75zM449.9 128.30h16.75v0.75h-16.75zM449.9 128.99h16.75v0.75h-16.75zM449.9 129.68h16.75v0.75h-16.75zM449.9 130.37h16.75v0.75h-16.75zM449.9 131.07h16.75v0.75h-16.75zM449.9 146.30h16.75v0.75h-16.75zM449.9 158.76h16.75v0.75h-16.75zM449.9 159.45h16.75v0.75h-16.75zM449.9 201.69h16.75v0.75h-16.75zM449.9 207.23h16.75v0.75h-16.75zM449.9 207.92h16.75v0.75h-16.75zM466.6 63.21h16.75v0.75h-16.75zM466.6 63.90h16.75v0.75h-16.75zM466.6 77.06h16.75v0.75h-16.75zM466.6 77.75h16.75v0.75h-16.75zM466.6 93.68h16.75v0.75h-16.75zM466.6 95.06h16.75v0.75h-16.75zM466.6 99.22h16.75v0.75h-16.75zM466.6 99.91h16.75v0.75h-16.75zM466.6 102.68h16.75v0.75h-16.75zM466.6 118.60h16.75v0.75h-16.75zM466.6 119.30h16.75v0.75h-16.75zM466.6 125.53h16.75v0.75h-16.75zM466.6 128.99h16.75v0.75h-16.75zM466.6 171.23h16.75v0.75h-16.75zM466.6 177.46h16.75v0.75h-16.75zM466.6 184.38h16.75v0.75h-16.75zM466.6 203.08h16.75v0.75h-16.75zM483.3 60.44h16.75v0.75h-16.75zM483.3 61.13h16.75v0.75h-16.75zM483.3 90.91h16.75v0.75h-16.75zM483.3 91.60h16.75v0.75h-16.75zM483.3 104.06h16.75v0.75h-16.75zM483.3 106.14h16.75v0.75h-16.75zM483.3 106.83h16.75v0.75h-16.75zM483.3 111.68h16.75v0.75h-16.75zM483.3 112.37h16.75v0.75h-16.75zM483.3 118.60h16.75v0.75h-16.75zM483.3 119.30h16.75v0.75h-16.75zM483.3 124.14h16.75v0.75h-16.75zM483.3 124.83h16.75v0.75h-16.75zM483.3 167.07h16.75v0.75h-16.75zM483.3 197.54h16.75v0.75h-16.75zM483.3 198.23h16.75v0.75h-16.75zM483.3 203.77h16.75v0.75h-16.75zM500.0 44.52h16.75v0.75h-16.75zM500.0 46.59h16.75v0.75h-16.75zM516.7 39.67h16.75v0.75h-16.75zM516.7 40.36h16.75v0.75h-16.75zM516.7 41.05h16.75v0.75h-16.75zM516.7 41.75h16.75v0.75h-16.75zM516.7 42.44h16.75v0.75h-16.75zM516.7 43.13h16.75v0.75h-16.75zM516.7 117.22h16.75v0.75h-16.75zM516.7 117.91h16.75v0.75h-16.75zM533.4 40.36h16.75v0.75h-16.75z"/>
<path fill="#7a9fcd" d="M449.9 61.83h16.75v0.75h-16.75zM449.9 62.52h16.75v0.75h-16.75zM449.9 64.60h16.75v0.75h-16.75zM449.9 72.21h16.75v0.75h-16.75zM449.9 77.06h16.75v0.75h-16.75zM449.9 77.75h16.75v0.75h-16.75zM449.9 90.91h16.75v0.75h-16.75zM449.9 133.84h16.75v0.75h-16.75zM449.9 137.99h16.75v0.75h-16.75zM449.9 147.68h16.75v0.75h-16.75zM449.9 148.38h16.75v0.75h-16.75zM449.9 151.84h16.75v0.75h-16.75zM449.9 152.53h16.75v0.75h-16.75zM449.9 160.15h16.75v0.75h-16.75zM449.9 160.84h16.75v0.75h-16.75zM449.9 196.15h16.75v0.75h-16.75zM449.9 196.84h16.75v0.75h-16.75zM466.6 96.45h16.75v0.75h-16.75zM466.6 97.14h16.75v0.75h-16.75zM466.6 108.91h16.75v0.75h-16.75zM466.6 109.60h16.75v0.75h-16.75zM466.6 110.29h16.75v0.75h-16.75zM466.6 110.99h16.75v0.75h-16.75zM466.6 119.99h16.75v0.75h-16.75zM466.6 147.68h16.75v0.75h-16.75zM466.6 148.38h16.75v0.75h-16.75zM466.6 151.84h16.75v0.75h-16.75zM466.6 152.53h16.75v0.75h-16.75zM466.6 153.22h16.75v0.75h-16.75zM466.6 153.92h16.75v0.75h-16.75zM466.6 154.61h16.75v0.75h-16.75zM466.6 164.30h16.75v0.75h-16.75zM466.6 164.99h16.75v0.75h-16.75zM466.6 169.84h16.75v0.75h-16.75zM466.6 179.53h16.75v0.75h-16.75zM466.6 180.23h16.75v0.75h-16.75zM466.6 186.46h16.75v0.75h-16.75zM466.6 187.15h16.75v0.75h-16.75zM483.3 104.76h16.75v0.75h-16.75zM483.3 140.76h16.75v0.75h-16.75zM483.3 141.45h16.75v0.75h-16.75zM483.3 142.14h16.75v0.75h-16.75zM483.3 154.61h16.75v0.75h-16.75zM483.3 155.99h16.75v0.75h-16.75zM483.3 156.69h16.75v0.75h-16.75zM483.3 157.38h16.75v0.75h-16.75zM483.3 158.07h16.75v0.75h-16.75zM483.3 160.15h16.75v0.75h-16.75zM483.3 160.84h16.75v0.75h-16.75zM483.3 177.46h16.75v0.75h-16.75zM483.3 178.15h16.75v0.75h-16.75zM483.3 178.84h16.75v0.75h-16.75zM483.3 179.53h16.75v0.75h-16.75zM483.3 180.23h16.75v0.75h-16.75zM483.3 182.30h16.75v0.75h-16.75zM483.3 183.00h16.75v0.75h-16.75zM483.3 208.62h16.75v0.75h-16.75zM483.3 209.31h16.75v0.75h-16.75zM500.0 43.82h16.75v0.75h-16.75zM500.0 59.06h16.75v0.75h-16.75zM516.7 52.83h16.75v0.75h-16.75zM533.4 43.82h16.75v0.75h-16.75zM533.4 44.52h16.75v0.75h-16.75zM533.4 46.59h16.75v0.75h-16.75zM533.4 47.29h16.75v0.75h-16.75z"/>
<path fill="#7298c9" d="M449.9 63.21h16.75v0.75h-16.75zM449.9 63.90h16.75v0.75h-16.75zM449.9 65.29h16.75v0.75h-16.75zM449.9 65.98h16.75v0.75h-16.75zM449.9 66.67h16.75v0.75h-16.75zM449.9 68.75h16.75v0.75h-16.75zM449.9 69.44h16.75v0.75h-16.75zM449.9 74.29h16.75v0.75h-16.75zM449.9 76.37h16.75v0.75h-16.75zM449.9 79.83h16.75v0.75h-16.75zM449.9 80.52h16.75v0.75h-16.75zM449.9 140.07h16.75v0.75h-16.75zM449.9 140.76h16.75v0.75h-16.75zM449.9 141.45h16.75v0.75h-16.75zM449.9 146.99h16.75v0.75h-16.75zM449.9 169.84h16.75v0.75h-16.75zM449.9 170.53h16.75v0.75h-16.75zM449.9 174.00h16.75v0.75h-16.75zM449.9 174.69h16.75v0.75h-16.75zM449.9 178.15h16.75v0.75h-16.75zM449.9 178.84h16.75v0.75h-16.75zM449.9 186.46h16.75v0.75h-16.75zM449.9 187.15h16.75v0.75h-16.75zM449.9 206.54h16.75v0.75h-16.75zM449.9 208.62h16.75v0.75h-16.75zM449.9 209.31h16.75v0.75h-16.75zM466.6 64.60h16.75v0.75h-16.75zM466.6 95.75h16.75v0.75h-16.75zM466.6 106.14h16.75v0.75h-16.75zM466.6 129.68h16.75v0.75h-16.75zM466.6 146.30h16.75v0.75h-16.75zM466.6 146.99h16.75v0.75h-16.75zM466.6 149.07h16.75v0.75h-16.75zM466.6 149.76h16.75v0.75h-16.75zM466.6 165.69h16.75v0.75h-16.75zM466.6 166.38h16.75v0.75h-16.75zM466.6 168.46h16.75v0.75h-16.75zM466.6 169.15h16.75v0.75h-16.75zM466.6 176.76h16.75v0.75h-16.75zM466.6 181.61h16.75v0.75h-16.75zM466.6 185.07h16.75v0.75h-16.75zM466.6 185.77h16.75v0.75h-16.75zM466.6 187.84h16.75v0.75h-16.75zM466.6 208.62h16.75v0.75h-16.75zM466.6 209.31h16.75v0.75h-16.75zM483.3 69.44h16.75v0.75h-16.75zM483.3 70.14h16.75v0.75h-16.75zM483.3 89.52h16.75v0.75h-16.75zM483.3 90.21h16.75v0.75h-16.75zM483.3 94.37h16.75v0.75h-16.75zM483.3 122.76h16.75v0.75h-16.75zM483.3 123.45h16.75v0.75h-16.75zM483.3 126.22h16.75v0.75h-16.75zM483.3 165.69h16.75v0.75h-16.75zM483.3 186.46h16.75v0.75h-16.75zM483.3 187.15h16.75v0.75h-16.75zM483.3 207.23h16.75v0.75h-16.75zM483.3 207.92h16.75v0.75h-16.75zM500.0 40.36h16.75v0.75h-16.75zM500.0 52.83h16.75v0.75h-16.75zM516.7 47.98h16.75v0.75h-16.75zM516.7 48.67h16.75v0.75h-16.75zM533.4 41.05h16.75v0.75h-16.75zM533.4 41.75h16.75v0.75h-16.75zM533.4 45.21h16.75v0.75h-16.75zM533.4 45.90h16.75v0.75h-16.75zM533.4 59.75h16.75v0.75h-16.75z"/>
<path fill="#6a92c6" d="M449.9 67.37h16.75v0.75h-16.75zM449.9 68.06h16.75v0.75h-16.75zM449.9 81.91h16.75v0.75h-16.75zM449.9 136.61h16.75v0.75h-16.75zM449.9 137.30h16.75v0.75h-16.75zM449.9 142.14h16.75v0.75h-16.75zM449.9 142.84h16.75v0.75h-16.75zM449.9 143.53h16.75v0.75h-16.75zM449.9 144.22h16.75v0.75h-16.75zM449.9 145.61h16.75v0.75h-16.75zM449.9 154.61h16.75v0.75h-16.75zM449.9 155.30h16.75v0.75h-16.75zM449.9 155.99h16.75v0.75h-16.75zM449.9 156.69h16.75v0.75h-16.75zM449.9 162.92h16.75v0.75h-16.75zM449.9 163.61h16.75v0.75h-16.75zM449.9 171.23h16.75v0.75h-16.75zM449.9 171.92h16.75v0.75h-16.75zM449.9 176.76h16.75v0.75h-16.75zM449.9 177.46h16.75v0.75h-16.75zM449.9 185.07h16.75v0.75h-16.75zM449.9 185.77h16.75v0.75h-16.75zM449.9 190.61h16.75v0.75h-16.75zM449.9 191.31h16.75v0.75h-16.75zM449.9 194.77h16.75v0.75h-16.75zM449.9 195.46h16.75v0.75h-16.75zM449.9 197.54h16.75v0.75h-16.75zM449.9 198.23h16.75v0.75h-16.75zM449.9 202.38h16.75v0.75h-16.75zM466.6 67.37h16.75v0.75h-16.75zM466.6 68.06h16.75v0.75h-16.75zM466.6 75.67h16.75v0.75h-16.75zM466.6 76.37h16.75v0.75h-16.75zM466.6 78.44h16.75v0.75h-16.75zM466.6 79.14h16.75v0.75h-16.75zM466.6 82.60h16.75v0.75h-16.75zM466.6 83.29h16.75v0.75h-16.75zM466.6 87.45h16.75v0.75h-16.75zM466.6 88.14h16.75v0.75h-16.75zM466.6 88.83h16.75v0.75h-16.75zM466.6 97.83h16.75v0.75h-16.75zM466.6 98.52h16.75v0.75h-16.75zM466.6 101.29h16.75v0.75h-16.75zM466.6 106.83h16.75v0.75h-16.75zM466.6 174.00h16.75v0.75h-16.75zM466.6 174.69h16.75v0.75h-16.75zM466.6 175.38h16.75v0.75h-16.75zM466.6 176.07h16.75v0.75h-16.75zM466.6 178.15h16.75v0.75h-16.75zM466.6 178.84h16.75v0.75h-16.75zM466.6 194.77h16.75v0.75h-16.75zM466.6 195.46h16.75v0.75h-16.75zM466.6 203.77h16.75v0.75h-16.75zM483.3 81.21h16.75v0.75h-16.75zM483.3 81.91h16.75v0.75h-16.75zM483.3 88.14h16.75v0.75h-16.75zM483.3 88.83h16.75v0.75h-16.75zM483.3 93.68h16.75v0.75h-16.75zM483.3 96.45h16.75v0.75h-16.75zM483.3 97.14h16.75v0.75h-16.75zM483.3 97.83h16.75v0.75h-16.75zM483.3 98.52h16.75v0.75h-16.75zM483.3 99.22h16.75v0.75h-16.75zM483.3 99.91h16.75v0.75h-16.75zM483.3 100.60h16.75v0.75h-16.75zM483.3 101.29h16.75v0.75h-16.75zM483.3 103.37h16.75v0.75h-16.75zM483.3 105.45h16.75v0.75h-16.75zM483.3 134.53h16.75v0.75h-16.75zM483.3 139.38h16.75v0.75h-16.75zM483.3 142.84h16.75v0.75h-16.75zM483.3 183.69h16.75v0.75h-16.75zM483.3 184.38h16.75v0.75h-16.75zM483.3 205.85h16.75v0.75h-16.75zM483.3 206.54h16.75v0.75h-16.75zM516.7 56.98h16.75v0.75h-16.75zM533.4 48.67h16.75v0.75h-16.75zM533.4 50.75h16.75v0.75h-16.75z"/>
<path fill="#8badd4" d="M449.9 70.14h16.75v0.75h-16.75zM449.9 74.98h16.75v0.75h-16.75zM449.9 85.37h16.75v0.75h-16.75zM449.9 86.06h16.75v0.75h-16.75zM449.9 88.14h16.75v0.75h-16.75zM449.9 88.83h16.75v0.75h-16.75zM449.9 91.60h16.75v0.75h-16.75zM449.9 95.06h16.75v0.75h-16.75zM449.9 95.75h16.75v0.75h-16.75zM449.9 97.83h16.75v0.75h-16.75zM449.9 98.52h16.75v0.75h-16.75zM449.9 101.99h16.75v0.75h-16.75zM449.9 102.68h16.75v0.75h-16.75zM449.9 104.76h16.75v0.75h-16.75zM449.9 105.45h16.75v0.75h-16.75zM449.9 126.91h16.75v0.75h-16.75zM449.9 127.60h16.75v0.75h-16.75zM449.9 138.68h16.75v0.75h-16.75zM449.9 139.38h16.75v0.75h-16.75zM449.9 200.31h16.75v0.75h-16.75zM449.9 203.08h16.75v0.75h-16.75zM449.9 205.85h16.75v0.75h-16.75zM466.6 92.29h16.75v0.75h-16.75zM466.6 92.98h16.75v0.75h-16.75zM466.6 94.37h16.75v0.75h-16.75zM466.6 150.45h16.75v0.75h-16.75zM466.6 151.15h16.75v0.75h-16.75zM466.6 170.53h16.75v0.75h-16.75zM483.3 62.52h16.75v0.75h-16.75zM483.3 92.29h16.75v0.75h-16.75zM483.3 92.98h16.75v0.75h-16.75zM483.3 110.29h16.75v0.75h-16.75zM483.3 114.45h16.75v0.75h-16.75zM483.3 115.14h16.75v0.75h-16.75zM483.3 125.53h16.75v0.75h-16.75zM483.3 161.53h16.75v0.75h-16.75zM483.3 180.92h16.75v0.75h-16.75zM483.3 181.61h16.75v0.75h-16.75zM483.3 185.07h16.75v0.75h-16.75zM483.3 185.77h16.75v0.75h-16.75zM500.0 38.28h16.75v0.75h-16.75zM500.0 38.98h16.75v0.75h-16.75zM500.0 39.67h16.75v0.75h-16.75zM500.0 45.21h16.75v0.75h-16.75zM500.0 45.90h16.75v0.75h-16.75zM516.7 36.90h16.75v0.75h-16.75zM516.7 37.59h16.75v0.75h-16.75zM533.4 38.28h16.75v0.75h-16.75zM533.4 38.98h16.75v0.75h-16.75zM533.4 49.36h16.75v0.75h-16.75zM533.4 50.06h16.75v0.75h-16.75z"/>
<path fill="#9ebcdc" d="M449.9 70.83h16.75v0.75h-16.75zM449.9 83.98h16.75v0.75h-16.75zM449.9 99.91h16.75v0.75h-16.75zM449.9 101.29h16.75v0.75h-16.75zM449.9 106.14h16.75v0.75h-16.75zM449.9 131.76h16.75v0.75h-16.75zM466.6 104.76h16.75v0.75h-16.75zM466.6 105.45h16.75v0.75h-16.75zM483.3 108.91h16.75v0.75h-16.75zM483.3 109.60h16.75v0.75h-16.75zM483.3 137.30h16.75v0.75h-16.75zM483.3 137.99h16.75v0.75h-16.75zM483.3 155.30h16.75v0.75h-16.75zM483.3 171.23h16.75v0.75h-16.75zM483.3 171.92h16.75v0.75h-16.75zM483.3 187.84h16.75v0.75h-16.75zM483.3 196.84h16.75v0.75h-16.75zM500.0 52.13h16.75v0.75h-16.75zM516.7 53.52h16.75v0.75h-16.75zM516.7 113.76h16.75v0.75h-16.75zM516.7 114.45h16.75v0.75h-16.75zM516.7 115.14h16.75v0.75h-16.75zM516.7 120.68h16.75v0.75h-16.75zM516.7 121.37h16.75v0.75h-16.75zM516.7 122.07h16.75v0.75h-16.75zM516.7 124.14h16.75v0.75h-16.75zM516.7 124.83h16.75v0.75h-16.75z"/>
<path fill="#94b4d8" d="M449.9 75.67h16.75v0.75h-16.75zM449.9 89.52h16.75v0.75h-16.75zM449.9 90.21h16.75v0.75h-16.75zM449.9 92.98h16.75v0.75h-16.75zM449.9 93.68h16.75v0.75h-16.75zM449.9 94.37h16.75v0.75h-16.75zM449.9 96.45h16.75v0.75h-16.75zM449.9 97.14h16.75v0.75h-16.75zM449.9 201.00h16.75v0.75h-16.75zM449.9 203.77h16.75v0.75h-16.75zM466.6 60.44h16.75v0.75h-16.75zM466.6 61.13h16.75v0.75h-16.75zM466.6 61.83h16.75v0.75h-16.75zM466.6 62.52h16.75v0.75h-16.75zM466.6 90.91h16.75v0.75h-16.75zM466.6 91.60h16.75v0.75h-16.75zM466.6 101.99h16.75v0.75h-16.75zM466.6 103.37h16.75v0.75h-16.75zM466.6 104.06h16.75v0.75h-16.75zM466.6 120.68h16.75v0.75h-16.75zM466.6 122.76h16.75v0.75h-16.75zM466.6 123.45h16.75v0.75h-16.75zM466.6 124.14h16.75v0.75h-16.75zM466.6 124.83h16.75v0.75h-16.75zM466.6 126.22h16.75v0.75h-16.75zM466.6 128.30h16.75v0.75h-16.75zM466.6 130.37h16.75v0.75h-16.75zM466.6 131.76h16.75v0.75h-16.75zM466.6 161.53h16.75v0.75h-16.75zM466.6 163.61h16.75v0.75h-16.75zM466.6 183.69h16.75v0.75h-16.75zM466.6 200.31h16.75v0.75h-16.75zM466.6 202.38h16.75v0.75h-16.75zM483.3 61.83h16.75v0.75h-16.75zM483.3 95.75h16.75v0.75h-16.75zM483.3 107.52h16.75v0.75h-16.75zM483.3 108.22h16.75v0.75h-16.75zM483.3 110.99h16.75v0.75h-16.75zM483.3 113.06h16.75v0.75h-16.75zM483.3 113.76h16.75v0.75h-16.75zM483.3 117.22h16.75v0.75h-16.75zM483.3 117.91h16.75v0.75h-16.75zM483.3 119.99h16.75v0.75h-16.75zM483.3 120.68h16.75v0.75h-16.75zM483.3 121.37h16.75v0.75h-16.75zM483.3 122.07h16.75v0.75h-16.75zM483.3 138.68h16.75v0.75h-16.75zM483.3 158.76h16.75v0.75h-16.75zM483.3 159.45h16.75v0.75h-16.75zM483.3 162.22h16.75v0.75h-16.75zM483.3 167.76h16.75v0.75h-16.75zM483.3 176.76h16.75v0.75h-16.75zM483.3 198.92h16.75v0.75h-16.75zM483.3 199.61h16.75v0.75h-16.75zM483.3 200.31h16.75v0.75h-16.75zM483.3 201.00h16.75v0.75h-16.75zM483.3 201.69h16.75v0.75h-16.75zM483.3 202.38h16.75v0.75h-16.75zM483.3 203.08h16.75v0.75h-16.75zM500.0 36.90h16.75v0.75h-16.75zM500.0 37.59h16.75v0.75h-16.75zM516.7 56.29h16.75v0.75h-16.75zM516.7 119.99h16.75v0.75h-16.75zM533.4 36.90h16.75v0.75h-16.75zM533.4 37.59h16.75v0.75h-16.75zM533.4 39.67h16.75v0.75h-16.75z"/>
<path fill="#628bc2" d="M449.9 78.44h16.75v0.75h-16.75zM449.9 79.14h16.75v0.75h-16.75zM449.9 81.21h16.75v0.75h-16.75zM449.9 135.22h16.75v0.75h-16.75zM449.9 135.91h16.75v0.75h-16.75zM449.9 144.91h16.75v0.75h-16.75zM449.9 153.22h16.75v0.75h-16.75zM449.9 153.92h16.75v0.75h-16.75zM449.9 161.53h16.75v0.75h-16.75zM449.9 162.22h16.75v0.75h-16.75zM449.9 164.30h16.75v0.75h-16.75zM449.9 164.99h16.75v0.75h-16.75zM449.9 167.07h16.75v0.75h-16.75zM449.9 167.76h16.75v0.75h-16.75zM449.9 168.46h16.75v0.75h-16.75zM449.9 169.15h16.75v0.75h-16.75zM449.9 172.61h16.75v0.75h-16.75zM449.9 173.30h16.75v0.75h-16.75zM449.9 183.69h16.75v0.75h-16.75zM449.9 184.38h16.75v0.75h-16.75zM449.9 189.23h16.75v0.75h-16.75zM449.9 189.92h16.75v0.75h-16.75zM449.9 192.00h16.75v0.75h-16.75zM449.9 192.69h16.75v0.75h-16.75zM449.9 199.61h16.75v0.75h-16.75zM466.6 68.75h16.75v0.75h-16.75zM466.6 69.44h16.75v0.75h-16.75zM466.6 74.29h16.75v0.75h-16.75zM466.6 74.98h16.75v0.75h-16.75zM466.6 79.83h16.75v0.75h-16.75zM466.6 80.52h16.75v0.75h-16.75zM466.6 100.60h16.75v0.75h-16.75zM466.6 111.68h16.75v0.75h-16.75zM466.6 112.37h16.75v0.75h-16.75zM466.6 113.06h16.75v0.75h-16.75zM466.6 113.76h16.75v0.75h-16.75zM466.6 114.45h16.75v0.75h-16.75zM466.6 115.14h16.75v0.75h-16.75zM466.6 115.83h16.75v0.75h-16.75zM466.6 116.53h16.75v0.75h-16.75zM466.6 117.22h16.75v0.75h-16.75zM466.6 117.91h16.75v0.75h-16.75zM466.6 132.45h16.75v0.75h-16.75zM466.6 133.14h16.75v0.75h-16.75zM466.6 135.22h16.75v0.75h-16.75zM466.6 135.91h16.75v0.75h-16.75zM466.6 155.30h16.75v0.75h-16.75zM466.6 158.76h16.75v0.75h-16.75zM466.6 159.45h16.75v0.75h-16.75zM466.6 171.92h16.75v0.75h-16.75zM466.6 180.92h16.75v0.75h-16.75zM466.6 189.23h16.75v0.75h-16.75zM466.6 189.92h16.75v0.75h-16.75zM466.6 196.15h16.75v0.75h-16.75zM466.6 196.84h16.75v0.75h-16.75zM483.3 63.21h16.75v0.75h-16.75zM483.3 68.75h16.75v0.75h-16.75zM483.3 70.83h16.75v0.75h-16.75zM483.3 77.06h16.75v0.75h-16.75zM483.3 77.75h16.75v0.75h-16.75zM483.3 83.98h16.75v0.75h-16.75zM483.3 84.68h16.75v0.75h-16.75zM483.3 85.37h16.75v0.75h-16.75zM483.3 86.06h16.75v0.75h-16.75zM483.3 140.07h16.75v0.75h-16.75zM483.3 144.91h16.75v0.75h-16.75zM483.3 145.61h16.75v0.75h-16.75zM483.3 151.84h16.75v0.75h-16.75zM483.3 152.53h16.75v0.75h-16.75zM483.3 166.38h16.75v0.75h-16.75zM500.0 41.05h16.75v0.75h-16.75zM500.0 41.75h16.75v0.75h-16.75zM500.0 42.44h16.75v0.75h-16.75zM500.0 43.13h16.75v0.75h-16.75zM500.0 53.52h16.75v0.75h-16.75zM500.0 54.21h16.75v0.75h-16.75zM500.0 54.90h16.75v0.75h-16.75zM500.0 55.59h16.75v0.75h-16.75zM500.0 56.29h16.75v0.75h-16.75zM500.0 56.98h16.75v0.75h-16.75zM500.0 58.36h16.75v0.75h-16.75zM516.7 43.82h16.75v0.75h-16.75zM533.4 47.98h16.75v0.75h-16.75zM533.4 53.52h16.75v0.75h-16.75zM533.4 54.21h16.75v0.75h-16.75zM533.4 54.90h16.75v0.75h-16.75zM533.4 55.59h16.75v0.75h-16.75z"/>
<path fill="#b9d2e7" d="M449.9 82.60h16.75v0.75h-16.75zM449.9 83.29h16.75v0.75h-16.75zM449.9 86.75h16.75v0.75h-16.75zM449.9 87.45h16.75v0.75h-16.75zM449.9 110.29h16.75v0.75h-16.75zM449.9 126.22h16.75v0.75h-16.75zM466.6 89.52h16.75v0.75h-16.75zM466.6 90.21h16.75v0.75h-16.75zM466.6 121.37h16.75v0.75h-16.75zM466.6 122.07h16.75v0.75h-16.75zM466.6 201.00h16.75v0.75h-16.75zM466.6 201.69h16.75v0.75h-16.75zM483.3 115.83h16.75v0.75h-16.75zM483.3 168.46h16.75v0.75h-16.75zM483.3 169.15h16.75v0.75h-16.75zM483.3 172.61h16.75v0.75h-16.75zM483.3 173.30h16.75v0.75h-16.75zM483.3 193.38h16.75v0.75h-16.75zM500.0 47.98h16.75v0.75h-16.75zM516.7 59.75h16.75v0.75h-16.75zM516.7 97.83h16.75v0.75h-16.75zM516.7 98.52h16.75v0.75h-16.75zM516.7 103.37h16.75v0.75h-16.75zM516.7 104.06h16.75v0.75h-16.75zM516.7 104.76h16.75v0.75h-16.75zM516.7 105.45h16.75v0.75h-16.75zM516.7 107.52h16.75v0.75h-16.75zM516.7 108.22h16.75v0.75h-16.75zM516.7 122.76h16.75v0.75h-16.75zM516.7 123.45h16.75v0.75h-16.75zM516.7 125.53h16.75v0.75h-16.75z"/>
<path fill="#b0cae3" d="M449.9 92.29h16.75v0.75h-16.75zM449.9 100.60h16.75v0.75h-16.75zM449.9 103.37h16.75v0.75h-16.75zM449.9 104.06h16.75v0.75h-16.75zM449.9 106.83h16.75v0.75h-16.75zM449.9 107.52h16.75v0.75h-16.75zM449.9 108.22h16.75v0.75h-16.75zM449.9 132.45h16.75v0.75h-16.75zM449.9 133.14h16.75v0.75h-16.75zM449.9 205.15h16.75v0.75h-16.75zM466.6 126.91h16.75v0.75h-16.75zM466.6 127.60h16.75v0.75h-16.75zM483.3 116.53h16.75v0.75h-16.75zM483.3 164.30h16.75v0.75h-16.75zM483.3 164.99h16.75v0.75h-16.75zM483.3 169.84h16.75v0.75h-16.75zM483.3 170.53h16.75v0.75h-16.75zM483.3 191.31h16.75v0.75h-16.75zM516.7 106.83h16.75v0.75h-16.75z"/>
<path fill="#c2d8ea" d="M449.9 108.91h16.75v0.75h-16.75zM449.9 109.60h16.75v0.75h-16.75zM449.9 118.60h16.75v0.75h-16.75zM449.9 119.30h16.75v0.75h-16.75zM466.6 131.07h16.75v0.75h-16.75zM483.3 45.21h16.75v0.75h-16.75zM483.3 45.90h16.75v0.75h-16.75zM483.3 46.59h16.75v0.75h-16.75zM483.3 135.22h16.75v0.75h-16.75zM483.3 135.91h16.75v0.75h-16.75zM483.3 175.38h16.75v0.75h-16.75zM483.3 190.61h16.75v0.75h-16.75zM483.3 194.07h16.75v0.75h-16.75zM483.3 196.15h16.75v0.75h-16.75zM500.0 50.75h16.75v0.75h-16.75zM516.7 54.21h16.75v0.75h-16.75zM516.7 93.68h16.75v0.75h-16.75zM516.7 94.37h16.75v0.75h-16.75zM516.7 96.45h16.75v0.75h-16.75zM516.7 97.14h16.75v0.75h-16.75zM516.7 99.22h16.75v0.75h-16.75zM516.7 99.91h16.75v0.75h-16.75zM516.7 100.60h16.75v0.75h-16.75zM516.7 101.29h16.75v0.75h-16.75zM516.7 106.14h16.75v0.75h-16.75zM533.4 186.46h16.75v0.75h-16.75z"/>
<path fill="#e3eff3" d="M449.9 114.45h16.75v0.75h-16.75zM449.9 115.14h16.75v0.75h-16.75zM449.9 122.76h16.75v0.75h-16.75zM449.9 123.45h16.75v0.75h-16.75zM466.6 45.21h16.75v0.75h-16.75zM466.6 52.13h16.75v0.75h-16.75zM483.3 59.75h16.75v0.75h-16.75zM483.3 194.77h16.75v0.75h-16.75zM483.3 195.46h16.75v0.75h-16.75zM500.0 59.75h16.75v0.75h-16.75zM500.0 207.23h16.75v0.75h-16.75zM500.0 207.92h16.75v0.75h-16.75zM500.0 208.62h16.75v0.75h-16.75zM500.0 209.31h16.75v0.75h-16.75zM516.7 81.21h16.75v0.75h-16.75zM516.7 81.91h16.75v0.75h-16.75zM516.7 82.60h16.75v0.75h-16.75zM516.7 83.29h16.75v0.75h-16.75zM516.7 88.14h16.75v0.75h-16.75zM516.7 88.83h16.75v0.75h-16.75zM516.7 89.52h16.75v0.75h-16.75zM516.7 90.21h16.75v0.75h-16.75zM516.7 90.91h16.75v0.75h-16.75zM516.7 91.60h16.75v0.75h-16.75zM533.4 60.44h16.75v0.75h-16.75zM533.4 61.13h16.75v0.75h-16.75zM533.4 63.21h16.75v0.75h-16.75zM533.4 63.90h16.75v0.75h-16.75zM533.4 64.60h16.75v0.75h-16.75zM533.4 93.68h16.75v0.75h-16.75zM533.4 94.37h16.75v0.75h-16.75zM533.4 106.14h16.75v0.75h-16.75zM533.4 114.45h16.75v0.75h-16.75zM533.4 115.14h16.75v0.75h-16.75zM533.4 118.60h16.75v0.75h-16.75zM533.4 119.30h16.75v0.75h-16.75zM533.4 121.37h16.75v0.75h-16.75zM533.4 122.07h16.75v0.75h-16.75zM533.4 162.92h16.75v0.75h-16.75zM533.4 163.61h16.75v0.75h-16.75zM533.4 164.30h16.75v0.75h-16.75z"/>
<path fill="#d2e3ee" d="M449.9 115.83h16.75v0.75h-16.75zM449.9 116.53h16.75v0.75h-16.75zM449.9 117.22h16.75v0.75h-16.75zM449.9 117.91h16.75v0.75h-16.75zM449.9 121.37h16.75v0.75h-16.75zM449.9 122.07h16.75v0.75h-16.75zM449.9 125.53h16.75v0.75h-16.75zM466.6 162.92h16.75v0.75h-16.75zM483.3 43.82h16.75v0.75h-16.75zM483.3 189.23h16.75v0.75h-16.75zM483.3 189.92h16.75v0.75h-16.75zM500.0 48.67h16.75v0.75h-16.75zM516.7 54.90h16.75v0.75h-16.75zM516.7 92.29h16.75v0.75h-16.75zM516.7 95.06h16.75v0.75h-16.75zM516.7 95.75h16.75v0.75h-16.75z"/>
<path fill="#5a85bf" d="M449.9 134.53h16.75v0.75h-16.75zM449.9 149.07h16.75v0.75h-16.75zM449.9 149.76h16.75v0.75h-16.75zM449.9 150.45h16.75v0.75h-16.75zM449.9 151.15h16.75v0.75h-16.75zM449.9 175.38h16.75v0.75h-16.75zM449.9 176.07h16.75v0.75h-16.75zM449.9 179.53h16.75v0.75h-16.75zM449.9 180.23h16.75v0.75h-16.75zM466.6 83.98h16.75v0.75h-16.75zM466.6 84.68h16.75v0.75h-16.75zM466.6 86.75h16.75v0.75h-16.75zM466.6 107.52h16.75v0.75h-16.75zM466.6 108.22h16.75v0.75h-16.75zM466.6 133.84h16.75v0.75h-16.75zM466.6 134.53h16.75v0.75h-16.75zM466.6 172.61h16.75v0.75h-16.75zM466.6 173.30h16.75v0.75h-16.75zM466.6 188.54h16.75v0.75h-16.75zM466.6 198.92h16.75v0.75h-16.75zM466.6 199.61h16.75v0.75h-16.75zM483.3 63.90h16.75v0.75h-16.75zM483.3 78.44h16.75v0.75h-16.75zM483.3 79.14h16.75v0.75h-16.75zM483.3 101.99h16.75v0.75h-16.75zM483.3 102.68h16.75v0.75h-16.75zM483.3 126.91h16.75v0.75h-16.75zM483.3 127.60h16.75v0.75h-16.75zM483.3 128.30h16.75v0.75h-16.75zM483.3 128.99h16.75v0.75h-16.75zM483.3 131.07h16.75v0.75h-16.75zM483.3 131.76h16.75v0.75h-16.75zM483.3 147.68h16.75v0.75h-16.75zM483.3 148.38h16.75v0.75h-16.75zM483.3 150.45h16.75v0.75h-16.75zM483.3 151.15h16.75v0.75h-16.75zM483.3 204.46h16.75v0.75h-16.75zM483.3 205.15h16.75v0.75h-16.75zM500.0 57.67h16.75v0.75h-16.75zM516.7 46.59h16.75v0.75h-16.75zM516.7 47.29h16.75v0.75h-16.75zM516.7 49.36h16.75v0.75h-16.75zM516.7 50.06h16.75v0.75h-16.75zM516.7 50.75h16.75v0.75h-16.75zM516.7 51.44h16.75v0.75h-16.75zM516.7 52.13h16.75v0.75h-16.75zM516.7 59.06h16.75v0.75h-16.75zM533.4 42.44h16.75v0.75h-16.75zM533.4 43.13h16.75v0.75h-16.75zM533.4 51.44h16.75v0.75h-16.75zM533.4 52.13h16.75v0.75h-16.75zM533.4 52.83h16.75v0.75h-16.75z"/>
<path fill="#527ebb" d="M449.9 157.38h16.75v0.75h-16.75zM449.9 158.07h16.75v0.75h-16.75zM449.9 165.69h16.75v0.75h-16.75zM449.9 166.38h16.75v0.75h-16.75zM449.9 182.30h16.75v0.75h-16.75zM449.9 183.00h16.75v0.75h-16.75zM449.9 187.84h16.75v0.75h-16.75zM449.9 188.54h16.75v0.75h-16.75zM449.9 198.92h16.75v0.75h-16.75zM466.6 65.29h16.75v0.75h-16.75zM466.6 70.14h16.75v0.75h-16.75zM466.6 70.83h16.75v0.75h-16.75zM466.6 136.61h16.75v0.75h-16.75zM466.6 137.30h16.75v0.75h-16.75zM466.6 139.38h16.75v0.75h-16.75zM466.6 140.07h16.75v0.75h-16.75zM466.6 167.07h16.75v0.75h-16.75zM466.6 167.76h16.75v0.75h-16.75zM466.6 197.54h16.75v0.75h-16.75zM466.6 198.23h16.75v0.75h-16.75zM466.6 204.46h16.75v0.75h-16.75zM466.6 205.15h16.75v0.75h-16.75zM466.6 207.23h16.75v0.75h-16.75zM466.6 207.92h16.75v0.75h-16.75zM483.3 64.60h16.75v0.75h-16.75zM483.3 65.29h16.75v0.75h-16.75zM483.3 65.98h16.75v0.75h-16.75zM483.3 66.67h16.75v0.75h-16.75zM483.3 67.37h16.75v0.75h-16.75zM483.3 68.06h16.75v0.75h-16.75zM483.3 79.83h16.75v0.75h-16.75zM483.3 80.52h16.75v0.75h-16.75zM483.3 87.45h16.75v0.75h-16.75zM483.3 129.68h16.75v0.75h-16.75zM483.3 130.37h16.75v0.75h-16.75zM483.3 132.45h16.75v0.75h-16.75zM483.3 133.14h16.75v0.75h-16.75zM483.3 146.30h16.75v0.75h-16.75zM483.3 146.99h16.75v0.75h-16.75zM483.3 149.07h16.75v0.75h-16.75zM483.3 149.76h16.75v0.75h-16.75zM483.3 153.22h16.75v0.75h-16.75zM483.3 153.92h16.75v0.75h-16.75zM516.7 44.52h16.75v0.75h-16.75zM516.7 45.21h16.75v0.75h-16.75zM516.7 45.90h16.75v0.75h-16.75zM516.7 57.67h16.75v0.75h-16.75zM516.7 58.36h16.75v0.75h-16.75zM533.4 56.29h16.75v0.75h-16.75zM533.4 56.98h16.75v0.75h-16.75z"/>
<path fill="#4a78b8" d="M449.9 180.92h16.75v0.75h-16.75zM449.9 181.61h16.75v0.75h-16.75zM449.9 193.38h16.75v0.75h-16.75zM449.9 194.07h16.75v0.75h-16.75zM466.6 65.98h16.75v0.75h-16.75zM466.6 66.67h16.75v0.75h-16.75zM466.6 71.52h16.75v0.75h-16.75zM466.6 72.21h16.75v0.75h-16.75zM466.6 72.90h16.75v0.75h-16.75zM466.6 73.60h16.75v0.75h-16.75zM466.6 81.21h16.75v0.75h-16.75zM466.6 81.91h16.75v0.75h-16.75zM466.6 85.37h16.75v0.75h-16.75zM466.6 86.06h16.75v0.75h-16.75zM466.6 137.99h16.75v0.75h-16.75zM466.6 138.68h16.75v0.75h-16.75zM466.6 140.76h16.75v0.75h-16.75zM466.6 141.45h16.75v0.75h-16.75zM466.6 142.14h16.75v0.75h-16.75zM466.6 142.84h16.75v0.75h-16.75zM466.6 143.53h16.75v0.75h-16.75zM466.6 144.22h16.75v0.75h-16.75zM466.6 144.91h16.75v0.75h-16.75zM466.6 145.61h16.75v0.75h-16.75zM466.6 155.99h16.75v0.75h-16.75zM466.6 156.69h16.75v0.75h-16.75zM466.6 157.38h16.75v0.75h-16.75zM466.6 158.07h16.75v0.75h-16.75zM466.6 160.15h16.75v0.75h-16.75zM466.6 160.84h16.75v0.75h-16.75zM466.6 190.61h16.75v0.75h-16.75zM466.6 191.31h16.75v0.75h-16.75zM466.6 192.00h16.75v0.75h-16.75zM466.6 192.69h16.75v0.75h-16.75zM466.6 193.38h16.75v0.75h-16.75zM466.6 194.07h16.75v0.75h-16.75zM466.6 205.85h16.75v0.75h-16.75zM466.6 206.54h16.75v0.75h-16.75zM483.3 71.52h16.75v0.75h-16.75zM483.3 72.21h16.75v0.75h-16.75zM483.3 72.90h16.75v0.75h-16.75zM483.3 73.60h16.75v0.75h-16.75zM483.3 74.29h16.75v0.75h-16.75zM483.3 74.98h16.75v0.75h-16.75zM483.3 75.67h16.75v0.75h-16.75zM483.3 76.37h16.75v0.75h-16.75zM483.3 82.60h16.75v0.75h-16.75zM483.3 83.29h16.75v0.75h-16.75zM483.3 86.75h16.75v0.75h-16.75zM483.3 133.84h16.75v0.75h-16.75zM483.3 143.53h16.75v0.75h-16.75zM483.3 144.22h16.75v0.75h-16.75zM533.4 57.67h16.75v0.75h-16.75zM533.4 58.36h16.75v0.75h-16.75zM533.4 59.06h16.75v0.75h-16.75z"/>
<path fill="#f39d66" d="M466.6 38.98h16.75v0.75h-16.75zM483.3 39.67h16.75v0.75h-16.75zM483.3 40.36h16.75v0.75h-16.75zM500.0 68.75h16.75v0.75h-16.75zM500.0 69.44h16.75v0.75h-16.75zM500.0 137.99h16.75v0.75h-16.75zM500.0 138.68h16.75v0.75h-16.75zM500.0 142.14h16.75v0.75h-16.75zM500.0 142.84h16.75v0.75h-16.75zM500.0 144.91h16.75v0.75h-16.75zM500.0 145.61h16.75v0.75h-16.75zM500.0 160.84h16.75v0.75h-16.75zM500.0 162.92h16.75v0.75h-16.75zM500.0 192.69h16.75v0.75h-16.75zM500.0 193.38h16.75v0.75h-16.75zM500.0 194.07h16.75v0.75h-16.75zM500.0 196.15h16.75v0.75h-16.75zM516.7 162.92h16.75v0.75h-16.75zM516.7 163.61h16.75v0.75h-16.75zM533.4 196.84h16.75v0.75h-16.75z"/>
<path fill="#f4ab70" d="M466.6 39.67h16.75v0.75h-16.75zM466.6 40.36h16.75v0.75h-16.75zM466.6 59.06h16.75v0.75h-16.75zM483.3 41.05h16.75v0.75h-16.75zM483.3 41.75h16.75v0.75h-16.75zM483.3 51.44h16.75v0.75h-16.75zM500.0 68.06h16.75v0.75h-16.75zM500.0 76.37h16.75v0.75h-16.75zM500.0 133.84h16.75v0.75h-16.75zM500.0 139.38h16.75v0.75h-16.75zM500.0 140.07h16.75v0.75h-16.75zM500.0 146.30h16.75v0.75h-16.75zM500.0 146.99h16.75v0.75h-16.75zM500.0 160.15h16.75v0.75h-16.75zM500.0 161.53h16.75v0.75h-16.75zM500.0 162.22h16.75v0.75h-16.75zM500.0 189.23h16.75v0.75h-16.75zM500.0 189.92h16.75v0.75h-16.75zM500.0 194.77h16.75v0.75h-16.75zM500.0 195.46h16.75v0.75h-16.75zM516.7 169.84h16.75v0.75h-16.75zM516.7 170.53h16.75v0.75h-16.75zM516.7 171.23h16.75v0.75h-16.75zM516.7 171.92h16.75v0.75h-16.75zM516.7 174.00h16.75v0.75h-16.75zM516.7 204.46h16.75v0.75h-16.75zM516.7 205.15h16.75v0.75h-16.75zM533.4 194.77h16.75v0.75h-16.75zM533.4 195.46h16.75v0.75h-16.75z"/>
<path fill="#fce3b4" d="M466.6 43.13h16.75v0.75h-16.75zM483.3 55.59h16.75v0.75h-16.75zM500.0 133.14h16.75v0.75h-16.75zM500.0 172.61h16.75v0.75h-16.75zM500.0 173.30h16.75v0.75h-16.75zM500.0 197.54h16.75v0.75h-16.75zM500.0 198.23h16.75v0.75h-16.75zM516.7 65.29h16.75v0.75h-16.75zM516.7 67.37h16.75v0.75h-16.75zM516.7 68.06h16.75v0.75h-16.75zM516.7 135.22h16.75v0.75h-16.75zM516.7 135.91h16.75v0.75h-16.75zM516.7 136.61h16.75v0.75h-16.75zM516.7 137.30h16.75v0.75h-16.75zM516.7 140.76h16.75v0.75h-16.75zM516.7 141.45h16.75v0.75h-16.75zM516.7 142.14h16.75v0.75h-16.75zM516.7 142.84h16.75v0.75h-16.75zM516.7 143.53h16.75v0.75h-16.75zM516.7 153.22h16.75v0.75h-16.75zM516.7 153.92h16.75v0.75h-16.75zM533.4 68.75h16.75v0.75h-16.75zM533.4 69.44h16.75v0.75h-16.75zM533.4 70.14h16.75v0.75h-16.75zM533.4 70.83h16.75v0.75h-16.75zM533.4 86.75h16.75v0.75h-16.75zM533.4 87.45h16.75v0.75h-16.75zM533.4 126.91h16.75v0.75h-16.75zM533.4 127.60h16.75v0.75h-16.75zM533.4 129.68h16.75v0.75h-16.75zM533.4 130.37h16.75v0.75h-16.75zM533.4 155.99h16.75v0.75h-16.75zM533.4 156.69h16.75v0.75h-16.75zM533.4 169.84h16.75v0.75h-16.75zM533.4 170.53h16.75v0.75h-16.75zM533.4 171.92h16.75v0.75h-16.75z"/>
<path fill="#f6f7ed" d="M466.6 44.52h16.75v0.75h-16.75zM483.3 36.90h16.75v0.75h-16.75zM483.3 37.59h16.75v0.75h-16.75zM483.3 43.13h16.75v0.75h-16.75zM516.7 73.60h16.75v0.75h-16.75zM516.7 75.67h16.75v0.75h-16.75zM516.7 76.37h16.75v0.75h-16.75zM516.7 194.77h16.75v0.75h-16.75zM516.7 195.46h16.75v0.75h-16.75zM533.4 65.29h16.75v0.75h-16.75zM533.4 92.98h16.75v0.75h-16.75zM533.4 95.06h16.75v0.75h-16.75zM533.4 95.75h16.75v0.75h-16.75zM533.4 106.83h16.75v0.75h-16.75zM533.4 125.53h16.75v0.75h-16.75zM533.4 161.53h16.75v0.75h-16.75zM533.4 162.22h16.75v0.75h-16.75zM533.4 164.99h16.75v0.75h-16.75z"/>
<path fill="#ea7348" d="M483.3 52.13h16.75v0.75h-16.75zM500.0 64.60h16.75v0.75h-16.75zM500.0 65.29h16.75v0.75h-16.75zM500.0 77.75h16.75v0.75h-16.75zM500.0 79.83h16.75v0.75h-16.75zM500.0 80.52h16.75v0.75h-16.75zM500.0 126.22h16.75v0.75h-16.75zM500.0 190.61h16.75v0.75h-16.75zM516.7 164.99h16.75v0.75h-16.75zM516.7 181.61h16.75v0.75h-16.75zM516.7 182.30h16.75v0.75h-16.75zM516.7 183.00h16.75v0.75h-16.75zM533.4 200.31h16.75v0.75h-16.75zM533.4 201.00h16.75v0.75h-16.75zM533.4 203.77h16.75v0.75h-16.75zM533.4 207.92h16.75v0.75h-16.75z"/>
<path fill="#e15439" d="M483.3 52.83h16.75v0.75h-16.75zM500.0 104.76h16.75v0.75h-16.75zM500.0 105.45h16.75v0.75h-16.75zM500.0 111.68h16.75v0.75h-16.75zM500.0 112.37h16.75v0.75h-16.75zM500.0 115.83h16.75v0.75h-16.75zM500.0 116.53h16.75v0.75h-16.75zM500.0 118.60h16.75v0.75h-16.75zM500.0 119.30h16.75v0.75h-16.75zM500.0 191.31h16.75v0.75h-16.75zM516.7 164.30h16.75v0.75h-16.75zM516.7 184.38h16.75v0.75h-16.75zM516.7 185.07h16.75v0.75h-16.75zM516.7 185.77h16.75v0.75h-16.75zM533.4 198.92h16.75v0.75h-16.75zM533.4 199.61h16.75v0.75h-16.75zM533.4 203.08h16.75v0.75h-16.75z"/>
<path fill="#f1905b" d="M500.0 60.44h16.75v0.75h-16.75zM500.0 61.13h16.75v0.75h-16.75zM500.0 67.37h16.75v0.75h-16.75zM500.0 70.14h16.75v0.75h-16.75zM500.0 70.83h16.75v0.75h-16.75zM500.0 81.21h16.75v0.75h-16.75zM500.0 134.53h16.75v0.75h-16.75zM500.0 140.76h16.75v0.75h-16.75zM500.0 141.45h16.75v0.75h-16.75zM516.7 174.69h16.75v0.75h-16.75zM533.4 187.84h16.75v0.75h-16.75zM533.4 188.54h16.75v0.75h-16.75zM533.4 190.61h16.75v0.75h-16.75zM533.4 191.31h16.75v0.75h-16.75zM533.4 193.38h16.75v0.75h-16.75zM533.4 194.07h16.75v0.75h-16.75zM533.4 204.46h16.75v0.75h-16.75zM533.4 205.15h16.75v0.75h-16.75z"/>
<path fill="#ef8350" d="M500.0 61.83h16.75v0.75h-16.75zM500.0 62.52h16.75v0.75h-16.75zM500.0 63.21h16.75v0.75h-16.75zM500.0 63.90h16.75v0.75h-16.75zM500.0 65.98h16.75v0.75h-16.75zM500.0 66.67h16.75v0.75h-16.75zM500.0 77.06h16.75v0.75h-16.75zM500.0 78.44h16.75v0.75h-16.75zM500.0 79.14h16.75v0.75h-16.75zM500.0 81.91h16.75v0.75h-16.75zM500.0 135.22h16.75v0.75h-16.75zM500.0 135.91h16.75v0.75h-16.75zM500.0 192.00h16.75v0.75h-16.75zM516.7 161.53h16.75v0.75h-16.75zM516.7 162.22h16.75v0.75h-16.75zM516.7 175.38h16.75v0.75h-16.75zM516.7 176.07h16.75v0.75h-16.75zM516.7 178.15h16.75v0.75h-16.75zM516.7 178.84h16.75v0.75h-16.75zM516.7 179.53h16.75v0.75h-16.75zM516.7 180.23h16.75v0.75h-16.75zM516.7 180.92h16.75v0.75h-16.75zM516.7 187.84h16.75v0.75h-16.75zM533.4 207.23h16.75v0.75h-16.75z"/>
<path fill="#dc4532" d="M500.0 83.98h16.75v0.75h-16.75zM500.0 84.68h16.75v0.75h-16.75zM500.0 85.37h16.75v0.75h-16.75zM500.0 86.06h16.75v0.75h-16.75zM500.0 92.29h16.75v0.75h-16.75zM500.0 92.98h16.75v0.75h-16.75zM500.0 100.60h16.75v0.75h-16.75zM500.0 101.29h16.75v0.75h-16.75zM500.0 103.37h16.75v0.75h-16.75zM500.0 104.06h16.75v0.75h-16.75zM500.0 110.29h16.75v0.75h-16.75zM500.0 110.99h16.75v0.75h-16.75zM516.7 186.46h16.75v0.75h-16.75zM516.7 187.15h16.75v0.75h-16.75z"/>
</g>
<path fill="none" stroke="#3a3a3a" stroke-width="0.3" d="M448.4 37.3L449.6 37.3M448.4 38.1L449.6 38.1M448.4 37.3L448.4 38.1M448.2 38.9L449.6 38.9M448.2 39.7L449.6 39.7M448.2 38.9L448.2 39.7M447.8 37.7L448.4 37.7M447.8 39.3L448.2 39.3M447.8 37.7L447.8 39.3M441.9 38.5L447.8 38.5M441.9 40.5L449.6 40.5M441.9 38.5L441.9 40.5M448.7 42.1L449.6 42.1M448.7 42.9L449.6 42.9M448.7 42.1L448.7 42.9M448.2 41.3L449.6 41.3M448.2 42.5L448.7 42.5M448.2 41.3L448.2 42.5M446.8 41.9L448.2 41.9M446.8 43.7L449.6 43.7M446.8 41.9L446.8 43.7M445.9 42.8L446.8 42.8M445.9 44.5L449.6 44.5M445.9 42.8L445.9 44.5M439.6 39.5L441.9 39.5M439.6 43.7L445.9 43.7M439.6 39.5L439.6 43.7M448.8 45.4L449.6 45.4M448.8 46.2L449.6 46.2M448.8 45.4L448.8 46.2M447.7 45.8L448.8 45.8M447.7 47.0L449.6 47.0M447.7 45.8L447.7 47.0M447.1 46.4L447.7 46.4M447.1 47.8L449.6 47.8M447.1 46.4L447.1 47.8M448.8 48.6L449.6 48.6M448.8 49.4L449.6 49.4M448.8 48.6L448.8 49.4M448.7 49.0L448.8 49.0M448.7 50.2L449.6 50.2M448.7 49.0L448.7 50.2M448.5 49.6L448.7 49.6M448.5 51.0L449.6 51.0M448.5 49.6L448.5 51.0M448.4 50.3L448.5 50.3M448.4 51.8L449.6 51.8M448.4 50.3L448.4 51.8M444.1 47.1L447.1 47.1M444.1 51.0L448.4 51.0M444.1 47.1L444.1 51.0M448.5 55.0L449.6 55.0M448.5 55.8L449.6 55.8M448.5 55.0L448.5 55.8M448.4 54.2L449.6 54.2M448.4 55.4L448.5 55.4M448.4 54.2L448.4 55.4M447.1 53.4L449.6 53.4M447.1 54.8L448.4 54.8M447.1 53.4L447.1 54.8M446.4 52.6L449.6 52.6M446.4 54.1L447.1 54.1M446.4 52.6L446.4 54.1M448.5 56.6L449.6 56.6M448.5 57.4L449.6 57.4M448.5 56.6L448.5 57.4M448.2 58.2L449.6 58.2M448.2 59.0L449.6 59.0M448.2 58.2L448.2 59.0M447.3 58.6L448.2 58.6M447.3 59.8L449.6 59.8M447.3 58.6L447.3 59.8M446.1 57.0L448.5 57.0M446.1 59.2L447.3 59.2M446.1 57.0L446.1 59.2M440.1 53.4L446.4 53.4M440.1 58.1L446.1 58.1M440.1 53.4L440.1 58.1M438.6 49.1L444.1 49.1M438.6 55.7L440.1 55.7M438.6 49.1L438.6 55.7M436.1 41.6L439.6 41.6M436.1 52.4L438.6 52.4M436.1 41.6L436.1 52.4M448.3 61.5L449.6 61.5M448.3 62.3L449.6 62.3M448.3 61.5L448.3 62.3M447.6 60.7L449.6 60.7M447.6 61.9L448.3 61.9M447.6 60.7L447.6 61.9M444.5 61.3L447.6 61.3M444.5 63.1L449.6 63.1M444.5 61.3L444.5 63.1M448.1 63.9L449.6 63.9M448.1 64.7L449.6 64.7M448.1 63.9L448.1 64.7M447.3 64.3L448.1 64.3M447.3 65.5L449.6 65.5M447.3 64.3L447.3 65.5M444.0 62.2L444.5 62.2M444.0 64.9L447.3 64.9M444.0 62.2L444.0 64.9M448.8 67.9L449.6 67.9M448.8 68.7L449.6 68.7M448.8 67.9L448.8 68.7M448.4 67.1L449.6 67.1M448.4 68.3L448.8 68.3M448.4 67.1L448.4 68.3M447.6 66.3L449.6 66.3M447.6 67.7L448.4 67.7M447.6 66.3L447.6 67.7M447.9 70.3L449.6 70.3M447.9 71.1L449.6 71.1M447.9 70.3L447.9 71.1M447.4 70.7L447.9 70.7M447.4 71.9L449.6 71.9M447.4 70.7L447.4 71.9M445.7 69.5L449.6 69.5M445.7 71.3L447.4 71.3M445.7 69.5L445.7 71.3M443.0 67.0L447.6 67.0M443.0 70.4L445.7 70.4M443.0 67.0L443.0 70.4M442.6 63.5L444.0 63.5M442.6 68.7L443.0 68.7M442.6 63.5L442.6 68.7M448.3 72.7L449.6 72.7M448.3 73.5L449.6 73.5M448.3 72.7L448.3 73.5M448.9 75.9L449.6 75.9M448.9 76.8L449.6 76.8M448.9 75.9L448.9 76.8M448.4 75.1L449.6 75.1M448.4 76.4L448.9 76.4M448.4 75.1L448.4 76.4M448.0 77.6L449.6 77.6M448.0 78.4L449.6 78.4M448.0 77.6L448.0 78.4M447.6 75.7L448.4 75.7M447.6 78.0L448.0 78.0M447.6 75.7L447.6 78.0M446.8 74.3L449.6 74.3M446.8 76.9L447.6 76.9M446.8 74.3L446.8 76.9M446.4 79.2L449.6 79.2M446.4 80.0L449.6 80.0M446.4 79.2L446.4 80.0M445.7 75.6L446.8 75.6M445.7 79.6L446.4 79.6M445.7 75.6L445.7 79.6M440.4 73.1L448.3 73.1M440.4 77.6L445.7 77.6M440.4 73.1L440.4 77.6M448.6 81.6L449.6 81.6M448.6 82.4L449.6 82.4M448.6 81.6L448.6 82.4M448.6 80.8L449.6 80.8M448.6 82.0L448.6 82.0M448.6 80.8L448.6 82.0M448.3 83.2L449.6 83.2M448.3 84.0L449.6 84.0M448.3 83.2L448.3 84.0M448.1 81.4L448.6 81.4M448.1 83.6L448.3 83.6M448.1 81.4L448.1 83.6M447.4 84.8L449.6 84.8M447.4 85.6L449.6 85.6M447.4 84.8L447.4 85.6M446.9 85.2L447.4 85.2M446.9 86.4L449.6 86.4M446.9 85.2L446.9 86.4M444.8 82.5L448.1 82.5M444.8 85.8L446.9 85.8M444.8 82.5L444.8 85.8M440.4 84.2L444.8 84.2M440.4 87.2L449.6 87.2M440.4 84.2L440.4 87.2M439.6 75.4L440.4 75.4M439.6 85.7L440.4 85.7M439.6 75.4L439.6 85.7M448.6 88.8L449.6 88.8M448.6 89.6L449.6 89.6M448.6 88.8L448.6 89.6M447.4 88.0L449.6 88.0M447.4 89.2L448.6 89.2M447.4 88.0L447.4 89.2M448.9 90.4L449.6 90.4M448.9 91.2L449.6 91.2M448.9 90.4L448.9 91.2M446.0 88.6L447.4 88.6M446.0 90.8L448.9 90.8M446.0 88.6L446.0 90.8M445.5 89.7L446.0 89.7M445.5 92.1L449.6 92.1M445.5 89.7L445.5 92.1M448.7 93.7L449.6 93.7M448.7 94.5L449.6 94.5M448.7 93.7L448.7 94.5M448.3 94.1L448.7 94.1M448.3 95.3L449.6 95.3M448.3 94.1L448.3 95.3M448.7 96.1L449.6 96.1M448.7 96.9L449.6 96.9M448.7 96.1L448.7 96.9M447.6 97.7L449.6 97.7M447.6 98.5L449.6 98.5M447.6 97.7L447.6 98.5M447.6 96.5L448.7 96.5M447.6 98.1L447.6 98.1M447.6 96.5L447.6 98.1M446.4 94.7L448.3 94.7M446.4 97.3L447.6 97.3M446.4 94.7L446.4 97.3M445.4 92.9L449.6 92.9M445.4 96.0L446.4 96.0M445.4 92.9L445.4 96.0M445.2 90.9L445.5 90.9M445.2 94.4L445.4 94.4M445.2 90.9L445.2 94.4M442.7 92.7L445.2 92.7M442.7 99.3L449.6 99.3M442.7 92.7L442.7 99.3M448.2 100.9L449.6 100.9M448.2 101.7L449.6 101.7M448.2 100.9L448.2 101.7M447.8 102.5L449.6 102.5M447.8 103.3L449.6 103.3M447.8 102.5L447.8 103.3M445.8 101.3L448.2 101.3M445.8 102.9L447.8 102.9M445.8 101.3L445.8 102.9M445.0 100.1L449.6 100.1M445.0 102.1L445.8 102.1M445.0 100.1L445.0 102.1M448.7 104.1L449.6 104.1M448.7 104.9L449.6 104.9M448.7 104.1L448.7 104.9M448.4 105.7L449.6 105.7M448.4 106.5L449.6 106.5M448.4 105.7L448.4 106.5M448.6 108.2L449.6 108.2M448.6 109.0L449.6 109.0M448.6 108.2L448.6 109.0M447.4 107.3L449.6 107.3M447.4 108.6L448.6 108.6M447.4 107.3L447.4 108.6M447.3 106.1L448.4 106.1M447.3 108.0L447.4 108.0M447.3 106.1L447.3 108.0M445.4 104.5L448.7 104.5M445.4 107.0L447.3 107.0M445.4 104.5L445.4 107.0M448.2 109.8L449.6 109.8M448.2 110.6L449.6 110.6M448.2 109.8L448.2 110.6M445.3 105.8L445.4 105.8M445.3 110.2L448.2 110.2M445.3 105.8L445.3 110.2M443.9 101.1L445.0 101.1M443.9 108.0L445.3 108.0M443.9 101.1L443.9 108.0M439.1 96.0L442.7 96.0M439.1 104.5L443.9 104.5M439.1 96.0L439.1 104.5M448.7 111.4L449.6 111.4M448.7 112.2L449.6 112.2M448.7 111.4L448.7 112.2M448.2 111.8L448.7 111.8M448.2 113.0L449.6 113.0M448.2 111.8L448.2 113.0M447.6 112.4L448.2 112.4M447.6 113.8L449.6 113.8M447.6 112.4L447.6 113.8M448.0 114.6L449.6 114.6M448.0 115.4L449.6 115.4M448.0 114.6L448.0 115.4M448.7 116.2L449.6 116.2M448.7 117.0L449.6 117.0M448.7 116.2L448.7 117.0M447.9 116.6L448.7 116.6M447.9 117.8L449.6 117.8M447.9 116.6L447.9 117.8M446.6 115.0L448.0 115.0M446.6 117.2L447.9 117.2M446.6 115.0L446.6 117.2M446.4 113.1L447.6 113.1M446.4 116.1L446.6 116.1M446.4 113.1L446.4 116.1M448.9 121.0L449.6 121.0M448.9 121.8L449.6 121.8M448.9 121.0L448.9 121.8M448.0 121.4L448.9 121.4M448.0 122.6L449.6 122.6M448.0 121.4L448.0 122.6M446.8 120.2L449.6 120.2M446.8 122.0L448.0 122.0M446.8 120.2L446.8 122.0M448.4 123.4L449.6 123.4M448.4 124.3L449.6 124.3M448.4 123.4L448.4 124.3M448.9 125.9L449.6 125.9M448.9 126.7L449.6 126.7M448.9 125.9L448.9 126.7M447.7 125.1L449.6 125.1M447.7 126.3L448.9 126.3M447.7 125.1L447.7 126.3M447.2 123.9L448.4 123.9M447.2 125.7L447.7 125.7M447.2 123.9L447.2 125.7M446.4 121.1L446.8 121.1M446.4 124.8L447.2 124.8M446.4 121.1L446.4 124.8M445.4 119.4L449.6 119.4M445.4 122.9L446.4 122.9M445.4 119.4L445.4 122.9M442.1 118.6L449.6 118.6M442.1 121.2L445.4 121.2M442.1 118.6L442.1 121.2M440.1 114.6L446.4 114.6M440.1 119.9L442.1 119.9M440.1 114.6L440.1 119.9M437.6 100.3L439.1 100.3M437.6 117.2L440.1 117.2M437.6 100.3L437.6 117.2M437.1 80.5L439.6 80.5M437.1 108.8L437.6 108.8M437.1 80.5L437.1 108.8M435.6 66.1L442.6 66.1M435.6 94.6L437.1 94.6M435.6 66.1L435.6 94.6M448.4 128.3L449.6 128.3M448.4 129.1L449.6 129.1M448.4 128.3L448.4 129.1M448.2 129.9L449.6 129.9M448.2 130.7L449.6 130.7M448.2 129.9L448.2 130.7M448.0 130.3L448.2 130.3M448.0 131.5L449.6 131.5M448.0 130.3L448.0 131.5M448.2 132.3L449.6 132.3M448.2 133.1L449.6 133.1M448.2 132.3L448.2 133.1M448.1 132.7L448.2 132.7M448.1 133.9L449.6 133.9M448.1 132.7L448.1 133.9M447.9 133.3L448.1 133.3M447.9 134.7L449.6 134.7M447.9 133.3L447.9 134.7M447.3 130.9L448.0 130.9M447.3 134.0L447.9 134.0M447.3 130.9L447.3 134.0M447.0 128.7L448.4 128.7M447.0 132.5L447.3 132.5M447.0 128.7L447.0 132.5M448.5 136.3L449.6 136.3M448.5 137.1L449.6 137.1M448.5 136.3L448.5 137.1M448.3 135.5L449.6 135.5M448.3 136.7L448.5 136.7M448.3 135.5L448.3 136.7M446.7 130.6L447.0 130.6M446.7 136.1L448.3 136.1M446.7 130.6L446.7 136.1M448.1 137.9L449.6 137.9M448.1 138.7L449.6 138.7M448.1 137.9L448.1 138.7M446.3 133.4L446.7 133.4M446.3 138.3L448.1 138.3M446.3 133.4L446.3 138.3M445.7 127.5L449.6 127.5M445.7 135.8L446.3 135.8M445.7 127.5L445.7 135.8M443.1 131.7L445.7 131.7M443.1 139.6L449.6 139.6M443.1 131.7L443.1 139.6M448.1 141.2L449.6 141.2M448.1 142.0L449.6 142.0M448.1 141.2L448.1 142.0M446.3 140.4L449.6 140.4M446.3 141.6L448.1 141.6M446.3 140.4L446.3 141.6M448.7 142.8L449.6 142.8M448.7 143.6L449.6 143.6M448.7 142.8L448.7 143.6M448.7 144.4L449.6 144.4M448.7 145.2L449.6 145.2M448.7 144.4L448.7 145.2M448.6 143.2L448.7 143.2M448.6 144.8L448.7 144.8M448.6 143.2L448.6 144.8M446.6 144.0L448.6 144.0M446.6 146.0L449.6 146.0M446.6 144.0L446.6 146.0M448.5 146.8L449.6 146.8M448.5 147.6L449.6 147.6M448.5 146.8L448.5 147.6M447.9 147.2L448.5 147.2M447.9 148.4L449.6 148.4M447.9 147.2L447.9 148.4M446.4 145.0L446.6 145.0M446.4 147.8L447.9 147.8M446.4 145.0L446.4 147.8M445.4 141.0L446.3 141.0M445.4 146.4L446.4 146.4M445.4 141.0L445.4 146.4M445.3 143.7L445.4 143.7M445.3 149.2L449.6 149.2M445.3 143.7L445.3 149.2M448.7 150.0L449.6 150.0M448.7 150.8L449.6 150.8M448.7 150.0L448.7 150.8M448.6 152.4L449.6 152.4M448.6 153.2L449.6 153.2M448.6 152.4L448.6 153.2M448.6 151.6L449.6 151.6M448.6 152.8L448.6 152.8M448.6 151.6L448.6 152.8M448.4 150.4L448.7 150.4M448.4 152.2L448.6 152.2M448.4 150.4L448.4 152.2M448.7 154.0L449.6 154.0M448.7 154.8L449.6 154.8M448.7 154.0L448.7 154.8M447.9 151.3L448.4 151.3M447.9 154.4L448.7 154.4M447.9 151.3L447.9 154.4M447.8 155.7L449.6 155.7M447.8 156.5L449.6 156.5M447.8 155.7L447.8 156.5M447.5 156.1L447.8 156.1M447.5 157.3L449.6 157.3M447.5 156.1L447.5 157.3M446.8 156.7L447.5 156.7M446.8 158.1L449.6 158.1M446.8 156.7L446.8 158.1M446.0 157.4L446.8 157.4M446.0 158.9L449.6 158.9M446.0 157.4L446.0 158.9M447.9 159.7L449.6 159.7M447.9 160.5L449.6 160.5M447.9 159.7L447.9 160.5M445.5 158.1L446.0 158.1M445.5 160.1L447.9 160.1M445.5 158.1L445.5 160.1M443.8 152.9L447.9 152.9M443.8 159.1L445.5 159.1M443.8 152.9L443.8 159.1M439.6 146.4L445.3 146.4M439.6 156.0L443.8 156.0M439.6 146.4L439.6 156.0M437.6 135.6L443.1 135.6M437.6 151.2L439.6 151.2M437.6 135.6L437.6 151.2M448.9 162.1L449.6 162.1M448.9 162.9L449.6 162.9M448.9 162.1L448.9 162.9M447.9 162.5L448.9 162.5M447.9 163.7L449.6 163.7M447.9 162.5L447.9 163.7M447.8 161.3L449.6 161.3M447.8 163.1L447.9 163.1M447.8 161.3L447.8 163.1M446.5 162.2L447.8 162.2M446.5 164.5L449.6 164.5M446.5 162.2L446.5 164.5M448.9 167.7L449.6 167.7M448.9 168.5L449.6 168.5M448.9 167.7L448.9 168.5M448.1 168.1L448.9 168.1M448.1 169.3L449.6 169.3M448.1 168.1L448.1 169.3M448.1 168.7L448.1 168.7M448.1 170.1L449.6 170.1M448.1 168.7L448.1 170.1M447.0 166.9L449.6 166.9M447.0 169.4L448.1 169.4M447.0 166.9L447.0 169.4M448.7 171.0L449.6 171.0M448.7 171.8L449.6 171.8M448.7 171.0L448.7 171.8M446.8 168.2L447.0 168.2M446.8 171.4L448.7 171.4M446.8 168.2L446.8 171.4M446.7 166.1L449.6 166.1M446.7 169.8L446.8 169.8M446.7 166.1L446.7 169.8M445.8 165.3L449.6 165.3M445.8 167.9L446.7 167.9M445.8 165.3L445.8 167.9M440.9 163.4L446.5 163.4M440.9 166.6L445.8 166.6M440.9 163.4L440.9 166.6M447.5 172.6L449.6 172.6M447.5 173.4L449.6 173.4M447.5 172.6L447.5 173.4M445.8 173.0L447.5 173.0M445.8 174.2L449.6 174.2M445.8 173.0L445.8 174.2M448.6 175.8L449.6 175.8M448.6 176.6L449.6 176.6M448.6 175.8L448.6 176.6M447.0 175.0L449.6 175.0M447.0 176.2L448.6 176.2M447.0 175.0L447.0 176.2M446.0 175.6L447.0 175.6M446.0 177.4L449.6 177.4M446.0 175.6L446.0 177.4M445.4 173.6L445.8 173.6M445.4 176.5L446.0 176.5M445.4 173.6L445.4 176.5M448.0 179.0L449.6 179.0M448.0 179.8L449.6 179.8M448.0 179.0L448.0 179.8M447.3 178.2L449.6 178.2M447.3 179.4L448.0 179.4M447.3 178.2L447.3 179.4M444.2 175.0L445.4 175.0M444.2 178.8L447.3 178.8M444.2 175.0L444.2 178.8M448.6 180.6L449.6 180.6M448.6 181.4L449.6 181.4M448.6 180.6L448.6 181.4M446.4 181.0L448.6 181.0M446.4 182.2L449.6 182.2M446.4 181.0L446.4 182.2M447.4 183.0L449.6 183.0M447.4 183.8L449.6 183.8M447.4 183.0L447.4 183.8M446.4 183.4L447.4 183.4M446.4 184.6L449.6 184.6M446.4 183.4L446.4 184.6M448.5 185.4L449.6 185.4M448.5 186.2L449.6 186.2M448.5 185.4L448.5 186.2M445.3 184.0L446.4 184.0M445.3 185.8L448.5 185.8M445.3 184.0L445.3 185.8M446.9 187.1L449.6 187.1M446.9 187.9L449.6 187.9M446.9 187.1L446.9 187.9M443.1 184.9L445.3 184.9M443.1 187.5L446.9 187.5M443.1 184.9L443.1 187.5M440.4 181.6L446.4 181.6M440.4 186.2L443.1 186.2M440.4 181.6L440.4 186.2M440.1 176.9L444.2 176.9M440.1 183.9L440.4 183.9M440.1 176.9L440.1 183.9M438.6 165.0L440.9 165.0M438.6 180.4L440.1 180.4M438.6 165.0L438.6 180.4M436.1 143.4L437.6 143.4M436.1 172.7L438.6 172.7M436.1 143.4L436.1 172.7M448.7 188.7L449.6 188.7M448.7 189.5L449.6 189.5M448.7 188.7L448.7 189.5M448.3 189.1L448.7 189.1M448.3 190.3L449.6 190.3M448.3 189.1L448.3 190.3M447.2 189.7L448.3 189.7M447.2 191.1L449.6 191.1M447.2 189.7L447.2 191.1M448.1 191.9L449.6 191.9M448.1 192.7L449.6 192.7M448.1 191.9L448.1 192.7M446.5 190.4L447.2 190.4M446.5 192.3L448.1 192.3M446.5 190.4L446.5 192.3M448.0 193.5L449.6 193.5M448.0 194.3L449.6 194.3M448.0 193.5L448.0 194.3M448.6 195.1L449.6 195.1M448.6 195.9L449.6 195.9M448.6 195.1L448.6 195.9M447.7 193.9L448.0 193.9M447.7 195.5L448.6 195.5M447.7 193.9L447.7 195.5M441.6 194.7L447.7 194.7M441.6 196.7L449.6 196.7M441.6 194.7L441.6 196.7M440.6 191.3L446.5 191.3M440.6 195.7L441.6 195.7M440.6 191.3L440.6 195.7M447.3 198.3L449.6 198.3M447.3 199.1L449.6 199.1M447.3 198.3L447.3 199.1M448.3 200.7L449.6 200.7M448.3 201.5L449.6 201.5M448.3 200.7L448.3 201.5M447.3 199.9L449.6 199.9M447.3 201.1L448.3 201.1M447.3 199.9L447.3 201.1M447.3 198.7L447.3 198.7M447.3 200.5L447.3 200.5M447.3 198.7L447.3 200.5M444.2 197.5L449.6 197.5M444.2 199.6L447.3 199.6M444.2 197.5L444.2 199.6M444.1 198.6L444.2 198.6M444.1 202.4L449.6 202.4M444.1 198.6L444.1 202.4M445.5 203.2L449.6 203.2M445.5 204.0L449.6 204.0M445.5 203.2L445.5 204.0M440.4 200.5L444.1 200.5M440.4 203.6L445.5 203.6M440.4 200.5L440.4 203.6M448.6 204.8L449.6 204.8M448.6 205.6L449.6 205.6M448.6 204.8L448.6 205.6M448.2 206.4L449.6 206.4M448.2 207.2L449.6 207.2M448.2 206.4L448.2 207.2M445.4 205.2L448.6 205.2M445.4 206.8L448.2 206.8M445.4 205.2L445.4 206.8M448.3 208.0L449.6 208.0M448.3 208.8L449.6 208.8M448.3 208.0L448.3 208.8M447.2 208.4L448.3 208.4M447.2 209.6L449.6 209.6M447.2 208.4L447.2 209.6M444.4 206.0L445.4 206.0M444.4 209.0L447.2 209.0M444.4 206.0L444.4 209.0M439.1 202.0L440.4 202.0M439.1 207.5L444.4 207.5M439.1 202.0L439.1 207.5M437.6 193.5L440.6 193.5M437.6 204.7L439.1 204.7M437.6 193.5L437.6 204.7M434.1 158.1L436.1 158.1M434.1 199.1L437.6 199.1M434.1 158.1L434.1 199.1M431.1 80.4L435.6 80.4M431.1 178.6L434.1 178.6M431.1 80.4L431.1 178.6M428.0 47.0L436.1 47.0M428.0 129.5L431.1 129.5M428.0 47.0L428.0 129.5"/>
<polyline fill="none" stroke="#a6a6a6" stroke-width="0.3" points="550.3,37.8 551.1,37.8 558.4,36.9 559.4,36.9"/>
<text x="561.00" y="39.25" font-size="6.5" fill="#111" text-anchor="start" font-weight="normal" >MPDZ</text>
<polyline fill="none" stroke="#a6a6a6" stroke-width="0.3" points="550.3,38.5 551.1,38.5 558.4,46.0 559.4,46.0"/>
<text x="561.00" y="48.32" font-size="6.5" fill="#111" text-anchor="start" font-weight="normal" >ASMTL</text>
<polyline fill="none" stroke="#a6a6a6" stroke-width="0.3" points="550.3,39.2 551.1,39.2 558.4,55.0 559.4,55.0"/>
<text x="561.00" y="57.39" font-size="6.5" fill="#111" text-anchor="start" font-weight="normal" >LOC102723553</text>
<polyline fill="none" stroke="#a6a6a6" stroke-width="0.3" points="550.3,39.9 551.1,39.9 558.4,64.1 559.4,64.1"/>
<text x="561.00" y="66.46" font-size="6.5" fill="#111" text-anchor="start" font-weight="normal" >TSACC</text>
<polyline fill="none" stroke="#a6a6a6" stroke-width="0.3" points="550.3,40.6 551.1,40.6 558.4,73.2 559.4,73.2"/>
<text x="561.00" y="75.52" font-size="6.5" fill="#111" text-anchor="start" font-weight="normal" >SMIM11</text>
<polyline fill="none" stroke="#a6a6a6" stroke-width="0.3" points="550.3,41.3 551.1,41.3 558.4,82.2 559.4,82.2"/>
<text x="561.00" y="84.59" font-size="6.5" fill="#111" text-anchor="start" font-weight="normal" >LAMC2</text>
<polyline fill="none" stroke="#a6a6a6" stroke-width="0.3" points="550.3,42.0 551.1,42.0 558.4,91.3 559.4,91.3"/>
<text x="561.00" y="93.66" font-size="6.5" fill="#111" text-anchor="start" font-weight="normal" >LOC101929937</text>
<polyline fill="none" stroke="#a6a6a6" stroke-width="0.3" points="550.3,42.7 551.1,42.7 558.4,100.4 559.4,100.4"/>
<text x="561.00" y="102.73" font-size="6.5" fill="#111" text-anchor="start" font-weight="normal" >LOC102724560</text>
<polyline fill="none" stroke="#a6a6a6" stroke-width="0.3" points="550.3,43.4 551.1,43.4 558.4,109.4 559.4,109.4"/>
<text x="561.00" y="111.80" font-size="6.5" fill="#111" text-anchor="start" font-weight="normal" >STXBP6</text>
<polyline fill="none" stroke="#a6a6a6" stroke-width="0.3" points="550.3,44.1 551.1,44.1 558.4,118.5 559.4,118.5"/>
<text x="561.00" y="120.87" font-size="6.5" fill="#111" text-anchor="start" font-weight="normal" >TOX</text>
<polyline fill="none" stroke="#a6a6a6" stroke-width="0.3" points="550.3,64.0 551.1,64.0 558.4,127.6 559.4,127.6"/>
<text x="561.00" y="129.93" font-size="6.5" fill="#111" text-anchor="start" font-weight="normal" >CLEC4M</text>
<polyline fill="none" stroke="#a6a6a6" stroke-width="0.3" points="550.3,68.0 551.1,68.0 558.4,136.7 559.4,136.7"/>
<text x="561.00" y="139.00" font-size="6.5" fill="#111" text-anchor="start" font-weight="normal" >HDGFL3</text>
<polyline fill="none" stroke="#a6a6a6" stroke-width="0.3" points="550.3,75.0 551.1,75.0 558.4,145.7 559.4,145.7"/>
<text x="561.00" y="148.07" font-size="6.5" fill="#111" text-anchor="start" font-weight="normal" >UPK3BL2</text>
<polyline fill="none" stroke="#a6a6a6" stroke-width="0.3" points="550.3,85.0 551.1,85.0 558.4,154.8 559.4,154.8"/>
<text x="561.00" y="157.14" font-size="6.5" fill="#111" text-anchor="start" font-weight="normal" >DRC3</text>
<polyline fill="none" stroke="#a6a6a6" stroke-width="0.3" points="550.3,96.0 551.1,96.0 558.4,163.9 559.4,163.9"/>
<text x="561.00" y="166.21" font-size="6.5" fill="#111" text-anchor="start" font-weight="normal" >FANCD2OS</text>
<polyline fill="none" stroke="#a6a6a6" stroke-width="0.3" points="550.3,178.8 551.1,178.8 558.4,172.9 559.4,172.9"/>
<text x="561.00" y="175.28" font-size="6.5" fill="#111" text-anchor="start" font-weight="normal" >FFAR1</text>
<polyline fill="none" stroke="#a6a6a6" stroke-width="0.3" points="550.3,196.0 551.1,196.0 558.4,182.0 559.4,182.0"/>
<text x="561.00" y="184.34" font-size="6.5" fill="#111" text-anchor="start" font-weight="normal" >CSF2</text>
<polyline fill="none" stroke="#a6a6a6" stroke-width="0.3" points="550.3,199.0 551.1,199.0 558.4,191.1 559.4,191.1"/>
<text x="561.00" y="193.41" font-size="6.5" fill="#111" text-anchor="start" font-weight="normal" >OR5B12</text>
<polyline fill="none" stroke="#a6a6a6" stroke-width="0.3" points="550.3,201.5 551.1,201.5 558.4,200.1 559.4,200.1"/>
<text x="561.00" y="202.48" font-size="6.5" fill="#111" text-anchor="start" font-weight="normal" >SERPINB7</text>
<polyline fill="none" stroke="#a6a6a6" stroke-width="0.3" points="550.3,203.5 551.1,203.5 558.4,209.2 559.4,209.2"/>
<text x="561.00" y="211.55" font-size="6.5" fill="#111" text-anchor="start" font-weight="normal" >ADAMTS20</text>
<text transform="translate(457.55,212.00) rotate(90)" font-size="6.55" fill="#111" text-anchor="start" >sh−TDRD9_2</text>
<text transform="translate(474.25,212.00) rotate(90)" font-size="6.55" fill="#111" text-anchor="start" >sh−TDRD9_1</text>
<text transform="translate(490.95,212.00) rotate(90)" font-size="6.55" fill="#111" text-anchor="start" >sh−TDRD9_3</text>
<text transform="translate(507.65,212.00) rotate(90)" font-size="6.55" fill="#111" text-anchor="start" >sh−NC_2</text>
<text transform="translate(524.35,212.00) rotate(90)" font-size="6.55" fill="#111" text-anchor="start" >sh−NC_1</text>
<text transform="translate(541.05,212.00) rotate(90)" font-size="6.55" fill="#111" text-anchor="start" >sh−NC_3</text>
<g shape-rendering="crispEdges">
<rect x="622.10" y="35.30" width="4.20" height="1.14" fill="#d93a2d" stroke="none" stroke-width="0.5" />
<rect x="622.10" y="36.34" width="4.20" height="1.14" fill="#dc4532" stroke="none" stroke-width="0.5" />
<rect x="622.10" y="37.38" width="4.20" height="1.14" fill="#df4f37" stroke="none" stroke-width="0.5" />
<rect x="622.10" y="38.41" width="4.20" height="1.14" fill="#e2593c" stroke="none" stroke-width="0.5" />
<rect x="622.10" y="39.45" width="4.20" height="1.14" fill="#e56441" stroke="none" stroke-width="0.5" />
<rect x="622.10" y="40.49" width="4.20" height="1.14" fill="#e96e46" stroke="none" stroke-width="0.5" />
<rect x="622.10" y="41.53" width="4.20" height="1.14" fill="#ec794b" stroke="none" stroke-width="0.5" />
<rect x="622.10" y="42.57" width="4.20" height="1.14" fill="#ef8350" stroke="none" stroke-width="0.5" />
<rect x="622.10" y="43.61" width="4.20" height="1.14" fill="#f08c57" stroke="none" stroke-width="0.5" />
<rect x="622.10" y="44.64" width="4.20" height="1.14" fill="#f1955e" stroke="none" stroke-width="0.5" />
<rect x="622.10" y="45.68" width="4.20" height="1.14" fill="#f39d66" stroke="none" stroke-width="0.5" />
<rect x="622.10" y="46.72" width="4.20" height="1.14" fill="#f4a66d" stroke="none" stroke-width="0.5" />
<rect x="622.10" y="47.76" width="4.20" height="1.14" fill="#f5af74" stroke="none" stroke-width="0.5" />
<rect x="622.10" y="48.80" width="4.20" height="1.14" fill="#f6b87b" stroke="none" stroke-width="0.5" />
<rect x="622.10" y="49.84" width="4.20" height="1.14" fill="#f7c182" stroke="none" stroke-width="0.5" />
<rect x="622.10" y="50.88" width="4.20" height="1.14" fill="#f8c88a" stroke="none" stroke-width="0.5" />
<rect x="622.10" y="51.91" width="4.20" height="1.14" fill="#f9cd92" stroke="none" stroke-width="0.5" />
<rect x="622.10" y="52.95" width="4.20" height="1.14" fill="#fad299" stroke="none" stroke-width="0.5" />
<rect x="622.10" y="53.99" width="4.20" height="1.14" fill="#fad7a1" stroke="none" stroke-width="0.5" />
<rect x="622.10" y="55.03" width="4.20" height="1.14" fill="#fbdca9" stroke="none" stroke-width="0.5" />
<rect x="622.10" y="56.07" width="4.20" height="1.14" fill="#fce1b1" stroke="none" stroke-width="0.5" />
<rect x="622.10" y="57.10" width="4.20" height="1.14" fill="#fce6b8" stroke="none" stroke-width="0.5" />
<rect x="622.10" y="58.14" width="4.20" height="1.14" fill="#fdebc0" stroke="none" stroke-width="0.5" />
<rect x="622.10" y="59.18" width="4.20" height="1.14" fill="#fcedc7" stroke="none" stroke-width="0.5" />
<rect x="622.10" y="60.22" width="4.20" height="1.14" fill="#fbefcf" stroke="none" stroke-width="0.5" />
<rect x="622.10" y="61.26" width="4.20" height="1.14" fill="#f9f1d6" stroke="none" stroke-width="0.5" />
<rect x="622.10" y="62.30" width="4.20" height="1.14" fill="#f8f3de" stroke="none" stroke-width="0.5" />
<rect x="622.10" y="63.33" width="4.20" height="1.14" fill="#f7f5e5" stroke="none" stroke-width="0.5" />
<rect x="622.10" y="64.37" width="4.20" height="1.14" fill="#f6f7ed" stroke="none" stroke-width="0.5" />
<rect x="622.10" y="65.41" width="4.20" height="1.14" fill="#f5f9f4" stroke="none" stroke-width="0.5" />
<rect x="622.10" y="66.45" width="4.20" height="1.14" fill="#f1f8f7" stroke="none" stroke-width="0.5" />
<rect x="622.10" y="67.49" width="4.20" height="1.14" fill="#ecf4f6" stroke="none" stroke-width="0.5" />
<rect x="622.10" y="68.53" width="4.20" height="1.14" fill="#e6f1f4" stroke="none" stroke-width="0.5" />
<rect x="622.10" y="69.56" width="4.20" height="1.14" fill="#e0edf2" stroke="none" stroke-width="0.5" />
<rect x="622.10" y="70.60" width="4.20" height="1.14" fill="#dbe9f1" stroke="none" stroke-width="0.5" />
<rect x="622.10" y="71.64" width="4.20" height="1.14" fill="#d5e5ef" stroke="none" stroke-width="0.5" />
<rect x="622.10" y="72.68" width="4.20" height="1.14" fill="#d0e1ee" stroke="none" stroke-width="0.5" />
<rect x="622.10" y="73.72" width="4.20" height="1.14" fill="#cadeec" stroke="none" stroke-width="0.5" />
<rect x="622.10" y="74.76" width="4.20" height="1.14" fill="#c4daea" stroke="none" stroke-width="0.5" />
<rect x="622.10" y="75.79" width="4.20" height="1.14" fill="#bfd6e9" stroke="none" stroke-width="0.5" />
<rect x="622.10" y="76.83" width="4.20" height="1.14" fill="#b9d2e7" stroke="none" stroke-width="0.5" />
<rect x="622.10" y="77.87" width="4.20" height="1.14" fill="#b3cde4" stroke="none" stroke-width="0.5" />
<rect x="622.10" y="78.91" width="4.20" height="1.14" fill="#adc8e2" stroke="none" stroke-width="0.5" />
<rect x="622.10" y="79.95" width="4.20" height="1.14" fill="#a7c3df" stroke="none" stroke-width="0.5" />
<rect x="622.10" y="80.99" width="4.20" height="1.14" fill="#a1bedd" stroke="none" stroke-width="0.5" />
<rect x="622.10" y="82.03" width="4.20" height="1.14" fill="#9ab9da" stroke="none" stroke-width="0.5" />
<rect x="622.10" y="83.06" width="4.20" height="1.14" fill="#94b4d8" stroke="none" stroke-width="0.5" />
<rect x="622.10" y="84.10" width="4.20" height="1.14" fill="#8eafd5" stroke="none" stroke-width="0.5" />
<rect x="622.10" y="85.14" width="4.20" height="1.14" fill="#88aad3" stroke="none" stroke-width="0.5" />
<rect x="622.10" y="86.18" width="4.20" height="1.14" fill="#82a5d0" stroke="none" stroke-width="0.5" />
<rect x="622.10" y="87.22" width="4.20" height="1.14" fill="#7ca1ce" stroke="none" stroke-width="0.5" />
<rect x="622.10" y="88.25" width="4.20" height="1.14" fill="#779dcc" stroke="none" stroke-width="0.5" />
<rect x="622.10" y="89.29" width="4.20" height="1.14" fill="#7298c9" stroke="none" stroke-width="0.5" />
<rect x="622.10" y="90.33" width="4.20" height="1.14" fill="#6c94c7" stroke="none" stroke-width="0.5" />
<rect x="622.10" y="91.37" width="4.20" height="1.14" fill="#6790c5" stroke="none" stroke-width="0.5" />
<rect x="622.10" y="92.41" width="4.20" height="1.14" fill="#628bc2" stroke="none" stroke-width="0.5" />
<rect x="622.10" y="93.45" width="4.20" height="1.14" fill="#5d87c0" stroke="none" stroke-width="0.5" />
<rect x="622.10" y="94.48" width="4.20" height="1.14" fill="#5783be" stroke="none" stroke-width="0.5" />
<rect x="622.10" y="95.52" width="4.20" height="1.14" fill="#527ebb" stroke="none" stroke-width="0.5" />
<rect x="622.10" y="96.56" width="4.20" height="1.14" fill="#4d7ab9" stroke="none" stroke-width="0.5" />
</g>
<text x="628.00" y="37.95" font-size="6.5" fill="#111" text-anchor="start" font-weight="normal" >2</text>
<text x="628.00" y="53.15" font-size="6.5" fill="#111" text-anchor="start" font-weight="normal" >1</text>
<text x="628.00" y="68.35" font-size="6.5" fill="#111" text-anchor="start" font-weight="normal" >0</text>
<text x="628.00" y="83.55" font-size="6.5" fill="#111" text-anchor="start" font-weight="normal" >−1</text>
<text x="628.00" y="98.95" font-size="6.5" fill="#111" text-anchor="start" font-weight="normal" >−2</text>
<text x="644.20" y="31.20" font-size="6.5" fill="#111" text-anchor="start" font-weight="normal" >group</text>
<rect x="644.20" y="35.30" width="5.90" height="6.00" fill="#8ed3f4" stroke="none" stroke-width="0.5" />
<rect x="644.20" y="41.30" width="5.90" height="6.10" fill="#f0a15c" stroke="none" stroke-width="0.5" />
<text x="651.80" y="40.60" font-size="6.5" fill="#111" text-anchor="start" font-weight="normal" >sh−TDRD9</text>
<text x="651.80" y="46.60" font-size="6.5" fill="#111" text-anchor="start" font-weight="normal" >sh−NC</text>
</g>
<g>
<text x="202.60" y="187.90" font-size="7.2" fill="#111" text-anchor="middle" font-weight="normal" >sh−TDRD9−vs−sh−NC(Total)</text>
<text x="202.00" y="194.80" font-size="7.2" fill="#111" text-anchor="middle" font-weight="normal" >Top 30 GO Term</text>
<rect x="149.30" y="198.30" width="98.00" height="104.10" fill="#fff" stroke="#444" stroke-width="0.6" />
<rect x="247.10" y="198.00" width="7.00" height="104.70" fill="#6db142" stroke="none" stroke-width="0.5" />
<text transform="translate(247.60,253.25) rotate(90)" font-size="7.6" fill="#1a1a1a" text-anchor="middle" >BP</text>
<rect x="149.30" y="202.25" width="31.07" height="4.30" fill="#6db142" stroke="none" stroke-width="0.5" />
<line x1="147.90" y1="204.40" x2="149.30" y2="204.40" stroke="#444" stroke-width="0.4" />
<text x="146.50" y="206.80" font-size="7.18" fill="#111" text-anchor="end" font-weight="normal" >inflammatory response</text>
<rect x="149.30" y="212.47" width="32.96" height="4.30" fill="#6db142" stroke="none" stroke-width="0.5" />
<line x1="147.90" y1="214.62" x2="149.30" y2="214.62" stroke="#444" stroke-width="0.4" />
<text x="146.50" y="217.02" font-size="7.18" fill="#111" text-anchor="end" font-weight="normal" >positive regulation of MAPK cascade</text>
<rect x="149.30" y="222.69" width="36.42" height="4.30" fill="#6db142" stroke="none" stroke-width="0.5" />
<line x1="147.90" y1="224.84" x2="149.30" y2="224.84" stroke="#444" stroke-width="0.4" />
<text x="146.50" y="223.54" font-size="7.18" fill="#111" text-anchor="end" font-weight="normal" >positive regulation of tyrosine</text>
<text x="146.50" y="229.34" font-size="7.18" fill="#111" text-anchor="end" font-weight="normal" >phosphorylation of STAT protein</text>
<rect x="149.30" y="232.91" width="38.00" height="4.30" fill="#6db142" stroke="none" stroke-width="0.5" />
<line x1="147.90" y1="235.06" x2="149.30" y2="235.06" stroke="#444" stroke-width="0.4" />
<text x="146.50" y="237.46" font-size="7.18" fill="#111" text-anchor="end" font-weight="normal" >positive regulation of T cell proliferation</text>
<rect x="149.30" y="243.13" width="38.00" height="4.30" fill="#6db142" stroke="none" stroke-width="0.5" />
<line x1="147.90" y1="245.28" x2="149.30" y2="245.28" stroke="#444" stroke-width="0.4" />
<text x="146.50" y="247.68" font-size="7.18" fill="#111" text-anchor="end" font-weight="normal" >neutrophil chemotaxis</text>
<rect x="149.30" y="253.35" width="38.63" height="4.30" fill="#6db142" stroke="none" stroke-width="0.5" />
<line x1="147.90" y1="255.50" x2="149.30" y2="255.50" stroke="#444" stroke-width="0.4" />
<text x="146.50" y="253.70" font-size="7.18" fill="#111" text-anchor="end" font-weight="normal" >positive regulation of cell population</text>
<text x="146.50" y="260.00" font-size="7.18" fill="#111" text-anchor="end" font-weight="normal" >proliferation</text>
<rect x="149.30" y="263.57" width="44.30" height="4.30" fill="#6db142" stroke="none" stroke-width="0.5" />
<line x1="147.90" y1="265.72" x2="149.30" y2="265.72" stroke="#444" stroke-width="0.4" />
<text x="146.50" y="266.22" font-size="7.18" fill="#111" text-anchor="end" font-weight="normal" >positive regulation of MAP kinase</text>
<text x="146.50" y="271.22" font-size="7.18" fill="#111" text-anchor="end" font-weight="normal" >activity</text>
<rect x="149.30" y="273.79" width="45.56" height="4.30" fill="#6db142" stroke="none" stroke-width="0.5" />
<line x1="147.90" y1="275.94" x2="149.30" y2="275.94" stroke="#444" stroke-width="0.4" />
<text x="146.50" y="278.34" font-size="7.18" fill="#111" text-anchor="end" font-weight="normal" >immune response</text>
<rect x="149.30" y="284.01" width="46.19" height="4.30" fill="#6db142" stroke="none" stroke-width="0.5" />
<line x1="147.90" y1="286.16" x2="149.30" y2="286.16" stroke="#444" stroke-width="0.4" />
<text x="146.50" y="288.56" font-size="7.18" fill="#111" text-anchor="end" font-weight="normal" >positive regulation of cell migration</text>
<rect x="149.30" y="294.23" width="51.23" height="4.30" fill="#6db142" stroke="none" stroke-width="0.5" />
<line x1="147.90" y1="296.38" x2="149.30" y2="296.38" stroke="#444" stroke-width="0.4" />
<text x="146.50" y="298.78" font-size="7.18" fill="#111" text-anchor="end" font-weight="normal" >cellular response to lipopolysaccharide</text>
<rect x="149.30" y="306.70" width="98.00" height="104.10" fill="#fff" stroke="#444" stroke-width="0.6" />
<rect x="247.10" y="306.40" width="7.00" height="104.70" fill="#e2793a" stroke="none" stroke-width="0.5" />
<text transform="translate(247.60,361.65) rotate(90)" font-size="7.6" fill="#1a1a1a" text-anchor="middle" >CC</text>
<rect x="149.30" y="311.25" width="17.21" height="4.30" fill="#e2793a" stroke="none" stroke-width="0.5" />
<line x1="147.90" y1="313.40" x2="149.30" y2="313.40" stroke="#444" stroke-width="0.4" />
<text x="146.50" y="315.80" font-size="7.18" fill="#111" text-anchor="end" font-weight="normal" >platelet alpha granule lumen</text>
<rect x="149.30" y="321.47" width="19.10" height="4.30" fill="#e2793a" stroke="none" stroke-width="0.5" />
<line x1="147.90" y1="323.62" x2="149.30" y2="323.62" stroke="#444" stroke-width="0.4" />
<text x="146.50" y="326.02" font-size="7.18" fill="#111" text-anchor="end" font-weight="normal" >basal part of cell</text>
<rect x="149.30" y="331.69" width="19.10" height="4.30" fill="#e2793a" stroke="none" stroke-width="0.5" />
<line x1="147.90" y1="333.84" x2="149.30" y2="333.84" stroke="#444" stroke-width="0.4" />
<text x="146.50" y="336.24" font-size="7.18" fill="#111" text-anchor="end" font-weight="normal" >ciliary rootlet</text>
<rect x="149.30" y="341.91" width="21.62" height="4.30" fill="#e2793a" stroke="none" stroke-width="0.5" />
<line x1="147.90" y1="344.06" x2="149.30" y2="344.06" stroke="#444" stroke-width="0.4" />
<text x="146.50" y="346.46" font-size="7.18" fill="#111" text-anchor="end" font-weight="normal" >plasma membrane</text>
<rect x="149.30" y="352.13" width="23.51" height="4.30" fill="#e2793a" stroke="none" stroke-width="0.5" />
<line x1="147.90" y1="354.28" x2="149.30" y2="354.28" stroke="#444" stroke-width="0.4" />
<text x="146.50" y="356.68" font-size="7.18" fill="#111" text-anchor="end" font-weight="normal" >endoplasmic reticulum lumen</text>
<rect x="149.30" y="362.35" width="23.51" height="4.30" fill="#e2793a" stroke="none" stroke-width="0.5" />
<line x1="147.90" y1="364.50" x2="149.30" y2="364.50" stroke="#444" stroke-width="0.4" />
<text x="146.50" y="366.90" font-size="7.18" fill="#111" text-anchor="end" font-weight="normal" >cell surface</text>
<rect x="149.30" y="372.57" width="27.60" height="4.30" fill="#e2793a" stroke="none" stroke-width="0.5" />
<line x1="147.90" y1="374.72" x2="149.30" y2="374.72" stroke="#444" stroke-width="0.4" />
<text x="146.50" y="377.12" font-size="7.18" fill="#111" text-anchor="end" font-weight="normal" >collagen−containing extracellular matrix</text>
<rect x="149.30" y="382.79" width="44.68" height="4.30" fill="#e2793a" stroke="none" stroke-width="0.5" />
<line x1="147.90" y1="384.94" x2="149.30" y2="384.94" stroke="#444" stroke-width="0.4" />
<text x="146.50" y="387.34" font-size="7.18" fill="#111" text-anchor="end" font-weight="normal" >external side of plasma membrane</text>
<rect x="149.30" y="393.01" width="60.05" height="4.30" fill="#e2793a" stroke="none" stroke-width="0.5" />
<line x1="147.90" y1="395.16" x2="149.30" y2="395.16" stroke="#444" stroke-width="0.4" />
<text x="146.50" y="397.56" font-size="7.18" fill="#111" text-anchor="end" font-weight="normal" >extracellular space</text>
<rect x="149.30" y="403.23" width="73.91" height="4.30" fill="#e2793a" stroke="none" stroke-width="0.5" />
<line x1="147.90" y1="405.38" x2="149.30" y2="405.38" stroke="#444" stroke-width="0.4" />
<text x="146.50" y="407.78" font-size="7.18" fill="#111" text-anchor="end" font-weight="normal" >extracellular region</text>
<rect x="149.30" y="417.00" width="98.00" height="104.00" fill="#fff" stroke="#444" stroke-width="0.6" />
<rect x="247.10" y="416.70" width="7.00" height="104.60" fill="#639ad0" stroke="none" stroke-width="0.5" />
<text transform="translate(247.60,471.90) rotate(90)" font-size="7.6" fill="#1a1a1a" text-anchor="middle" >MF</text>
<rect x="149.30" y="420.65" width="15.32" height="4.30" fill="#639ad0" stroke="none" stroke-width="0.5" />
<line x1="147.90" y1="422.80" x2="149.30" y2="422.80" stroke="#444" stroke-width="0.4" />
<text x="146.50" y="420.20" font-size="7.18" fill="#111" text-anchor="end" font-weight="normal" >acetylcholine−gated monoatomic</text>
<text x="146.50" y="427.10" font-size="7.18" fill="#111" text-anchor="end" font-weight="normal" >cation−selective channel activity</text>
<rect x="149.30" y="430.87" width="17.21" height="4.30" fill="#639ad0" stroke="none" stroke-width="0.5" />
<line x1="147.90" y1="433.02" x2="149.30" y2="433.02" stroke="#444" stroke-width="0.4" />
<text x="146.50" y="432.52" font-size="7.18" fill="#111" text-anchor="end" font-weight="normal" >collagen binding involved in cell−matrix</text>
<text x="146.50" y="438.02" font-size="7.18" fill="#111" text-anchor="end" font-weight="normal" >adhesion</text>
<rect x="149.30" y="441.09" width="19.73" height="4.30" fill="#639ad0" stroke="none" stroke-width="0.5" />
<line x1="147.90" y1="443.24" x2="149.30" y2="443.24" stroke="#444" stroke-width="0.4" />
<text x="146.50" y="445.64" font-size="7.18" fill="#111" text-anchor="end" font-weight="normal" >virus receptor activity</text>
<rect x="149.30" y="451.31" width="21.62" height="4.30" fill="#639ad0" stroke="none" stroke-width="0.5" />
<line x1="147.90" y1="453.46" x2="149.30" y2="453.46" stroke="#444" stroke-width="0.4" />
<text x="146.50" y="455.86" font-size="7.18" fill="#111" text-anchor="end" font-weight="normal" >chemokine activity</text>
<rect x="149.30" y="461.53" width="21.62" height="4.30" fill="#639ad0" stroke="none" stroke-width="0.5" />
<line x1="147.90" y1="463.68" x2="149.30" y2="463.68" stroke="#444" stroke-width="0.4" />
<text x="146.50" y="466.08" font-size="7.18" fill="#111" text-anchor="end" font-weight="normal" >platelet−derived growth factor binding</text>
<rect x="149.30" y="471.75" width="24.14" height="4.30" fill="#639ad0" stroke="none" stroke-width="0.5" />
<line x1="147.90" y1="473.90" x2="149.30" y2="473.90" stroke="#444" stroke-width="0.4" />
<text x="146.50" y="476.30" font-size="7.18" fill="#111" text-anchor="end" font-weight="normal" >receptor ligand activity</text>
<rect x="149.30" y="481.97" width="28.55" height="4.30" fill="#639ad0" stroke="none" stroke-width="0.5" />
<line x1="147.90" y1="484.12" x2="149.30" y2="484.12" stroke="#444" stroke-width="0.4" />
<text x="146.50" y="486.52" font-size="7.18" fill="#111" text-anchor="end" font-weight="normal" >integrin binding</text>
<rect x="149.30" y="492.19" width="49.97" height="4.30" fill="#639ad0" stroke="none" stroke-width="0.5" />
<line x1="147.90" y1="494.34" x2="149.30" y2="494.34" stroke="#444" stroke-width="0.4" />
<text x="146.50" y="496.74" font-size="7.18" fill="#111" text-anchor="end" font-weight="normal" >collagen binding</text>
<rect x="149.30" y="502.41" width="71.39" height="4.30" fill="#639ad0" stroke="none" stroke-width="0.5" />
<line x1="147.90" y1="504.56" x2="149.30" y2="504.56" stroke="#444" stroke-width="0.4" />
<text x="146.50" y="506.96" font-size="7.18" fill="#111" text-anchor="end" font-weight="normal" >growth factor activity</text>
<rect x="149.30" y="512.63" width="89.03" height="4.30" fill="#639ad0" stroke="none" stroke-width="0.5" />
<line x1="147.90" y1="514.78" x2="149.30" y2="514.78" stroke="#444" stroke-width="0.4" />
<text x="146.50" y="517.18" font-size="7.18" fill="#111" text-anchor="end" font-weight="normal" >cytokine activity</text>
<line x1="149.70" y1="521.00" x2="149.70" y2="522.60" stroke="#444" stroke-width="0.4" />
<text x="149.70" y="529.70" font-size="7.3" fill="#111" text-anchor="middle" font-weight="normal" >0</text>
<line x1="174.54" y1="521.00" x2="174.54" y2="522.60" stroke="#444" stroke-width="0.4" />
<text x="174.54" y="529.70" font-size="7.3" fill="#111" text-anchor="middle" font-weight="normal" >4</text>
<line x1="199.38" y1="521.00" x2="199.38" y2="522.60" stroke="#444" stroke-width="0.4" />
<text x="199.38" y="529.70" font-size="7.3" fill="#111" text-anchor="middle" font-weight="normal" >8</text>
<line x1="224.22" y1="521.00" x2="224.22" y2="522.60" stroke="#444" stroke-width="0.4" />
<text x="224.22" y="529.70" font-size="7.3" fill="#111" text-anchor="middle" font-weight="normal" >12</text>
<text x="197.0" y="537.6" font-size="6.9" fill="#111" text-anchor="middle">−Log<tspan font-size="4.2" dy="1.5">10</tspan><tspan dy="-1.5"> p value</tspan></text>
</g>
<g>
<rect x="342.30" y="257.90" width="302.20" height="266.40" fill="#fff" stroke="#555" stroke-width="0.6" />
<path d="M444.6,276.7 Q457.4,275.8 469.4,271.3" fill="none" stroke="#cdcdcd" stroke-width="0.55"/>
<path d="M371.4,346.5 Q370.5,359.8 364.5,371.8" fill="none" stroke="#cdcdcd" stroke-width="0.55"/>
<path d="M364.4,411.4 Q370.2,423.0 371.3,435.9" fill="none" stroke="#cdcdcd" stroke-width="0.55"/>
<path d="M391.7,469.5 Q403.0,476.3 410.1,487.5" fill="none" stroke="#cdcdcd" stroke-width="0.55"/>
<path d="M444.7,505.8 Q457.5,506.0 469.4,510.8" fill="none" stroke="#cdcdcd" stroke-width="0.55"/>
<path d="M507.6,275.2 Q538.5,307.9 579.5,326.7" fill="none" stroke="#cdcdcd" stroke-width="0.55"/>
<path d="M563.7,306.1 Q590.8,377.0 581.9,452.3" fill="none" stroke="#cdcdcd" stroke-width="0.55"/>
<path d="M415.7,293.7 Q519.6,336.5 591.2,423.0" fill="none" stroke="#cdcdcd" stroke-width="0.55"/>
<path d="M391.8,316.0 Q487.4,359.2 592.3,358.6" fill="none" stroke="#cdcdcd" stroke-width="0.55"/>
<path d="M507.6,507.4 Q548.1,466.6 590.9,428.3" fill="none" stroke="#cdcdcd" stroke-width="0.55"/>
<path d="M507.5,507.1 Q536.3,473.2 577.9,457.3" fill="none" stroke="#cdcdcd" stroke-width="0.55"/>
<path d="M537.7,497.2 Q567.3,465.1 591.6,428.9" fill="none" stroke="#cdcdcd" stroke-width="0.55"/>
<path d="M537.6,496.9 Q546.0,487.2 558.0,482.4" fill="none" stroke="#cdcdcd" stroke-width="0.55"/>
<path d="M601.2,395.5 Q604.2,410.2 595.9,422.7" fill="none" stroke="#cdcdcd" stroke-width="0.55"/>
<path d="M537.2,286.9 C561,331 600,441 563.8,478.4" fill="none" stroke="#cdcdcd" stroke-width="0.55"/>
<circle cx="441.00" cy="276.90" r="2.05" fill="#b9e3f7" />
<circle cx="472.80" cy="270.00" r="2.05" fill="#cfeaf8" />
<circle cx="505.10" cy="272.50" r="2.15" fill="#4a7fb5" />
<circle cx="536.10" cy="283.60" r="2.05" fill="#d5edf9" />
<circle cx="562.40" cy="302.60" r="2.05" fill="#a9dcf6" />
<circle cx="582.80" cy="328.20" r="2.05" fill="#c4e7f8" />
<circle cx="596.00" cy="358.60" r="2.05" fill="#c4e7f8" />
<circle cx="600.30" cy="391.60" r="2.05" fill="#a9dcf6" />
<circle cx="593.60" cy="425.90" r="2.05" fill="#c4e7f8" />
<circle cx="581.40" cy="456.00" r="2.15" fill="#8fcdf3" />
<circle cx="561.50" cy="481.10" r="2.05" fill="#b9e3f7" />
<circle cx="535.20" cy="499.80" r="2.05" fill="#d5edf9" />
<circle cx="505.10" cy="510.00" r="2.05" fill="#a9dcf6" />
<circle cx="472.80" cy="512.30" r="2.05" fill="#cfeaf8" />
<circle cx="441.00" cy="505.90" r="2.05" fill="#b9e3f7" />
<circle cx="412.00" cy="490.70" r="2.15" fill="#8fcdf3" />
<circle cx="388.40" cy="467.70" r="2.05" fill="#d5edf9" />
<circle cx="371.50" cy="439.60" r="2.05" fill="#b9e3f7" />
<circle cx="362.70" cy="408.10" r="2.05" fill="#8fcdf3" />
<circle cx="362.70" cy="375.00" r="2.05" fill="#cfeaf8" />
<circle cx="371.50" cy="342.80" r="2.05" fill="#a9dcf6" />
<circle cx="388.40" cy="314.50" r="2.05" fill="#cfeaf8" />
<circle cx="412.30" cy="292.30" r="2.15" fill="#4f8fc9" />
<text x="431.60" y="271.00" font-size="9.3" fill="#111" text-anchor="start" font-weight="normal" >COL6A2</text>
<text x="457.90" y="286.00" font-size="9.3" fill="#111" text-anchor="start" font-weight="normal" >COL6A1</text>
<text x="498.70" y="269.70" font-size="9.3" fill="#111" text-anchor="start" font-weight="normal" >CLEC4M</text>
<text x="524.40" y="290.10" font-size="9.3" fill="#111" text-anchor="start" font-weight="normal" >CD40</text>
<text x="549.20" y="308.50" font-size="9.3" fill="#111" text-anchor="start" font-weight="normal" >CD274</text>
<text x="579.00" y="325.10" font-size="9.3" fill="#111" text-anchor="start" font-weight="normal" >CD209</text>
<text x="582.80" y="364.80" font-size="9.3" fill="#111" text-anchor="start" font-weight="normal" >CCL20</text>
<text x="590.10" y="397.50" font-size="9.3" fill="#111" text-anchor="start" font-weight="normal" >A2M</text>
<text x="586.30" y="430.40" font-size="9.3" fill="#111" text-anchor="start" font-weight="normal" >IL1B</text>
<text x="580.80" y="451.70" font-size="9.3" fill="#111" text-anchor="start" font-weight="normal" >CD80</text>
<text x="563.80" y="477.40" font-size="9.3" fill="#111" text-anchor="start" font-weight="normal" >IL6</text>
<text x="526.80" y="505.40" font-size="9.3" fill="#111" text-anchor="start" font-weight="normal" >IL10</text>
<text x="489.40" y="516.80" font-size="9.3" fill="#111" text-anchor="start" font-weight="normal" >TNFRSF4</text>
<text x="459.60" y="519.10" font-size="9.3" fill="#111" text-anchor="start" font-weight="normal" >PTGS2</text>
<text x="436.60" y="503.00" font-size="9.3" fill="#111" text-anchor="start" font-weight="normal" >PTGES</text>
<text x="407.70" y="487.90" font-size="9.3" fill="#111" text-anchor="start" font-weight="normal" >PDGFB</text>
<text x="374.70" y="474.20" font-size="9.3" fill="#111" text-anchor="start" font-weight="normal" >PDGFA</text>
<text x="369.40" y="437.40" font-size="9.3" fill="#111" text-anchor="start" font-weight="normal" >KLC3</text>
<text x="359.80" y="405.30" font-size="9.3" fill="#111" text-anchor="start" font-weight="normal" >KIF5C</text>
<text x="361.50" y="372.00" font-size="9.3" fill="#111" text-anchor="start" font-weight="normal" >FLT1</text>
<text x="369.40" y="340.00" font-size="9.3" fill="#111" text-anchor="start" font-weight="normal" >FGF2</text>
<text x="375.30" y="321.00" font-size="9.3" fill="#111" text-anchor="start" font-weight="normal" >CXCL5</text>
<text x="401.00" y="298.80" font-size="9.3" fill="#111" text-anchor="start" font-weight="normal" >CSF2</text>
<text x="615.50" y="325.70" font-size="7.5" fill="#111" text-anchor="start" font-weight="normal" >Degree</text>
<circle cx="620.70" cy="333.60" r="1.60" fill="#000" />
<text x="630.40" y="335.00" font-size="7.3" fill="#111" text-anchor="start" font-weight="normal" >2</text>
<circle cx="620.70" cy="342.70" r="2.30" fill="#000" />
<text x="630.40" y="344.20" font-size="7.3" fill="#111" text-anchor="start" font-weight="normal" >3</text>
<circle cx="620.70" cy="353.70" r="1.60" fill="#000" />
<text x="630.40" y="354.20" font-size="7.3" fill="#111" text-anchor="start" font-weight="normal" >4</text>
<circle cx="620.70" cy="364.40" r="1.60" fill="#000" />
<text x="630.40" y="364.60" font-size="7.3" fill="#111" text-anchor="start" font-weight="normal" >5</text>
<circle cx="620.70" cy="375.50" r="1.60" fill="#000" />
<text x="630.40" y="375.20" font-size="7.3" fill="#111" text-anchor="start" font-weight="normal" >6</text>
<circle cx="620.70" cy="386.80" r="1.60" fill="#000" />
<text x="630.40" y="386.40" font-size="7.3" fill="#111" text-anchor="start" font-weight="normal" >7</text>
<circle cx="620.70" cy="398.30" r="1.60" fill="#000" />
<text x="630.40" y="398.50" font-size="7.3" fill="#111" text-anchor="start" font-weight="normal" >8</text>
<text x="610.8" y="411.9" font-size="8.2" fill="#111">Log<tspan font-size="5.0" dy="1.8">2</tspan><tspan dy="-1.8">FC</tspan></text>
<defs><linearGradient id="gfc" x1="0" y1="0" x2="0" y2="1"><stop offset="0" stop-color="#e9474d"/><stop offset="0.25" stop-color="#f3a4aa"/><stop offset="0.5" stop-color="#fcfcfd"/><stop offset="0.72" stop-color="#9bd7f5"/><stop offset="1" stop-color="#4c84bb"/></linearGradient></defs>
<rect x="615.60" y="416.90" width="9.50" height="44.20" fill="url(#gfc)" stroke="none" stroke-width="0.5" />
<text x="628.30" y="429.20" font-size="7.3" fill="#111" text-anchor="start" font-weight="normal" >2.5</text>
<text x="628.30" y="441.60" font-size="7.3" fill="#111" text-anchor="start" font-weight="normal" >0.0</text>
<text x="628.30" y="452.40" font-size="7.3" fill="#111" text-anchor="start" font-weight="normal" >−2.5</text>
</g>
</svg></body></html>
